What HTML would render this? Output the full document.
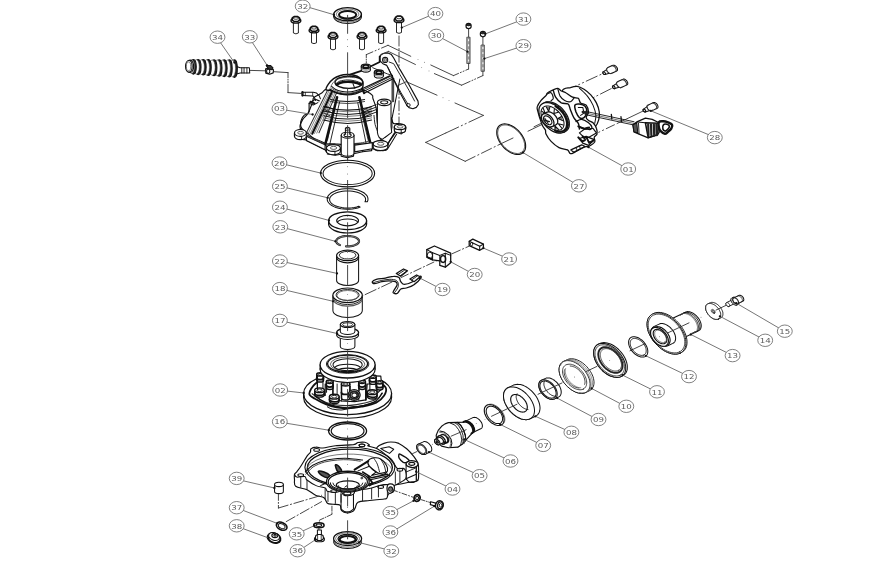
<!DOCTYPE html>
<html><head><meta charset="utf-8"><title>Exploded view</title>
<style>
html,body{margin:0;padding:0;background:#fff;}
body{width:885px;height:573px;overflow:hidden;}
svg{display:block;}
svg{filter:grayscale(1);}
.t{font-family:"DejaVu Sans","Liberation Sans",sans-serif;font-size:7.4px;fill:#5a5a5a;}
</style></head><body>
<svg width="885" height="573" viewBox="0 0 885 573" stroke-linecap="round" stroke-linejoin="round">
<rect x="0" y="0" width="885" height="573" fill="#fff"/>
<ellipse cx="347.6" cy="16.8" rx="13.8" ry="6.6" fill="none" stroke="#111" stroke-width="1.02" stroke-linecap="butt" />
<ellipse cx="347.6" cy="15.5" rx="13.8" ry="6.6" fill="none" stroke="#555" stroke-width="0.77" stroke-linecap="butt" />
<ellipse cx="347.6" cy="14.2" rx="13.8" ry="6.6" fill="#fff" stroke="#111" stroke-width="1.41" stroke-linecap="butt" />
<ellipse cx="347.6" cy="14.2" rx="11.3" ry="5.2" fill="none" stroke="#555" stroke-width="0.77" stroke-linecap="butt" />
<ellipse cx="347.6" cy="14.799999999999999" rx="8.6" ry="3.8" fill="none" stroke="#111" stroke-width="2.05" stroke-linecap="butt" />
<path d="M333.8 14.2 v2.6 M361.40000000000003 14.2 v2.6" fill="none" stroke="#111" stroke-width="1.02" />
<path d="M293.4 22.0 V33.0 Q295.9 34.7 298.4 33.0 V22.0" fill="#fff" stroke="#111" stroke-width="0.90" />
<ellipse cx="295.9" cy="20.7" rx="4.9" ry="2.4" fill="#fff" stroke="#111" stroke-width="1.41" stroke-linecap="butt" />
<path d="M292.29999999999995 17.9 L294.09999999999997 16.5 H297.7 L299.5 17.9 V20.1 L297.7 21.5 H294.09999999999997 L292.29999999999995 20.1 Z" fill="#fff" stroke="#111" stroke-width="1.54" />
<ellipse cx="295.9" cy="18.1" rx="2.6" ry="1.2" fill="none" stroke="#111" stroke-width="0.77" stroke-linecap="butt" />
<path d="M311.5 31.8 V42.8 Q314 44.5 316.5 42.8 V31.8" fill="#fff" stroke="#111" stroke-width="0.90" />
<ellipse cx="314" cy="30.5" rx="4.9" ry="2.4" fill="#fff" stroke="#111" stroke-width="1.41" stroke-linecap="butt" />
<path d="M310.4 27.7 L312.2 26.3 H315.8 L317.6 27.7 V29.900000000000002 L315.8 31.3 H312.2 L310.4 29.900000000000002 Z" fill="#fff" stroke="#111" stroke-width="1.54" />
<ellipse cx="314" cy="27.900000000000002" rx="2.6" ry="1.2" fill="none" stroke="#111" stroke-width="0.77" stroke-linecap="butt" />
<path d="M330.5 38.0 V49.0 Q333 50.7 335.5 49.0 V38.0" fill="#fff" stroke="#111" stroke-width="0.90" />
<ellipse cx="333" cy="36.7" rx="4.9" ry="2.4" fill="#fff" stroke="#111" stroke-width="1.41" stroke-linecap="butt" />
<path d="M329.4 33.9 L331.2 32.5 H334.8 L336.6 33.9 V36.1 L334.8 37.5 H331.2 L329.4 36.1 Z" fill="#fff" stroke="#111" stroke-width="1.54" />
<ellipse cx="333" cy="34.1" rx="2.6" ry="1.2" fill="none" stroke="#111" stroke-width="0.77" stroke-linecap="butt" />
<path d="M359.5 38.0 V49.0 Q362 50.7 364.5 49.0 V38.0" fill="#fff" stroke="#111" stroke-width="0.90" />
<ellipse cx="362" cy="36.7" rx="4.9" ry="2.4" fill="#fff" stroke="#111" stroke-width="1.41" stroke-linecap="butt" />
<path d="M358.4 33.9 L360.2 32.5 H363.8 L365.6 33.9 V36.1 L363.8 37.5 H360.2 L358.4 36.1 Z" fill="#fff" stroke="#111" stroke-width="1.54" />
<ellipse cx="362" cy="34.1" rx="2.6" ry="1.2" fill="none" stroke="#111" stroke-width="0.77" stroke-linecap="butt" />
<path d="M378.6 31.8 V42.8 Q381.1 44.5 383.6 42.8 V31.8" fill="#fff" stroke="#111" stroke-width="0.90" />
<ellipse cx="381.1" cy="30.5" rx="4.9" ry="2.4" fill="#fff" stroke="#111" stroke-width="1.41" stroke-linecap="butt" />
<path d="M377.5 27.7 L379.3 26.3 H382.90000000000003 L384.70000000000005 27.7 V29.900000000000002 L382.90000000000003 31.3 H379.3 L377.5 29.900000000000002 Z" fill="#fff" stroke="#111" stroke-width="1.54" />
<ellipse cx="381.1" cy="27.900000000000002" rx="2.6" ry="1.2" fill="none" stroke="#111" stroke-width="0.77" stroke-linecap="butt" />
<path d="M396.5 21.5 V32.5 Q399 34.2 401.5 32.5 V21.5" fill="#fff" stroke="#111" stroke-width="0.90" />
<ellipse cx="399" cy="20.2" rx="4.9" ry="2.4" fill="#fff" stroke="#111" stroke-width="1.41" stroke-linecap="butt" />
<path d="M395.4 17.4 L397.2 16 H400.8 L402.6 17.4 V19.6 L400.8 21 H397.2 L395.4 19.6 Z" fill="#fff" stroke="#111" stroke-width="1.54" />
<ellipse cx="399" cy="17.6" rx="2.6" ry="1.2" fill="none" stroke="#111" stroke-width="0.77" stroke-linecap="butt" />
<path d="M399 36 L399 125" fill="none" stroke="#333" stroke-width="0.90" stroke-dasharray="10 2.5 1.2 2.5"/>
<ellipse cx="347.6" cy="173.5" rx="27" ry="13.3" fill="none" stroke="#111" stroke-width="1.15" stroke-linecap="butt" />
<ellipse cx="347.6" cy="173.6" rx="24.6" ry="11.0" fill="none" stroke="#111" stroke-width="1.02" stroke-linecap="butt" />
<path d="M360.2 207.1 L357.8 207.9 L355.2 208.6 L352.5 209.0 L349.6 209.2 L346.8 209.3 L343.9 209.1 L341.1 208.8 L338.5 208.2 L336.0 207.5 L333.8 206.6 L331.8 205.5 L330.1 204.3 L328.8 203.0 L327.9 201.7 L327.3 200.2 L327.2 198.8 L327.5 197.3 L328.1 195.9 L329.2 194.6 L330.6 193.3 L332.3 192.2 L334.4 191.2 L336.7 190.3 L339.2 189.6 L341.9 189.1 L344.7 188.8 L347.6 188.7 L350.5 188.8 L353.3 189.1 L356.0 189.6 L358.5 190.3 L360.8 191.2 L362.9 192.2 L364.6 193.3 L366.0 194.6 L367.1 195.9 L367.7 197.3 L368.0 198.8 L367.9 200.2 L367.3 201.7 L365.0 201.7 L365.5 200.5 L365.6 199.3 L365.4 198.1 L364.8 197.0 L363.9 195.9 L362.6 194.8 L361.1 193.9 L359.3 193.0 L357.2 192.3 L355.0 191.8 L352.6 191.3 L350.1 191.1 L347.6 191.0 L345.1 191.1 L342.6 191.3 L340.2 191.7 L338.0 192.3 L335.9 193.0 L334.1 193.9 L332.6 194.8 L331.3 195.9 L330.4 197.0 L329.8 198.1 L329.6 199.3 L329.7 200.5 L330.2 201.7 L331.0 202.8 L332.2 203.9 L333.6 204.9 L335.4 205.7 L337.4 206.5 L339.5 207.1 L341.9 207.6 L344.3 207.9 L346.9 208.0 L349.4 208.0 L351.9 207.8 L354.3 207.4 L356.6 206.9 L358.7 206.2 Z" fill="#fff" stroke="#111" stroke-width="1.02" />
<ellipse cx="347.6" cy="224.1" rx="19" ry="8.9" fill="#fff" stroke="#111" stroke-width="1.15" stroke-linecap="butt" />
<ellipse cx="347.6" cy="220.7" rx="19" ry="8.9" fill="#fff" stroke="#111" stroke-width="1.28" stroke-linecap="butt" />
<path d="M328.6 220.7 v3.4 M366.6 220.7 v3.4" fill="none" stroke="#111" stroke-width="1.15" />
<ellipse cx="347.6" cy="220.6" rx="10.9" ry="5.2" fill="none" stroke="#111" stroke-width="1.15" stroke-linecap="butt" />
<path d="M337.3 222.3 A10.6 4.4 0 0 1 357.90000000000003 222.3" fill="none" stroke="#111" stroke-width="1.02" />
<path d="M340.0 245.1 L338.8 244.5 L337.9 243.9 L337.1 243.3 L336.6 242.6 L336.3 241.9 L336.2 241.1 L336.3 240.4 L336.7 239.7 L337.3 239.0 L338.1 238.3 L339.1 237.7 L340.2 237.2 L341.6 236.8 L343.0 236.4 L344.5 236.2 L346.1 236.0 L347.7 236.0 L349.3 236.1 L350.9 236.2 L352.4 236.5 L353.8 236.8 L355.1 237.3 L356.3 237.8 L357.2 238.4 L358.0 239.1 L358.6 239.8 L358.9 240.5 L359.0 241.2 L358.9 242.0 L358.5 242.7 L358.0 243.4 L357.2 244.0 L356.2 244.6 L355.1 245.1 L353.8 245.6 L352.3 245.9 L350.8 246.2 L349.2 246.3 L347.6 246.4 L346.0 246.3" fill="none" stroke="#222" stroke-width="2.18" />
<path d="M340.0 245.1 L338.8 244.5 L337.9 243.9 L337.1 243.3 L336.6 242.6 L336.3 241.9 L336.2 241.1 L336.3 240.4 L336.7 239.7 L337.3 239.0 L338.1 238.3 L339.1 237.7 L340.2 237.2 L341.6 236.8 L343.0 236.4 L344.5 236.2 L346.1 236.0 L347.7 236.0 L349.3 236.1 L350.9 236.2 L352.4 236.5 L353.8 236.8 L355.1 237.3 L356.3 237.8 L357.2 238.4 L358.0 239.1 L358.6 239.8 L358.9 240.5 L359.0 241.2 L358.9 242.0 L358.5 242.7 L358.0 243.4 L357.2 244.0 L356.2 244.6 L355.1 245.1 L353.8 245.6 L352.3 245.9 L350.8 246.2 L349.2 246.3 L347.6 246.4 L346.0 246.3" fill="none" stroke="#ccc" stroke-width="0.51" />
<path d="M336.6 255.4 V280.5 A11 5 0 0 0 358.6 280.5 V255.4" fill="#fff" stroke="#111" stroke-width="1.02" />
<ellipse cx="347.6" cy="255.4" rx="11" ry="5.3" fill="#fff" stroke="#111" stroke-width="1.15" stroke-linecap="butt" />
<ellipse cx="347.6" cy="255.2" rx="8.3" ry="3.8" fill="none" stroke="#111" stroke-width="0.90" stroke-linecap="butt" />
<path d="M336.6 257.6 A11 5.3 0 0 0 358.6 257.6" fill="none" stroke="#111" stroke-width="1.15" />
<path d="M332.90000000000003 295.3 V310.5 A14.7 7 0 0 0 362.3 310.5 V295.3" fill="#fff" stroke="#111" stroke-width="1.02" />
<path d="M332.90000000000003 297.3 A14.7 7.3 0 0 0 362.3 297.3" fill="none" stroke="#111" stroke-width="0.90" />
<path d="M332.90000000000003 298.8 A14.7 7.3 0 0 0 362.3 298.8" fill="none" stroke="#555" stroke-width="1.15" />
<ellipse cx="347.6" cy="295.3" rx="14.7" ry="7.3" fill="#fff" stroke="#111" stroke-width="1.15" stroke-linecap="butt" />
<ellipse cx="347.6" cy="295.0" rx="11.6" ry="5.5" fill="none" stroke="#111" stroke-width="0.90" stroke-linecap="butt" />
<ellipse cx="347.6" cy="295.4" rx="10.6" ry="4.9" fill="none" stroke="#555" stroke-width="0.77" stroke-linecap="butt" />
<path d="M340.3 337 V346.5 A7.3 3 0 0 0 354.90000000000003 346.5 V337" fill="#fff" stroke="#111" stroke-width="1.02" />
<ellipse cx="347.6" cy="334.9" rx="11" ry="4.6" fill="#fff" stroke="#111" stroke-width="1.02" stroke-linecap="butt" />
<ellipse cx="347.6" cy="332.6" rx="11" ry="4.6" fill="#fff" stroke="#111" stroke-width="1.28" stroke-linecap="butt" />
<path d="M340.3 324.5 V331.5 A7.3 3 0 0 0 354.90000000000003 331.5 V324.5" fill="#fff" stroke="#111" stroke-width="1.02" />
<ellipse cx="347.6" cy="324.5" rx="7.3" ry="3" fill="#fff" stroke="#111" stroke-width="1.15" stroke-linecap="butt" />
<ellipse cx="347.6" cy="324.6" rx="5" ry="1.9" fill="none" stroke="#111" stroke-width="0.90" stroke-linecap="butt" />
<path d="M379.7 57.5 L381.2 54.6 L384.0 53.2 L388.0 52.9 L391.4 54.6 L393.7 58.0 L399.9 69.4 L409.0 84.7 L418.0 101.1 L418.4 104.5 L416.3 107.4 L412.9 108.7 L409.0 107.6 L406.7 105.1 L399.9 92.6 L393.7 80.1 L388.5 68.8 L386.8 65.4 L382.9 63.7 L380.0 60.9 Z" fill="#fff" stroke="#111" stroke-width="1.15" />
<path d="M389.1 62.0 L393.7 63.7 L399.9 74.5 L409.0 90.4 L414.6 101.1" fill="none" stroke="#111" stroke-width="0.90" />
<path d="M388.0 67.7 L394.2 80.1 L401.0 92.6 L407.8 104.0" fill="none" stroke="#111" stroke-width="0.90" />
<ellipse cx="385.14739229024946" cy="59.965986394557824" rx="2.6" ry="2.6" fill="none" stroke="#111" stroke-width="1.02" stroke-linecap="butt" />
<ellipse cx="385.14739229024946" cy="59.965986394557824" rx="1.3" ry="1.3" fill="none" stroke="#111" stroke-width="0.77" stroke-linecap="butt" />
<ellipse cx="408.390022675737" cy="105.09070294784581" rx="1.8" ry="1.6" fill="none" stroke="#111" stroke-width="0.90" stroke-linecap="butt" />
<path d="M391.6 117.7 C391.9 116.7 392.1 122.4 393.3 123.3 C394.5 124.3 397.0 123.2 399.0 123.6 C400.9 123.9 403.7 124.5 404.9 125.4 C406.0 126.3 406.3 127.8 405.8 129.0 C405.2 130.2 403.4 132.1 401.8 132.6 C400.2 133.2 397.5 131.9 396.1 132.4 C394.7 132.9 394.5 134.1 393.3 135.8 C392.1 137.5 389.8 140.5 388.8 142.6 C387.7 144.7 388.0 147.0 387.1 148.3 C386.1 149.6 385.3 150.6 383.1 150.6 C380.9 150.6 375.9 149.4 374.0 148.3 C372.1 147.2 371.2 145.5 371.7 143.8 C372.3 142.1 375.1 139.2 377.4 138.1 C379.7 137.0 383.0 138.5 385.4 137.0 C387.7 135.4 390.5 132.2 391.6 129.0 C392.6 125.8 391.3 118.6 391.6 117.7 Z" fill="#fff" stroke="#111" stroke-width="1.15" />
<ellipse cx="399.5238095238095" cy="126.29251700680271" rx="3.2" ry="1.6" fill="none" stroke="#111" stroke-width="0.90" stroke-linecap="butt" />
<path d="M394.4 127.3 L395.0 131.3 L401.2 134.1 L405.5 130.7" fill="none" stroke="#111" stroke-width="0.90" />
<path d="M294.5 132.9 L294.5 136.3 L296.8 138.2 L300.2 139.2 L306.4 139.9 L306.4 140.4 L325.1 149.8 L326.4 152.0 L328.8 154.0 L327.4 154.0 L335.4 155.3 L341.0 154.2 L341.2 156.2 L347.3 157.6 L353.5 156.2 L353.7 153.7 L362.6 151.7 L371.6 150.6 L371.7 148.3 L377.4 150.8 L386.5 150.0 L387.4 144.9 L383.1 140.4 L374.0 139.8 L362.7 129.0 L351.3 117.7 L335.4 117.7 L318.3 123.3 L307.0 127.9 L300.2 129.0 Z" fill="#fff" stroke="#111" stroke-width="1.15" />
<path d="M353.7 150.3 C355.2 150.0 359.6 148.8 362.6 148.3 C365.5 147.8 370.0 147.7 371.6 147.2 C373.3 146.6 371.3 144.8 372.3 144.9 C373.4 144.9 375.7 147.1 378.0 147.4 C380.2 147.7 384.3 147.0 385.9 146.6 C387.5 146.2 387.1 145.2 387.4 144.9" fill="none" stroke="#111" stroke-width="1.02" />
<line x1="362.562358276644" y1="148.28798185941042" x2="362.562358276644" y2="151.68934240362813" stroke="#111" stroke-width="0.90" />
<line x1="371.63265306122446" y1="147.15419501133786" x2="371.63265306122446" y2="150.55555555555554" stroke="#111" stroke-width="0.90" />
<line x1="372.312925170068" y1="144.88662131519274" x2="372.312925170068" y2="148.28798185941042" stroke="#111" stroke-width="0.90" />
<line x1="385.9183673469388" y1="146.5873015873016" x2="385.9183673469388" y2="149.98866213151928" stroke="#111" stroke-width="0.90" />
<ellipse cx="380.81632653061223" cy="143.52607709750566" rx="3.2" ry="1.6" fill="none" stroke="#111" stroke-width="1.02" stroke-linecap="butt" />
<path d="M326.8 89.1 C331.1 88.0 341.4 86.3 347.3 86.4 C353.1 86.5 358.9 89.0 362.2 89.8 C365.5 90.7 365.3 90.6 367.0 91.5 C368.7 92.4 371.4 94.1 372.4 95.3 C373.4 96.4 372.2 96.2 372.9 98.4 C373.5 100.6 375.5 104.4 376.3 108.6 C377.0 112.8 376.5 118.4 377.4 123.3 C378.4 128.3 382.7 134.9 382.0 138.1 C381.2 141.3 374.8 141.5 372.9 142.6 C371.0 143.8 373.0 144.7 370.5 144.9 C368.0 145.1 361.9 143.8 358.0 143.8 C354.2 143.8 351.0 144.9 347.3 144.9 C343.5 144.9 339.0 143.9 335.4 143.8 C331.7 143.6 328.4 144.3 325.1 143.8 C321.9 143.2 318.8 142.0 316.1 140.4 C313.3 138.7 311.4 136.2 308.7 134.1 C306.1 132.0 301.2 130.2 300.2 127.9 C299.2 125.5 301.1 122.4 302.5 119.9 C303.8 117.5 306.4 116.2 308.1 113.1 C309.8 110.1 311.7 104.4 312.7 101.8 C313.6 99.2 312.3 99.1 313.8 97.6 C315.3 96.2 319.6 94.5 321.7 93.1 C323.9 91.7 322.6 90.2 326.8 89.1 Z" fill="#fff" stroke="#111" stroke-width="1.15" />
<path d="M302.5 92.2 L313.2 92.2 L316.6 93.1 L319.3 95.9 L320.4 98.8" fill="none" stroke="#111" stroke-width="1.02" />
<path d="M302.5 95.6 L312.7 95.9 L314.4 97.6 L315.5 100.5" fill="none" stroke="#111" stroke-width="1.02" />
<line x1="302.4716553287982" y1="92.17687074829931" x2="302.4716553287982" y2="95.578231292517" stroke="#111" stroke-width="2.30" />
<line x1="305.3061224489796" y1="92.40362811791383" x2="305.3061224489796" y2="95.69160997732426" stroke="#111" stroke-width="0.77" />
<line x1="312.67573696145126" y1="92.40362811791383" x2="312.67573696145126" y2="95.80498866213152" stroke="#111" stroke-width="0.77" />
<path d="M308.4 113.2 C307.7 113.5 305.5 114.1 304.3 115.2 C303.1 116.3 301.9 118.4 301.3 120.0 C300.6 121.6 300.5 123.4 300.6 124.7 C300.6 126.1 300.9 127.0 301.6 128.1 C302.3 129.3 304.4 131.0 305.0 131.5" fill="none" stroke="#111" stroke-width="1.15" />
<path d="M309.1 111.8 L309.1 103.3 L315.2 99.2 L319.3 100.9" fill="none" stroke="#111" stroke-width="1.15" />
<path d="M309.1 103.3 L313.2 105.0 L317.9 102.6" fill="none" stroke="#111" stroke-width="1.02" />
<path d="M310.4 101.6 L314.5 103.3" fill="none" stroke="#111" stroke-width="1.79" />
<line x1="328.3" y1="88.8" x2="305.5" y2="134.8" stroke="#333" stroke-width="1.02" />
<line x1="329.6666666666667" y1="89.5" x2="307.75" y2="134.46666666666667" stroke="#333" stroke-width="0.58" />
<line x1="331.03333333333336" y1="90.2" x2="310.0" y2="134.13333333333335" stroke="#333" stroke-width="0.58" />
<line x1="332.40000000000003" y1="90.89999999999999" x2="312.25" y2="133.8" stroke="#111" stroke-width="2.05" />
<line x1="333.76666666666665" y1="91.6" x2="314.5" y2="133.46666666666667" stroke="#333" stroke-width="0.58" />
<line x1="335.1333333333333" y1="92.3" x2="316.75" y2="133.13333333333335" stroke="#333" stroke-width="0.58" />
<line x1="336.5" y1="93.0" x2="319.0" y2="132.8" stroke="#333" stroke-width="1.02" />
<line x1="326.0952380952381" y1="106.36734693877551" x2="332.8979591836735" y2="109.08843537414967" stroke="#111" stroke-width="1.02" />
<line x1="325.0748299319728" y1="109.7687074829932" x2="331.5374149659864" y2="112.48979591836735" stroke="#111" stroke-width="0.90" />
<line x1="324.05442176870747" y1="113.17006802721089" x2="330.17687074829934" y2="115.89115646258503" stroke="#111" stroke-width="0.90" />
<path d="M323.6 106.7 Q347.6 113.4 371.6 106.7" fill="none" stroke="#111" stroke-width="1.15" />
<path d="M323.6 108.5 Q347.6 115.2 371.6 108.5" fill="none" stroke="#555" stroke-width="0.77" />
<path d="M323.6 111.1 Q347.6 117.8 371.6 111.1" fill="none" stroke="#111" stroke-width="1.02" />
<path d="M323.6 113.1 Q347.6 119.8 371.6 113.1" fill="none" stroke="#555" stroke-width="0.77" />
<path d="M323.6 115.7 Q347.6 122.4 371.6 115.7" fill="none" stroke="#111" stroke-width="1.02" />
<path d="M323.6 117.9 Q347.6 124.60000000000001 371.6 117.9" fill="none" stroke="#555" stroke-width="0.77" />
<path d="M323.6 120.1 Q347.6 126.8 371.6 120.1" fill="none" stroke="#111" stroke-width="1.02" />
<path d="M330.6 99.5 Q347.6 103.6 364.6 99.5" fill="none" stroke="#111" stroke-width="1.02" />
<path d="M330.6 101.5 Q347.6 105.6 364.6 101.5" fill="none" stroke="#111" stroke-width="0.77" />
<line x1="364.3764172335601" y1="109.17233560090703" x2="376.05442176870747" y2="104.63718820861678" stroke="#111" stroke-width="1.02" />
<line x1="364.3764172335601" y1="111.66666666666667" x2="376.05442176870747" y2="107.13151927437642" stroke="#111" stroke-width="1.02" />
<line x1="364.3764172335601" y1="114.1609977324263" x2="376.05442176870747" y2="109.62585034013605" stroke="#111" stroke-width="1.02" />
<line x1="364.3764172335601" y1="116.65532879818593" x2="376.05442176870747" y2="112.12018140589569" stroke="#111" stroke-width="1.02" />
<path d="M374.0 115.4 C374.2 116.9 374.4 121.5 375.1 124.5 C375.9 127.5 377.4 131.2 378.5 133.5 C379.7 135.9 381.4 137.8 382.0 138.7" fill="none" stroke="#111" stroke-width="0.90" />
<line x1="337.0521541950113" y1="97.26757369614512" x2="325.374149659864" y2="143.9795918367347" stroke="#111" stroke-width="2.56" />
<line x1="339.65986394557825" y1="101.80272108843538" x2="329.9092970521542" y2="143.75283446712018" stroke="#111" stroke-width="0.90" />
<line x1="334.7845804988662" y1="108.60544217687075" x2="327.4149659863946" y2="140.3514739229025" stroke="#111" stroke-width="0.77" />
<line x1="359.38775510204084" y1="97.26757369614512" x2="370.72562358276645" y2="144.88662131519274" stroke="#111" stroke-width="2.56" />
<line x1="357.8004535147392" y1="102.93650793650794" x2="366.1904761904762" y2="143.75283446712018" stroke="#111" stroke-width="0.90" />
<line x1="361.42857142857144" y1="112.00680272108843" x2="368.2312925170068" y2="140.3514739229025" stroke="#111" stroke-width="0.77" />
<path d="M327.4 144.0 C328.7 144.1 333.1 144.7 335.4 144.9 C337.6 145.1 340.1 145.1 341.0 145.1" fill="none" stroke="#111" stroke-width="0.77" />
<path d="M354.6 143.5 C355.9 143.4 360.1 143.1 362.6 142.6 C365.0 142.2 368.2 141.2 369.4 140.9" fill="none" stroke="#111" stroke-width="0.77" />
<path d="M306.4 136.3 L325.1 144.8 L325.1 149.8 L306.4 140.4 Z" fill="#fff" stroke="#111" stroke-width="1.15" />
<path d="M307.7 135.5 L316.6 139.4 L324.7 143.0" fill="none" stroke="#111" stroke-width="1.02" />
<path d="M308.4 137.0 L324.1 143.8" fill="none" stroke="#444" stroke-width="0.77" />
<path d="M294.5 132.9 v3.4 a5.9 3.4 0 0 0 11.8 0 v-3.4" fill="#fff" stroke="#111" stroke-width="1.15" />
<ellipse cx="300.4" cy="132.9" rx="5.9" ry="3.4" fill="#fff" stroke="#111" stroke-width="1.15" stroke-linecap="butt" />
<ellipse cx="300.6" cy="132.8" rx="2.9" ry="1.4" fill="none" stroke="#333" stroke-width="0.77" stroke-linecap="butt" />
<line x1="301.6054421768707" y1="136.3265306122449" x2="301.6054421768707" y2="139.3877551020408" stroke="#111" stroke-width="0.90" />
<path d="M326.4 148.0 v3.4 a7.0 3.4 0 0 0 14.0 0 v-3.4" fill="#fff" stroke="#111" stroke-width="1.15" />
<ellipse cx="333.4" cy="148.0" rx="7.0" ry="3.4" fill="#fff" stroke="#111" stroke-width="1.15" stroke-linecap="butt" />
<ellipse cx="333.6" cy="147.9" rx="3.2" ry="1.5" fill="none" stroke="#333" stroke-width="0.77" stroke-linecap="butt" />
<line x1="334.9387755102041" y1="151.42857142857144" x2="334.9387755102041" y2="154.82993197278913" stroke="#111" stroke-width="0.90" />
<path d="M327.1 146.5 L325.1 144.8" fill="none" stroke="#111" stroke-width="1.02" />
<path d="M354.7 145.1 L372.3 142.6 L372.3 148.7 L354.7 151.9 Z" fill="#fff" stroke="#111" stroke-width="1.15" />
<path d="M387.1 144.9 L393.3 134.7 L395.6 131.8" fill="none" stroke="#111" stroke-width="1.15" />
<path d="M387.4 149.2 L391.6 142.6 L396.7 134.1" fill="none" stroke="#111" stroke-width="1.02" />
<path d="M373.2 143.9 v3.4 a7.3 3.3 0 0 0 14.6 0 v-3.4" fill="#fff" stroke="#111" stroke-width="1.15" />
<ellipse cx="380.5" cy="143.9" rx="7.3" ry="3.3" fill="#fff" stroke="#111" stroke-width="1.15" stroke-linecap="butt" />
<ellipse cx="380.7" cy="143.8" rx="3.2" ry="1.5" fill="none" stroke="#333" stroke-width="0.77" stroke-linecap="butt" />
<path d="M394.3 126.9 v3.4 a5.6 2.7 0 0 0 11.2 0 v-3.4" fill="#fff" stroke="#111" stroke-width="1.15" />
<ellipse cx="399.9" cy="126.9" rx="5.6" ry="2.7" fill="#fff" stroke="#111" stroke-width="1.15" stroke-linecap="butt" />
<ellipse cx="400.1" cy="126.8" rx="2.9" ry="1.3" fill="none" stroke="#333" stroke-width="0.77" stroke-linecap="butt" />
<line x1="401.2244897959184" y1="130.14739229024943" x2="401.2244897959184" y2="133.5487528344671" stroke="#111" stroke-width="0.90" />
<path d="M326.2 89.8 C325.6 88.8 327.0 86.2 328.2 84.4 C329.5 82.5 331.6 80.1 333.6 78.6 C335.7 77.1 338.2 76.2 340.4 75.5 C342.7 74.8 345.0 74.6 347.3 74.5 C349.5 74.4 352.0 74.7 354.1 75.2 C356.1 75.7 358.1 76.5 359.5 77.6 C360.9 78.6 362.0 79.8 362.6 81.3 C363.1 82.8 363.1 85.0 362.9 86.4 C362.7 87.8 362.7 88.4 361.5 89.5 C360.4 90.5 358.5 91.7 356.1 92.5 C353.7 93.3 350.2 94.1 347.3 94.2 C344.3 94.3 341.0 93.8 338.4 93.2 C335.8 92.6 333.6 91.1 331.6 90.5 C329.6 89.9 326.7 90.8 326.2 89.8 Z" fill="#fff" stroke="#111" stroke-width="1.41" />
<path d="M331.6 86.4 C332.3 86.9 334.1 88.7 335.7 89.5 C337.3 90.3 339.2 90.9 341.1 91.3 C343.1 91.7 345.0 92.0 347.3 92.0 C349.5 91.9 352.4 91.6 354.7 91.0 C357.1 90.5 360.4 89.2 361.5 88.8" fill="none" stroke="#111" stroke-width="1.15" />
<path d="M330.9 87.8 C331.7 88.3 334.0 90.0 335.7 90.8 C337.4 91.6 339.2 92.2 341.1 92.7 C343.1 93.1 345.0 93.4 347.3 93.3 C349.5 93.3 352.3 93.0 354.7 92.4 C357.2 91.8 360.7 90.2 361.9 89.8" fill="none" stroke="#444" stroke-width="0.90" />
<path d="M329.9 89.1 C330.8 89.7 333.1 91.6 335.0 92.4 C336.9 93.2 339.1 93.8 341.1 94.2 C343.2 94.6 344.9 94.9 347.3 94.8 C349.6 94.8 352.9 94.4 355.4 93.8 C357.9 93.1 361.1 91.5 362.2 91.0" fill="none" stroke="#111" stroke-width="1.28" />
<ellipse cx="348.9" cy="82.3" rx="13.9" ry="6.1" fill="#fff" stroke="#111" stroke-width="1.41" stroke-linecap="butt" />
<path d="M335.8 83.8 C336.5 83.4 337.9 81.7 339.8 81.1 C341.7 80.5 344.8 80.0 347.3 79.9 C349.7 79.9 352.3 80.3 354.7 80.8 C357.2 81.4 360.7 82.9 361.9 83.3" fill="none" stroke="#111" stroke-width="0.90" />
<path d="M336.7 84.7 C337.3 84.4 338.7 83.2 340.4 82.7 C342.2 82.2 344.9 81.8 347.3 81.8 C349.6 81.7 352.5 82.0 354.7 82.5 C357.0 82.9 359.8 84.0 360.9 84.4" fill="none" stroke="#111" stroke-width="2.56" />
<path d="M330.9 86.4 C331.3 85.7 332.1 83.6 333.3 82.3 C334.6 81.1 336.1 79.8 338.4 78.9 C340.7 78.1 344.5 77.4 347.3 77.2 C350.0 77.0 353.5 77.6 354.7 77.7" fill="none" stroke="#444" stroke-width="0.77" />
<line x1="353.03401360544217" y1="83.82312925170068" x2="354.734693877551" y2="88.10884353741497" stroke="#111" stroke-width="1.02" />
<path d="M362.6 88.5 L389.8 75.9" fill="none" stroke="#111" stroke-width="1.28" />
<path d="M362.7 90.1 L392.2 75.4" fill="none" stroke="#111" stroke-width="0.90" />
<path d="M363.4 91.5 L392.9 77.0" fill="none" stroke="#111" stroke-width="0.90" />
<path d="M364.2 93.2 L393.7 78.4" fill="none" stroke="#111" stroke-width="1.15" />
<line x1="361.9047619047619" y1="88.65079365079364" x2="364.17233560090705" y2="93.1859410430839" stroke="#111" stroke-width="2.05" />
<path d="M350.0 74.7 L361.3 70.9" fill="none" stroke="#111" stroke-width="1.79" />
<path d="M371.0 66.3 L379.7 62.0 L379.7 56.3" fill="none" stroke="#111" stroke-width="1.79" />
<path d="M372.7 67.7 L387.4 73.9 L392.2 75.4" fill="none" stroke="#111" stroke-width="0.90" />
<path d="M361.2730158730158 66.31519274376417 v3.5 a4.6 2.3 0 0 0 9.2 0 v-3.5" fill="#fff" stroke="#111" stroke-width="1.02" />
<ellipse cx="365.87301587301585" cy="67.81519274376417" rx="4.6" ry="2.3" fill="none" stroke="#555" stroke-width="0.77" stroke-linecap="butt" />
<ellipse cx="365.87301587301585" cy="66.31519274376417" rx="4.6" ry="2.3" fill="#fff" stroke="#111" stroke-width="1.15" stroke-linecap="butt" />
<ellipse cx="365.87301587301585" cy="66.31519274376417" rx="2.852" ry="1.426" fill="none" stroke="#111" stroke-width="1.79" stroke-linecap="butt" />
<path d="M374.31156462585034 72.21088435374149 v3.5 a4.6 2.3 0 0 0 9.2 0 v-3.5" fill="#fff" stroke="#111" stroke-width="1.02" />
<ellipse cx="378.91156462585036" cy="73.71088435374149" rx="4.6" ry="2.3" fill="none" stroke="#555" stroke-width="0.77" stroke-linecap="butt" />
<ellipse cx="378.91156462585036" cy="72.21088435374149" rx="4.6" ry="2.3" fill="#fff" stroke="#111" stroke-width="1.15" stroke-linecap="butt" />
<ellipse cx="378.91156462585036" cy="72.21088435374149" rx="2.852" ry="1.426" fill="none" stroke="#111" stroke-width="1.79" stroke-linecap="butt" />
<line x1="392.17687074829934" y1="75.38548752834467" x2="392.17687074829934" y2="101.68934240362812" stroke="#111" stroke-width="1.15" />
<line x1="393.6507936507937" y1="78.44671201814059" x2="393.6507936507937" y2="101.68934240362812" stroke="#111" stroke-width="0.90" />
<line x1="399.88662131519277" y1="79.01360544217687" x2="392.1541950113379" y2="117.67573696145125" stroke="#111" stroke-width="1.02" />
<path d="M377.4176870748299 102.36961451247166 V132.36961451247166 Q378.21768707482994 138.36961451247166 382.21768707482994 139.36961451247166 L391.71768707482994 132.36961451247166 L391.01768707482995 126.36961451247166 V102.36961451247166" fill="#fff" stroke="#111" stroke-width="1.02" />
<ellipse cx="384.21768707482994" cy="102.36961451247166" rx="6.8" ry="3.3" fill="#fff" stroke="#111" stroke-width="1.15" stroke-linecap="butt" />
<ellipse cx="384.21768707482994" cy="102.36961451247166" rx="3.6" ry="1.6" fill="none" stroke="#111" stroke-width="1.02" stroke-linecap="butt" />
<path d="M341.20000000000005 135.2 V153.2 A6.4 3 0 0 0 354.0 153.2 V135.2" fill="#fff" stroke="#111" stroke-width="1.15" />
<ellipse cx="347.6" cy="135.2" rx="6.4" ry="3" fill="#fff" stroke="#111" stroke-width="1.15" stroke-linecap="butt" />
<ellipse cx="347.6" cy="135.2" rx="3.6" ry="1.6" fill="none" stroke="#111" stroke-width="1.02" stroke-linecap="butt" />
<path d="M345.40000000000003 134.2 V128.2 Q347.6 126.19999999999999 349.8 128.2 V134.2" fill="#fff" stroke="#111" stroke-width="1.02" />
<line x1="345.40000000000003" y1="128.7" x2="349.8" y2="129.2" stroke="#111" stroke-width="0.77" />
<line x1="345.40000000000003" y1="130.5" x2="349.8" y2="131.0" stroke="#111" stroke-width="0.77" />
<line x1="345.40000000000003" y1="132.29999999999998" x2="349.8" y2="132.79999999999998" stroke="#111" stroke-width="0.77" />
<ellipse cx="347.6" cy="397.2" rx="44" ry="21" fill="#fff" stroke="#111" stroke-width="1.15" stroke-linecap="butt" />
<ellipse cx="347.6" cy="393.6" rx="44" ry="21" fill="#fff" stroke="#111" stroke-width="1.28" stroke-linecap="butt" />
<path d="M303.6 393.6 v3.6 M391.6 393.6 v3.6" fill="none" stroke="#111" stroke-width="1.02" />
<path d="M309.3 393.7 C309.3 396.1 312.2 397.0 315.0 398.8 C317.8 400.5 322.8 403.0 326.3 404.4 C329.9 405.8 333.0 406.6 336.5 407.3 C340.1 407.9 343.7 408.5 347.9 408.4 C352.0 408.3 356.8 407.6 361.5 406.7 C366.2 405.7 372.5 404.6 376.2 402.7 C380.0 400.8 382.6 397.8 384.2 395.4 C385.8 392.9 386.6 390.1 385.9 388.0 C385.1 385.9 382.2 384.2 379.6 382.9 C377.1 381.6 375.9 380.8 370.6 380.0 C365.3 379.3 355.4 378.3 347.9 378.3 C340.3 378.3 330.7 379.1 325.2 380.0 C319.7 381.0 317.7 381.7 315.0 384.0 C312.4 386.3 309.3 391.2 309.3 393.7 Z" fill="#fff" stroke="#111" stroke-width="1.79" />
<path d="M312.2 393.7 C313.6 394.7 317.4 398.1 320.7 399.9 C324.0 401.6 327.5 403.3 332.0 404.2 C336.5 405.1 342.2 405.8 347.9 405.6 C353.6 405.3 361.1 404.0 366.0 402.8 C370.9 401.7 374.6 400.4 377.4 398.8 C380.1 397.1 381.6 394.0 382.5 393.1" fill="none" stroke="#333" stroke-width="1.15" />
<path d="M327.5 406.7 C328.2 407.1 329.7 408.4 332.0 409.0 C334.3 409.5 338.6 410.1 341.1 410.1 C343.5 410.1 345.8 409.1 346.8 409.0" fill="none" stroke="#111" stroke-width="1.02" />
<path d="M349.0 405.6 C350.3 405.7 353.7 406.9 357.0 406.7 C360.2 406.5 364.9 405.6 368.3 404.4 C371.7 403.3 375.1 401.8 377.4 399.9 C379.6 398.0 381.1 394.2 381.9 393.1" fill="none" stroke="#111" stroke-width="1.15" />
<path d="M317.3 373.8 L317.3 392.0 L325.2 395.4 L325.2 384.0 L333.1 384.0 L333.1 397.6 L341.1 401.0 L354.7 401.6 L366.0 399.9 L367.2 384.0 L376.2 384.0 L377.4 393.1 L381.9 388.5 L380.8 376.1 Z" fill="#fff" stroke="#111" stroke-width="1.15" />
<path d="M316.70884353741496 374.3764172335601 v6 a3.4 1.7 0 0 0 6.8 0 v-6" fill="#fff" stroke="#111" stroke-width="1.41" />
<ellipse cx="320.10884353741494" cy="374.3764172335601" rx="3.4" ry="1.7" fill="#fff" stroke="#111" stroke-width="1.41" stroke-linecap="butt" />
<ellipse cx="320.10884353741494" cy="374.3764172335601" rx="1.87" ry="0.935" fill="none" stroke="#111" stroke-width="0.90" stroke-linecap="butt" />
<path d="M316.70884353741496 377.97641723356014 a3.4 1.7 0 0 0 6.8 0" fill="none" stroke="#111" stroke-width="1.79" />
<path d="M369.4299319727891 376.64399092970524 v6 a3.4 1.7 0 0 0 6.8 0 v-6" fill="#fff" stroke="#111" stroke-width="1.41" />
<ellipse cx="372.8299319727891" cy="376.64399092970524" rx="3.4" ry="1.7" fill="#fff" stroke="#111" stroke-width="1.41" stroke-linecap="butt" />
<ellipse cx="372.8299319727891" cy="376.64399092970524" rx="1.87" ry="0.935" fill="none" stroke="#111" stroke-width="0.90" stroke-linecap="butt" />
<path d="M369.4299319727891 380.24399092970526 a3.4 1.7 0 0 0 6.8 0" fill="none" stroke="#111" stroke-width="1.79" />
<path d="M326.34603174603177 381.74603174603175 v6 a3.4 1.7 0 0 0 6.8 0 v-6" fill="#fff" stroke="#111" stroke-width="1.41" />
<ellipse cx="329.74603174603175" cy="381.74603174603175" rx="3.4" ry="1.7" fill="#fff" stroke="#111" stroke-width="1.41" stroke-linecap="butt" />
<ellipse cx="329.74603174603175" cy="381.74603174603175" rx="1.87" ry="0.935" fill="none" stroke="#111" stroke-width="0.90" stroke-linecap="butt" />
<path d="M326.34603174603177 385.34603174603177 a3.4 1.7 0 0 0 6.8 0" fill="none" stroke="#111" stroke-width="1.79" />
<path d="M358.6589569160998 381.74603174603175 v6 a3.4 1.7 0 0 0 6.8 0 v-6" fill="#fff" stroke="#111" stroke-width="1.41" />
<ellipse cx="362.05895691609976" cy="381.74603174603175" rx="3.4" ry="1.7" fill="#fff" stroke="#111" stroke-width="1.41" stroke-linecap="butt" />
<ellipse cx="362.05895691609976" cy="381.74603174603175" rx="1.87" ry="0.935" fill="none" stroke="#111" stroke-width="0.90" stroke-linecap="butt" />
<path d="M358.6589569160998 385.34603174603177 a3.4 1.7 0 0 0 6.8 0" fill="none" stroke="#111" stroke-width="1.79" />
<path d="M376.2326530612245 382.312925170068 v6 a3.4 1.7 0 0 0 6.8 0 v-6" fill="#fff" stroke="#111" stroke-width="1.41" />
<ellipse cx="379.63265306122446" cy="382.312925170068" rx="3.4" ry="1.7" fill="#fff" stroke="#111" stroke-width="1.41" stroke-linecap="butt" />
<ellipse cx="379.63265306122446" cy="382.312925170068" rx="1.87" ry="0.935" fill="none" stroke="#111" stroke-width="0.90" stroke-linecap="butt" />
<path d="M376.2326530612245 385.91292517006804 a3.4 1.7 0 0 0 6.8 0" fill="none" stroke="#111" stroke-width="1.79" />
<path d="M341.4190476190476 384.01360544217687 v14 a4.2 2 0 0 0 8.4 0 v-14" fill="#fff" stroke="#111" stroke-width="1.41" />
<ellipse cx="345.6190476190476" cy="384.01360544217687" rx="4.2" ry="2" fill="#fff" stroke="#111" stroke-width="1.41" stroke-linecap="butt" />
<ellipse cx="345.6190476190476" cy="384.01360544217687" rx="2.3100000000000005" ry="1.1" fill="none" stroke="#111" stroke-width="0.90" stroke-linecap="butt" />
<path d="M341.4190476190476 392.41360544217684 a4.2 2 0 0 0 8.4 0" fill="none" stroke="#111" stroke-width="1.79" />
<line x1="341.6507936507937" y1="386.281179138322" x2="341.6507936507937" y2="401.0204081632653" stroke="#111" stroke-width="1.02" />
<line x1="350.1541950113379" y1="386.281179138322" x2="350.1541950113379" y2="395.35147392290247" stroke="#111" stroke-width="1.02" />
<line x1="337.1156462585034" y1="384.01360544217687" x2="337.1156462585034" y2="397.6190476190476" stroke="#111" stroke-width="0.90" />
<line x1="359.2244897959184" y1="384.01360544217687" x2="359.2244897959184" y2="390.81632653061223" stroke="#111" stroke-width="0.90" />
<line x1="366.02721088435374" y1="384.01360544217687" x2="366.02721088435374" y2="399.88662131519277" stroke="#111" stroke-width="1.02" />
<path d="M314.74195011337866 390.24943310657596 v4.5 a4.8 2.4 0 0 0 9.6 0 v-4.5" fill="#fff" stroke="#111" stroke-width="1.41" />
<ellipse cx="319.5419501133787" cy="390.24943310657596" rx="4.8" ry="2.4" fill="#fff" stroke="#111" stroke-width="1.41" stroke-linecap="butt" />
<ellipse cx="319.5419501133787" cy="390.24943310657596" rx="2.64" ry="1.32" fill="none" stroke="#111" stroke-width="0.90" stroke-linecap="butt" />
<path d="M314.74195011337866 392.94943310657595 a4.8 2.4 0 0 0 9.6 0" fill="none" stroke="#111" stroke-width="1.79" />
<path d="M329.481179138322 396.7120181405896 v4.5 a4.8 2.4 0 0 0 9.6 0 v-4.5" fill="#fff" stroke="#111" stroke-width="1.41" />
<ellipse cx="334.281179138322" cy="396.7120181405896" rx="4.8" ry="2.4" fill="#fff" stroke="#111" stroke-width="1.41" stroke-linecap="butt" />
<ellipse cx="334.281179138322" cy="396.7120181405896" rx="2.64" ry="1.32" fill="none" stroke="#111" stroke-width="0.90" stroke-linecap="butt" />
<path d="M329.481179138322 399.41201814058957 a4.8 2.4 0 0 0 9.6 0" fill="none" stroke="#111" stroke-width="1.79" />
<path d="M367.4630385487528 392.17687074829934 v4.5 a4.8 2.4 0 0 0 9.6 0 v-4.5" fill="#fff" stroke="#111" stroke-width="1.41" />
<ellipse cx="372.26303854875283" cy="392.17687074829934" rx="4.8" ry="2.4" fill="#fff" stroke="#111" stroke-width="1.41" stroke-linecap="butt" />
<ellipse cx="372.26303854875283" cy="392.17687074829934" rx="2.64" ry="1.32" fill="none" stroke="#111" stroke-width="0.90" stroke-linecap="butt" />
<path d="M367.4630385487528 394.8768707482993 a4.8 2.4 0 0 0 9.6 0" fill="none" stroke="#111" stroke-width="1.79" />
<line x1="317.5011337868481" y1="375.51020408163265" x2="317.5011337868481" y2="389.6825396825397" stroke="#111" stroke-width="1.02" />
<line x1="322.9433106575964" y1="375.51020408163265" x2="322.9433106575964" y2="387.98185941043084" stroke="#111" stroke-width="1.02" />
<line x1="326.57142857142856" y1="383.1065759637188" x2="326.57142857142856" y2="392.17687074829934" stroke="#111" stroke-width="1.02" />
<line x1="332.6938775510204" y1="383.1065759637188" x2="332.6938775510204" y2="393.6507936507937" stroke="#111" stroke-width="1.02" />
<line x1="358.77097505668934" y1="383.1065759637188" x2="358.77097505668934" y2="399.88662131519277" stroke="#111" stroke-width="1.02" />
<line x1="365.5736961451247" y1="383.1065759637188" x2="365.5736961451247" y2="399.88662131519277" stroke="#111" stroke-width="1.02" />
<line x1="369.8820861678005" y1="377.77777777777777" x2="369.8820861678005" y2="389.6825396825397" stroke="#111" stroke-width="1.02" />
<line x1="376.0045351473923" y1="377.77777777777777" x2="376.0045351473923" y2="384.58049886621313" stroke="#111" stroke-width="1.02" />
<line x1="376.91156462585036" y1="383.4467120181406" x2="376.91156462585036" y2="389.1156462585034" stroke="#111" stroke-width="1.02" />
<line x1="382.4671201814059" y1="383.4467120181406" x2="382.4671201814059" y2="387.98185941043084" stroke="#111" stroke-width="1.02" />
<path d="M315.0 395.9 C316.9 397.1 322.8 401.5 326.3 403.3 C329.9 405.0 333.0 405.7 336.5 406.5 C340.1 407.2 343.7 407.9 347.9 407.8 C352.0 407.7 356.8 407.0 361.5 406.0 C366.2 405.0 373.8 402.3 376.2 401.6" fill="none" stroke="#111" stroke-width="1.28" />
<ellipse cx="354.1224489795918" cy="395.0113378684807" rx="6.0" ry="5.4" fill="#fff" stroke="#111" stroke-width="1.28" stroke-linecap="butt" />
<ellipse cx="354.1224489795918" cy="395.0113378684807" rx="4.2" ry="3.6" fill="none" stroke="#222" stroke-width="2.05" stroke-linecap="butt" />
<ellipse cx="354.4224489795918" cy="395.31133786848073" rx="2.6" ry="2.2" fill="none" stroke="#111" stroke-width="1.02" stroke-linecap="butt" />
<ellipse cx="347.6" cy="369.2" rx="27.5" ry="13.3" fill="#fff" stroke="#111" stroke-width="1.15" stroke-linecap="butt" />
<path d="M320.1 364.7 v4.5 M375.1 364.7 v4.5" fill="none" stroke="#111" stroke-width="1.02" />
<ellipse cx="347.6" cy="364.7" rx="27.5" ry="13.3" fill="#fff" stroke="#111" stroke-width="1.28" stroke-linecap="butt" />
<ellipse cx="347.6" cy="364.0" rx="21.2" ry="9.4" fill="none" stroke="#111" stroke-width="0.90" stroke-linecap="butt" />
<ellipse cx="347.6" cy="363.8" rx="20.0" ry="8.6" fill="none" stroke="#111" stroke-width="1.28" stroke-linecap="butt" />
<ellipse cx="347.6" cy="364.2" rx="17.2" ry="7.2" fill="none" stroke="#555" stroke-width="0.90" stroke-linecap="butt" />
<ellipse cx="347.6" cy="364.8" rx="14.6" ry="6.0" fill="none" stroke="#111" stroke-width="1.02" stroke-linecap="butt" />
<path d="M334.6 367.5 A14 5 0 0 1 360.6 367.5" fill="none" stroke="#111" stroke-width="1.02" />
<path d="M337.6 370.2 A11 3.4 0 0 1 357.6 370.2" fill="none" stroke="#111" stroke-width="1.28" />
<path d="M341.6 371.6 h12" fill="none" stroke="#111" stroke-width="1.54" />
<ellipse cx="347.6" cy="431.0" rx="19" ry="9.0" fill="none" stroke="#111" stroke-width="1.28" stroke-linecap="butt" />
<ellipse cx="347.6" cy="431.0" rx="16.4" ry="7.4" fill="none" stroke="#111" stroke-width="1.15" stroke-linecap="butt" />
<path d="M377.2 447.1 C378.7 445.1 381.7 444.3 384.0 443.4 C386.3 442.6 388.4 442.0 390.8 442.0 C393.3 442.0 396.1 442.3 398.8 443.4 C401.4 444.6 404.2 446.7 406.7 448.8 C409.1 450.9 411.6 453.7 413.5 456.1 C415.4 458.6 417.2 460.9 418.0 463.5 C418.9 466.2 418.6 469.3 418.6 472.0 C418.6 474.8 418.9 478.3 418.0 480.0 C417.2 481.6 415.0 481.3 413.5 481.7 C412.0 482.0 411.6 481.7 409.0 482.2 C406.3 482.7 401.2 484.1 397.6 484.5 C394.0 484.9 390.6 486.6 387.4 484.5 C384.2 482.4 380.4 476.9 378.3 472.0 C376.3 467.1 375.1 459.2 374.9 455.0 C374.8 450.8 375.7 449.0 377.2 447.1 Z" fill="#fff" stroke="#111" stroke-width="1.15" />
<path d="M380.6 448.4 L389.1 446.8 L393.7 449.3 L389.5 453.4 L384.0 450.5 Z" fill="none" stroke="#111" stroke-width="1.02" />
<path d="M398.8 455.0 C398.9 454.3 398.8 453.6 400.5 454.4 C402.2 455.3 407.9 458.8 409.0 460.1 C410.0 461.4 407.6 462.0 406.7 462.4 C405.7 462.8 404.5 463.0 403.3 462.4 C402.1 461.7 400.1 459.6 399.3 458.4 C398.6 457.2 398.6 455.7 398.8 455.0 Z" fill="none" stroke="#111" stroke-width="1.41" />
<path d="M406.1 463.5 C406.2 462.8 406.9 462.1 407.8 461.6 C408.8 461.1 410.3 460.6 411.8 460.7 C413.3 460.8 415.9 461.4 416.9 462.0 C417.9 462.6 418.1 463.5 418.0 464.3 C417.9 465.1 417.4 466.0 416.3 466.6 C415.3 467.1 413.3 467.6 411.8 467.5 C410.3 467.4 408.2 466.8 407.3 466.1 C406.3 465.5 406.0 464.3 406.1 463.5 Z" fill="#fff" stroke="#111" stroke-width="1.28" />
<ellipse cx="411.79138321995464" cy="463.8503401360544" rx="3.0" ry="1.5" fill="none" stroke="#111" stroke-width="1.15" stroke-linecap="butt" />
<path d="M406.1 463.9 L406.1 478.8 L409.0 482.2" fill="none" stroke="#111" stroke-width="1.02" />
<line x1="416.3265306122449" y1="466.57142857142856" x2="416.3265306122449" y2="479.9501133786848" stroke="#111" stroke-width="1.28" />
<path d="M406.1 472.0 L416.3 467.7" fill="none" stroke="#111" stroke-width="0.90" />
<path d="M406.1 478.8 L416.3 474.3" fill="none" stroke="#111" stroke-width="1.02" />
<path d="M409.0 482.2 C409.7 482.3 412.0 482.8 413.5 482.4 C415.0 482.1 417.3 480.4 418.0 480.0" fill="none" stroke="#111" stroke-width="1.02" />
<path d="M294.5 474.3 C294.9 473.0 295.8 473.1 296.8 471.8 C297.8 470.5 299.1 469.0 300.8 466.3 C302.5 463.7 305.4 458.5 307.0 456.1 C308.6 453.8 309.7 453.4 310.4 452.2 C311.1 450.9 310.0 449.6 311.0 448.8 C311.9 447.9 314.1 447.2 316.1 447.1 C318.1 446.9 319.7 448.2 322.9 448.0 C326.1 447.8 330.2 446.3 335.4 445.7 C340.5 445.1 349.7 445.1 353.5 444.6 C357.3 444.0 356.1 442.9 358.0 442.5 C359.9 442.2 362.9 441.9 364.8 442.3 C366.7 442.7 368.8 444.4 369.4 445.0 C369.9 445.6 366.8 445.3 368.1 445.9 C369.4 446.6 374.0 447.1 377.2 448.8 C380.4 450.5 384.6 453.6 387.4 456.1 C390.2 458.7 392.5 462.0 394.2 464.1 C395.9 466.2 396.1 467.9 397.6 468.6 C399.1 469.3 402.0 468.0 403.3 468.4 C404.6 468.8 405.2 469.1 405.6 470.9 C405.9 472.6 406.9 476.6 405.6 478.8 C404.2 481.0 399.5 482.8 397.6 483.9 C395.7 485.1 394.9 484.4 394.2 485.6 C393.6 486.8 394.6 489.9 393.7 491.3 C392.7 492.7 389.7 493.0 388.5 494.1 C387.4 495.3 387.6 497.3 386.8 498.1 C386.1 498.9 387.0 498.6 384.1 499.0 C381.2 499.4 373.7 500.0 369.4 500.5 C365.0 501.0 360.4 501.0 358.0 502.2 C355.7 503.4 356.0 506.4 355.2 507.9 C354.3 509.4 354.2 510.4 352.9 511.3 C351.6 512.1 349.1 513.1 347.3 513.0 C345.4 512.9 342.8 512.0 341.6 510.7 C340.4 509.4 341.3 506.1 339.9 505.0 C338.5 504.0 335.2 504.5 333.1 504.3 C331.0 504.0 328.9 504.4 327.4 503.3 C325.9 502.2 325.9 499.0 324.0 497.7 C322.1 496.4 318.9 496.7 316.1 495.4 C313.2 494.1 310.4 491.3 307.0 489.7 C303.6 488.2 297.7 488.0 295.7 486.3 C293.6 484.6 294.7 481.5 294.5 479.5 C294.3 477.5 294.2 475.6 294.5 474.3 Z" fill="#fff" stroke="#111" stroke-width="1.15" />
<path d="M294.5 474.3 C294.9 474.8 295.1 476.7 296.8 477.1 C298.5 477.5 303.0 476.1 304.7 476.5 C306.4 477.0 305.1 478.4 307.0 480.0 C308.9 481.5 313.1 484.3 316.1 485.6 C319.1 486.9 323.3 486.9 325.1 487.9 C327.0 488.8 325.7 490.5 327.4 491.3 C329.1 492.0 333.1 492.4 335.4 492.4 C337.6 492.4 339.7 490.9 341.0 491.3 C342.3 491.7 342.2 493.9 343.3 494.7 C344.4 495.4 346.1 495.9 347.8 495.8 C349.5 495.7 352.2 495.1 353.5 494.1 C354.8 493.2 354.2 490.9 355.8 490.2 C357.3 489.4 359.9 490.0 362.6 489.6 C365.2 489.2 368.8 488.5 371.6 487.9 C374.5 487.2 376.9 486.2 379.6 485.6 C382.2 485.1 386.2 484.7 387.5 484.5" fill="none" stroke="#111" stroke-width="1.02" />
<path d="M379.5 485.6 C380.2 485.4 382.7 484.7 384.0 484.5 C385.3 484.3 386.8 484.5 387.4 484.5" fill="none" stroke="#111" stroke-width="1.02" />
<line x1="300.77097505668934" y1="477.1156462585034" x2="300.77097505668934" y2="487.31972789115645" stroke="#111" stroke-width="0.90" />
<line x1="307.00680272108843" y1="480.17687074829934" x2="307.00680272108843" y2="489.2471655328798" stroke="#111" stroke-width="0.90" />
<line x1="325.14739229024946" y1="488.11337868480723" x2="325.14739229024946" y2="498.8843537414966" stroke="#111" stroke-width="0.90" />
<line x1="335.35147392290247" y1="492.64852607709753" x2="335.35147392290247" y2="503.41950113378687" stroke="#111" stroke-width="0.90" />
<line x1="341.0204081632653" y1="491.51473922902494" x2="341.0204081632653" y2="502.2857142857143" stroke="#111" stroke-width="0.90" />
<line x1="353.4920634920635" y1="494.3492063492063" x2="353.4920634920635" y2="505.687074829932" stroke="#111" stroke-width="0.90" />
<line x1="362.562358276644" y1="489.8140589569161" x2="362.562358276644" y2="500.5850340136054" stroke="#111" stroke-width="0.90" />
<line x1="371.63265306122446" y1="488.11337868480723" x2="371.63265306122446" y2="498.8843537414966" stroke="#111" stroke-width="0.90" />
<line x1="378.4353741496599" y1="486.1859410430839" x2="378.4353741496599" y2="496.95691609977325" stroke="#111" stroke-width="0.90" />
<line x1="387.4149659863946" y1="484.7120181405896" x2="387.4149659863946" y2="495.4829931972789" stroke="#111" stroke-width="0.90" />
<line x1="395.35147392290247" y1="472.01360544217687" x2="395.35147392290247" y2="483.35147392290247" stroke="#111" stroke-width="0.90" />
<line x1="399.88662131519277" y1="470.87981859410434" x2="399.88662131519277" y2="481.6507936507937" stroke="#111" stroke-width="0.90" />
<line x1="327.98185941043084" y1="491.2879818594104" x2="327.98185941043084" y2="501.4920634920635" stroke="#111" stroke-width="0.90" />
<ellipse cx="316.64399092970524" cy="449.9047619047619" rx="2.9" ry="1.4" fill="none" stroke="#111" stroke-width="1.02" stroke-linecap="butt" />
<ellipse cx="361.9954648526077" cy="445.3696145124716" rx="2.9" ry="1.4" fill="none" stroke="#111" stroke-width="1.02" stroke-linecap="butt" />
<ellipse cx="300.77097505668934" cy="475.0748299319728" rx="2.9" ry="1.4" fill="none" stroke="#111" stroke-width="1.02" stroke-linecap="butt" />
<ellipse cx="333.6507936507937" cy="491.0612244897959" rx="2.9" ry="1.4" fill="none" stroke="#111" stroke-width="1.02" stroke-linecap="butt" />
<ellipse cx="380.702947845805" cy="486.9795918367347" rx="2.9" ry="1.4" fill="none" stroke="#111" stroke-width="1.02" stroke-linecap="butt" />
<ellipse cx="399.88662131519277" cy="469.74603174603175" rx="2.9" ry="1.4" fill="none" stroke="#111" stroke-width="1.02" stroke-linecap="butt" />
<ellipse cx="361.9047619047619" cy="445.3696145124716" rx="2.9" ry="1.4" fill="none" stroke="#111" stroke-width="1.02" stroke-linecap="butt" />
<ellipse cx="349.9" cy="467.2" rx="45" ry="20" fill="none" stroke="#111" stroke-width="1.15" stroke-linecap="butt" />
<ellipse cx="349.9" cy="467.6" rx="42.5" ry="18.4" fill="none" stroke="#111" stroke-width="1.28" stroke-linecap="butt" />
<path d="M306 473 A42 17 0 0 1 392 470" fill="none" stroke="#555" stroke-width="0.77" />
<path d="M305.3 472.0 C306.5 470.9 309.6 467.1 312.7 465.2 C315.8 463.3 319.9 461.8 324.0 460.7 C328.2 459.6 333.5 459.0 337.6 458.6 C341.8 458.3 344.8 458.2 349.0 458.4 C353.1 458.7 360.3 459.8 362.6 460.1" fill="none" stroke="#111" stroke-width="1.02" />
<path d="M305.9 474.3 C307.1 473.1 310.1 469.0 313.2 466.9 C316.4 464.9 320.5 463.2 324.6 462.0 C328.6 460.9 333.6 460.4 337.6 460.0 C341.7 459.6 345.2 459.6 349.0 459.8 C352.7 460.0 358.4 461.0 360.3 461.2" fill="none" stroke="#111" stroke-width="0.77" />
<path d="M368.2 460.7 C369.0 459.3 371.8 458.1 373.9 457.8 C376.0 457.6 378.6 457.7 380.7 459.0 C382.8 460.2 385.2 463.2 386.4 465.2 C387.5 467.2 388.1 469.4 387.5 470.9 C386.9 472.4 384.9 474.1 383.0 474.3 C381.1 474.5 378.4 473.3 376.2 472.0 C373.9 470.7 370.7 468.2 369.4 466.3 C368.0 464.5 367.5 462.1 368.2 460.7 Z" fill="#fff" stroke="#111" stroke-width="1.15" />
<path d="M373.9 458.4 C374.5 459.4 376.4 461.8 377.3 464.1 C378.2 466.3 379.2 470.7 379.6 472.0" fill="none" stroke="#111" stroke-width="0.90" />
<path d="M380.7 459.3 C381.3 460.3 383.3 463.1 384.1 465.2 C385.0 467.3 385.5 470.9 385.8 472.0" fill="none" stroke="#111" stroke-width="0.90" />
<path d="M354.6 469.7 L368.2 461.2" fill="none" stroke="#111" stroke-width="2.05" />
<path d="M358.0 470.9 L369.4 466.3 L376.2 472.0 L371.6 475.4 L386.4 472.0" fill="none" stroke="#111" stroke-width="1.02" />
<path d="M362.6 472.0 L371.6 477.7 L387.5 474.3" fill="none" stroke="#111" stroke-width="1.54" />
<path d="M369.4 480.0 L389.8 475.4" fill="none" stroke="#111" stroke-width="1.02" />
<path d="M368.2 476.5 L372.8 483.4 L369.4 485.6" fill="none" stroke="#111" stroke-width="1.79" />
<path d="M318.3 471.4 C318.7 470.9 322.1 471.4 324.0 472.0 C325.9 472.7 329.1 474.5 329.7 475.4 C330.2 476.4 328.7 477.7 327.4 477.7 C326.1 477.7 323.3 476.5 321.7 475.4 C320.2 474.4 318.0 472.0 318.3 471.4 Z" fill="#555" stroke="#111" stroke-width="1.54" />
<path d="M335.4 465.2 C335.4 464.3 337.1 464.8 338.2 465.8 C339.2 466.7 341.7 469.9 341.6 470.9 C341.5 471.8 338.7 472.4 337.6 471.4 C336.6 470.5 335.3 466.2 335.4 465.2 Z" fill="#555" stroke="#111" stroke-width="1.54" />
<path d="M327.4 482.2 L322.9 484.5 L320.6 485.6" fill="none" stroke="#111" stroke-width="1.02" />
<ellipse cx="347.82312925170066" cy="481.6507936507937" rx="21.4" ry="10.4" fill="#fff" stroke="#111" stroke-width="1.28" stroke-linecap="butt" />
<ellipse cx="347.82312925170066" cy="481.9507936507937" rx="19.6" ry="9.3" fill="none" stroke="#111" stroke-width="1.15" stroke-linecap="butt" />
<path d="M330.32312925170066 482.6507936507937 A17.5 7.6 0 0 0 365.32312925170066 482.6507936507937" fill="none" stroke="#111" stroke-width="1.02" />
<path d="M332.82312925170066 483.05079365079365 A15 6 0 0 0 362.82312925170066 483.05079365079365" fill="none" stroke="#111" stroke-width="0.90" />
<ellipse cx="347.82312925170066" cy="485.05079365079365" rx="11.5" ry="4.2" fill="none" stroke="#111" stroke-width="1.15" stroke-linecap="butt" />
<path d="M338.32312925170066 485.85079365079366 A9.5 3.2 0 0 0 357.32312925170066 485.85079365079366" fill="none" stroke="#111" stroke-width="1.02" />
<path d="M344.82312925170066 487.1507936507937 l2 -1.5 l1 3" fill="none" stroke="#111" stroke-width="0.90" />
<ellipse cx="361.82312925170066" cy="478.05079365079365" rx="1" ry="0.8" fill="none" stroke="#111" stroke-width="0.90" stroke-linecap="butt" />
<ellipse cx="347.2562358276644" cy="493.140589569161" rx="3.6" ry="1.8" fill="none" stroke="#111" stroke-width="1.15" stroke-linecap="butt" />
<path d="M341.0562358276644 494.140589569161 V509.140589569161 Q347.2562358276644 515.140589569161 353.4562358276644 509.140589569161 V494.140589569161" fill="none" stroke="#111" stroke-width="1.02" />
<path d="M387.4 485.6 C387.8 484.6 388.6 484.0 389.7 483.9 C390.7 483.8 392.9 484.2 393.7 485.1 C394.4 485.9 394.5 487.8 394.2 489.0 C393.9 490.2 392.9 491.8 392.0 492.4 C391.0 493.1 389.3 493.4 388.5 493.0 C387.8 492.6 387.4 491.4 387.2 490.2 C387.0 488.9 387.0 486.7 387.4 485.6 Z" fill="#fff" stroke="#111" stroke-width="1.15" />
<ellipse cx="390.5895691609977" cy="489.0204081632653" rx="1.9" ry="2.2" fill="none" stroke="#111" stroke-width="1.15" stroke-linecap="butt" />
<ellipse cx="390.5895691609977" cy="489.0204081632653" rx="0.8" ry="1.0" fill="none" stroke="#111" stroke-width="0.77" stroke-linecap="butt" />
<path d="M425.2 454.3 L424.9 454.5 L424.4 454.6 L424.0 454.6 L423.5 454.6 L423.0 454.5 L422.5 454.4 L422.0 454.2 L421.4 453.9 L420.9 453.6 L420.4 453.3 L419.9 452.9 L419.4 452.4 L419.0 452.0 L418.6 451.5 L418.2 451.0 L417.8 450.4 L417.5 449.9 L417.2 449.3 L417.0 448.8 L416.9 448.2 L416.8 447.7 L416.7 447.2 L416.7 446.7 L416.8 446.2 L416.9 445.8 L417.0 445.4 L417.2 445.0 L417.5 444.7 L417.8 444.5 L418.2 444.3 L423.3 441.9 L423.6 441.7 L424.1 441.6 L424.5 441.6 L425.0 441.6 L425.5 441.7 L426.0 441.8 L426.5 442.0 L427.1 442.3 L427.6 442.6 L428.1 442.9 L428.6 443.3 L429.1 443.7 L429.5 444.2 L429.9 444.7 L430.3 445.2 L430.7 445.7 L431.0 446.3 L431.3 446.8 L431.5 447.4 L431.6 448.0 L431.7 448.5 L431.8 449.0 L431.8 449.5 L431.7 450.0 L431.6 450.4 L431.5 450.8 L431.3 451.2 L431.0 451.5 L430.7 451.7 L430.3 451.9 Z" fill="#fff" stroke="#111" stroke-width="1.02" />
<path d="M425.2 454.3 L424.9 454.5 L424.4 454.6 L424.0 454.6 L423.5 454.6 L423.0 454.5 L422.5 454.4 L422.0 454.2 L421.4 453.9 L420.9 453.6 L420.4 453.3 L419.9 452.9 L419.4 452.4 L419.0 452.0 L418.6 451.5 L418.2 451.0 L417.8 450.4 L417.5 449.9 L417.2 449.3 L417.0 448.8 L416.9 448.2 L416.8 447.7 L416.7 447.2 L416.7 446.7 L416.8 446.2 L416.9 445.8 L417.0 445.4 L417.2 445.0 L417.5 444.7 L417.8 444.5 L418.2 444.3 L418.5 444.1 L419.0 444.0 L419.4 444.0 L419.9 444.0 L420.4 444.1 L420.9 444.2 L421.4 444.4 L422.0 444.7 L422.5 445.0 L423.0 445.3 L423.5 445.7 L424.0 446.2 L424.4 446.6 L424.8 447.1 L425.2 447.6 L425.6 448.2 L425.9 448.7 L426.2 449.3 L426.4 449.8 L426.5 450.4 L426.6 450.9 L426.7 451.4 L426.7 451.9 L426.6 452.4 L426.5 452.8 L426.4 453.2 L426.2 453.6 L425.9 453.9 L425.6 454.1 L425.2 454.3 Z" fill="#fff" stroke="#111" stroke-width="1.02" />
<path d="M424.5 453.3 L424.2 453.4 L423.9 453.5 L423.5 453.5 L423.1 453.5 L422.7 453.4 L422.3 453.3 L421.9 453.1 L421.5 453.0 L421.1 452.7 L420.7 452.4 L420.3 452.1 L419.9 451.8 L419.5 451.4 L419.2 451.0 L418.9 450.6 L418.6 450.2 L418.4 449.8 L418.2 449.3 L418.0 448.9 L417.9 448.5 L417.8 448.0 L417.7 447.6 L417.7 447.2 L417.8 446.9 L417.9 446.5 L418.0 446.2 L418.2 445.9 L418.4 445.7 L418.6 445.5 L418.9 445.3 L419.2 445.2 L419.5 445.1 L419.9 445.1 L420.3 445.1 L420.7 445.2 L421.1 445.3 L421.5 445.5 L421.9 445.6 L422.3 445.9 L422.7 446.2 L423.1 446.5 L423.5 446.8 L423.9 447.2 L424.2 447.6 L424.5 448.0 L424.8 448.4 L425.0 448.8 L425.2 449.3 L425.4 449.7 L425.5 450.1 L425.6 450.6 L425.7 451.0 L425.7 451.4 L425.6 451.7 L425.5 452.1 L425.4 452.4 L425.2 452.7 L425.0 452.9 L424.8 453.1 L424.5 453.3 Z" fill="none" stroke="#111" stroke-width="0.90" />
<path d="M419.8 444.9 L420.1 444.8 L420.4 444.7 L420.8 444.7 L421.2 444.7 L421.6 444.8 L422.0 444.9 L422.4 445.0 L422.8 445.2 L423.2 445.5 L423.6 445.7 L424.0 446.0 L424.4 446.4 L424.8 446.7 L425.1 447.1 L425.4 447.5 L425.7 448.0 L425.9 448.4 L426.1 448.8 L426.3 449.3 L426.4 449.7 L426.5 450.1 L426.6 450.6 L426.6 450.9 L426.5 451.3 L426.4 451.7 L426.3 452.0 L426.1 452.3 L425.9 452.5 L425.7 452.7 L425.4 452.9" fill="none" stroke="#555" stroke-width="0.77" />
<line x1="412.5" y1="453.65160000000003" x2="417" y2="451.5231" stroke="#333" stroke-width="0.90" />
<circle cx="432.5" cy="444.1916" r="0.45" fill="#333"/>
<path d="M472.4 432.8 L472.0 432.9 L471.5 433.0 L471.0 433.1 L470.5 433.0 L469.9 432.9 L469.4 432.8 L468.8 432.6 L468.2 432.3 L467.6 432.0 L467.1 431.6 L466.5 431.1 L466.0 430.7 L465.5 430.2 L465.0 429.6 L464.6 429.0 L464.2 428.4 L463.8 427.8 L463.5 427.2 L463.3 426.6 L463.1 426.0 L463.0 425.4 L462.9 424.8 L462.9 424.3 L463.0 423.7 L463.1 423.2 L463.3 422.8 L463.5 422.4 L463.8 422.1 L464.2 421.8 L464.6 421.6 L472.9 417.6 L473.3 417.5 L473.8 417.4 L474.3 417.3 L474.8 417.4 L475.4 417.5 L475.9 417.6 L476.5 417.8 L477.1 418.1 L477.7 418.4 L478.2 418.8 L478.8 419.3 L479.3 419.7 L479.8 420.3 L480.3 420.8 L480.7 421.4 L481.1 422.0 L481.5 422.6 L481.8 423.2 L482.0 423.8 L482.2 424.4 L482.3 425.0 L482.4 425.6 L482.4 426.1 L482.3 426.7 L482.2 427.2 L482.0 427.6 L481.8 428.0 L481.5 428.3 L481.1 428.6 L480.7 428.8 Z" fill="#fff" stroke="#111" stroke-width="1.02" />
<path d="M472.4 432.8 L472.0 432.9 L471.5 433.0 L471.0 433.1 L470.5 433.0 L469.9 432.9 L469.4 432.8 L468.8 432.6 L468.2 432.3 L467.6 432.0 L467.1 431.6 L466.5 431.1 L466.0 430.7 L465.5 430.2 L465.0 429.6 L464.6 429.0 L464.2 428.4 L463.8 427.8 L463.5 427.2 L463.3 426.6 L463.1 426.0 L463.0 425.4 L462.9 424.8 L462.9 424.3 L463.0 423.7 L463.1 423.2 L463.3 422.8 L463.5 422.4 L463.8 422.1 L464.2 421.8 L464.6 421.6 L465.0 421.4 L465.5 421.3 L466.0 421.3 L466.5 421.3 L467.1 421.4 L467.6 421.5 L468.2 421.8 L468.8 422.0 L469.4 422.4 L469.9 422.8 L470.5 423.2 L471.0 423.7 L471.5 424.2 L472.0 424.7 L472.4 425.3 L472.8 425.9 L473.2 426.5 L473.5 427.1 L473.7 427.7 L473.9 428.3 L474.0 428.9 L474.1 429.5 L474.1 430.1 L474.0 430.6 L473.9 431.1 L473.7 431.5 L473.5 431.9 L473.2 432.3 L472.8 432.5 L472.4 432.8 Z" fill="#fff" stroke="#111" stroke-width="1.02" />
<circle cx="476.2" cy="423.5215" r="0.45" fill="#333"/>
<path d="M457.3 422.4 L463.7 422.2 L464.1 421.7 L464.5 421.5 L465.0 421.4 L465.5 421.4 L466.1 421.4 L466.6 421.5 L467.2 421.6 L467.8 421.9 L468.4 422.1 L469.0 422.5 L469.6 422.9 L470.1 423.3 L470.7 423.8 L471.2 424.3 L471.7 424.9 L472.1 425.5 L472.5 426.1 L472.9 426.7 L473.1 427.3 L473.4 427.9 L473.6 428.6 L473.7 429.2 L473.8 429.8 L473.8 430.3 L473.7 430.8 L473.6 431.3 L473.4 431.8 L473.2 432.2 L472.9 432.5 L472.5 432.8 L472.1 433.0 L471.5 433.8 L466.1 439.9 L463.4 443.3 L457.9 447.1 Z" fill="#fff" stroke="#111" stroke-width="1.15" />
<path d="M463.4 422.0 L463.8 421.8 L464.3 421.7 L464.8 421.7 L465.4 421.7 L465.9 421.8 L466.5 422.0 L467.1 422.2 L467.7 422.5 L468.3 422.8 L468.9 423.2 L469.4 423.6 L470.0 424.1 L470.5 424.6 L471.0 425.2 L471.4 425.8 L471.8 426.4 L472.2 427.0 L472.4 427.6 L472.7 428.3 L472.9 428.9 L473.0 429.5 L473.1 430.1 L473.1 430.6 L473.0 431.2 L472.9 431.7 L472.7 432.1 L472.5 432.5 L472.2 432.9 L471.8 433.1 L471.4 433.4" fill="none" stroke="#111" stroke-width="1.92" />
<path d="M464.7 421.4 L465.1 421.2 L465.6 421.1 L466.1 421.1 L466.7 421.1 L467.2 421.2 L467.8 421.3 L468.4 421.6 L469.0 421.9 L469.6 422.2 L470.2 422.6 L470.7 423.0 L471.3 423.5 L471.8 424.0 L472.3 424.6 L472.7 425.2 L473.1 425.8 L473.5 426.4 L473.7 427.0 L474.0 427.7 L474.2 428.3 L474.3 428.9 L474.4 429.5 L474.4 430.0 L474.3 430.6 L474.2 431.1 L474.0 431.5 L473.8 431.9 L473.5 432.2 L473.1 432.5 L472.7 432.8" fill="none" stroke="#111" stroke-width="1.54" />
<path d="M436.2 435.2 L438.2 430.4 L441.6 426.3 L445.0 423.9 L448.4 422.6 L457.3 422.4 L460.7 425.3 L463.4 429.7 L465.3 435.2 L465.8 439.9 L463.4 443.3 L457.9 447.1 L448.4 447.8 L441.6 446.1 L436.8 442.0 Z" fill="#fff" stroke="#111" stroke-width="1.15" />
<path d="M457.3 422.6 L460.7 425.3 L463.4 429.7 L465.3 435.2 L465.8 439.9" fill="none" stroke="#111" stroke-width="1.02" />
<path d="M455.2 422.9 L458.6 425.6 L461.3 430.1 L463.0 435.2 L463.4 442.7" fill="none" stroke="#111" stroke-width="0.90" />
<path d="M450.4 423.1 L455.2 425.3 L458.6 429.7 L461.0 435.2 L461.7 439.9 L460.7 444.7" fill="none" stroke="#111" stroke-width="0.90" />
<path d="M462.4 439.3 L463.7 439.9 L464.7 442.0 L464.1 443.7 L462.7 443.0 L462.0 441.3 L462.4 439.3" fill="none" stroke="#555" stroke-width="0.77" />
<path d="M439.9 431.1 L444.3 432.1 L448.4 435.2 L451.1 439.3 L451.9 443.3 L450.8 447.1" fill="none" stroke="#111" stroke-width="1.02" />
<path d="M439.2 432.1 L443.6 433.1 L447.4 435.9 L449.9 439.6 L450.8 443.3 L449.8 447.1" fill="none" stroke="#555" stroke-width="0.77" />
<path d="M444.2 443.8 L443.9 443.9 L443.6 444.0 L443.3 444.0 L442.9 444.0 L442.5 444.0 L442.1 443.8 L441.7 443.7 L441.3 443.5 L440.9 443.3 L440.5 443.0 L440.1 442.7 L439.7 442.4 L439.4 442.0 L439.1 441.6 L438.8 441.2 L438.5 440.8 L438.3 440.4 L438.0 440.0 L437.9 439.5 L437.8 439.1 L437.7 438.7 L437.6 438.3 L437.6 437.9 L437.7 437.5 L437.8 437.2 L437.9 436.9 L438.0 436.6 L438.3 436.4 L438.5 436.2 L438.8 436.0 L441.5 434.8 L441.8 434.7 L442.1 434.6 L442.4 434.6 L442.8 434.6 L443.2 434.6 L443.6 434.7 L444.0 434.9 L444.4 435.1 L444.8 435.3 L445.2 435.6 L445.6 435.9 L446.0 436.2 L446.3 436.6 L446.6 437.0 L446.9 437.4 L447.2 437.8 L447.4 438.2 L447.7 438.6 L447.8 439.1 L447.9 439.5 L448.0 439.9 L448.1 440.3 L448.1 440.7 L448.0 441.0 L447.9 441.4 L447.8 441.7 L447.7 442.0 L447.4 442.2 L447.2 442.4 L446.9 442.5 Z" fill="#fff" stroke="#111" stroke-width="1.28" />
<path d="M444.2 443.8 L443.9 443.9 L443.6 444.0 L443.3 444.0 L442.9 444.0 L442.5 444.0 L442.1 443.8 L441.7 443.7 L441.3 443.5 L440.9 443.3 L440.5 443.0 L440.1 442.7 L439.7 442.4 L439.4 442.0 L439.1 441.6 L438.8 441.2 L438.5 440.8 L438.3 440.4 L438.0 440.0 L437.9 439.5 L437.8 439.1 L437.7 438.7 L437.6 438.3 L437.6 437.9 L437.7 437.5 L437.8 437.2 L437.9 436.9 L438.0 436.6 L438.3 436.4 L438.5 436.2 L438.8 436.0 L439.1 435.9 L439.4 435.9 L439.7 435.8 L440.1 435.9 L440.5 435.9 L440.9 436.0 L441.3 436.2 L441.7 436.4 L442.1 436.6 L442.5 436.9 L442.9 437.2 L443.3 437.5 L443.6 437.9 L443.9 438.2 L444.2 438.6 L444.5 439.1 L444.7 439.5 L445.0 439.9 L445.1 440.3 L445.2 440.8 L445.3 441.2 L445.4 441.6 L445.4 442.0 L445.3 442.3 L445.2 442.7 L445.1 443.0 L445.0 443.2 L444.7 443.5 L444.5 443.7 L444.2 443.8 Z" fill="#fff" stroke="#111" stroke-width="1.28" />
<path d="M447.6 438.0 L447.8 438.4 L448.0 438.8 L448.1 439.3 L448.2 439.7 L448.3 440.1 L448.3 440.5 L448.2 440.9 L448.2 441.2 L448.0 441.5 L447.9 441.8 L447.7 442.1 L447.5 442.3 L447.2 442.4 L446.9 442.6 L446.5 442.6 L446.2 442.7 L445.8 442.6 L445.4 442.6 L445.0 442.5 L444.6 442.3 L444.2 442.1 L443.8 441.9 L443.4 441.6" fill="none" stroke="#111" stroke-width="1.79" />
<path d="M439.1 444.6 L438.9 444.7 L438.6 444.8 L438.4 444.8 L438.1 444.8 L437.9 444.7 L437.6 444.6 L437.3 444.5 L437.1 444.4 L436.8 444.2 L436.5 444.1 L436.3 443.9 L436.0 443.6 L435.8 443.4 L435.5 443.1 L435.3 442.9 L435.1 442.6 L435.0 442.3 L434.8 442.0 L434.7 441.7 L434.6 441.4 L434.6 441.1 L434.6 440.8 L434.6 440.6 L434.6 440.3 L434.6 440.1 L434.7 439.9 L434.8 439.7 L435.0 439.6 L435.1 439.4 L435.3 439.3 L438.9 437.6 L439.1 437.5 L439.4 437.5 L439.6 437.5 L439.9 437.5 L440.1 437.5 L440.4 437.6 L440.7 437.7 L440.9 437.8 L441.2 438.0 L441.5 438.2 L441.7 438.4 L442.0 438.6 L442.2 438.8 L442.5 439.1 L442.7 439.4 L442.9 439.7 L443.0 440.0 L443.2 440.2 L443.3 440.5 L443.4 440.8 L443.4 441.1 L443.4 441.4 L443.4 441.6 L443.4 441.9 L443.4 442.1 L443.3 442.3 L443.2 442.5 L443.0 442.7 L442.9 442.8 L442.7 442.9 Z" fill="#fff" stroke="#111" stroke-width="1.15" />
<path d="M439.1 444.6 L438.9 444.7 L438.6 444.8 L438.4 444.8 L438.1 444.8 L437.9 444.7 L437.6 444.6 L437.3 444.5 L437.1 444.4 L436.8 444.2 L436.5 444.1 L436.3 443.9 L436.0 443.6 L435.8 443.4 L435.5 443.1 L435.3 442.9 L435.1 442.6 L435.0 442.3 L434.8 442.0 L434.7 441.7 L434.6 441.4 L434.6 441.1 L434.6 440.8 L434.6 440.6 L434.6 440.3 L434.6 440.1 L434.7 439.9 L434.8 439.7 L435.0 439.6 L435.1 439.4 L435.3 439.3 L435.5 439.2 L435.8 439.2 L436.0 439.2 L436.3 439.2 L436.5 439.2 L436.8 439.3 L437.1 439.4 L437.3 439.5 L437.6 439.7 L437.9 439.9 L438.1 440.1 L438.4 440.3 L438.6 440.6 L438.9 440.8 L439.1 441.1 L439.3 441.4 L439.4 441.7 L439.6 441.9 L439.7 442.2 L439.8 442.5 L439.8 442.8 L439.8 443.1 L439.8 443.4 L439.8 443.6 L439.8 443.8 L439.7 444.0 L439.6 444.2 L439.4 444.4 L439.3 444.5 L439.1 444.6 Z" fill="#fff" stroke="#111" stroke-width="1.15" />
<path d="M438.0 443.1 L437.9 443.1 L437.8 443.2 L437.7 443.2 L437.6 443.2 L437.5 443.1 L437.4 443.1 L437.3 443.1 L437.1 443.0 L437.0 442.9 L436.9 442.9 L436.8 442.8 L436.7 442.7 L436.6 442.6 L436.5 442.5 L436.4 442.3 L436.3 442.2 L436.2 442.1 L436.2 442.0 L436.1 441.9 L436.1 441.7 L436.1 441.6 L436.1 441.5 L436.1 441.4 L436.1 441.3 L436.1 441.2 L436.1 441.1 L436.2 441.0 L436.2 440.9 L436.3 440.9 L436.4 440.8 L436.5 440.8 L436.6 440.8 L436.7 440.8 L436.8 440.8 L436.9 440.8 L437.0 440.8 L437.1 440.9 L437.3 440.9 L437.4 441.0 L437.5 441.1 L437.6 441.2 L437.7 441.3 L437.8 441.4 L437.9 441.5 L438.0 441.6 L438.1 441.7 L438.2 441.8 L438.2 442.0 L438.3 442.1 L438.3 442.2 L438.3 442.3 L438.3 442.4 L438.3 442.6 L438.3 442.7 L438.3 442.8 L438.3 442.9 L438.2 442.9 L438.2 443.0 L438.1 443.1 L438.0 443.1 Z" fill="#555" stroke="#111" stroke-width="1.15" />
<line x1="451.1292517006803" y1="436.1904761904762" x2="466.0952380952381" y2="429.7278911564626" stroke="#333" stroke-width="0.90" />
<circle cx="485" cy="419.3591" r="0.45" fill="#333"/>
<path d="M501.2 425.0 L500.4 425.3 L499.6 425.4 L498.7 425.5 L497.8 425.5 L496.8 425.3 L495.8 425.0 L494.7 424.6 L493.7 424.1 L492.7 423.5 L491.6 422.9 L490.6 422.1 L489.7 421.2 L488.8 420.3 L488.0 419.3 L487.2 418.3 L486.5 417.3 L485.9 416.2 L485.4 415.1 L484.9 414.0 L484.6 412.9 L484.4 411.8 L484.3 410.8 L484.3 409.8 L484.4 408.9 L484.6 408.0 L484.9 407.3 L485.4 406.6 L485.9 406.0 L486.5 405.4 L487.2 405.0 L488.0 404.8 L488.8 404.6 L489.7 404.5 L490.6 404.6 L491.6 404.7 L492.6 405.0 L493.7 405.4 L494.7 405.9 L495.7 406.5 L496.8 407.2 L497.8 407.9 L498.7 408.8 L499.6 409.7 L500.4 410.7 L501.2 411.7 L501.9 412.7 L502.5 413.8 L503.0 414.9 L503.5 416.0 L503.8 417.1 L504.0 418.2 L504.1 419.2 L504.1 420.2 L504.0 421.1 L503.8 422.0 L503.5 422.8 L503.0 423.5 L502.5 424.1 L501.9 424.6 L501.2 425.0 Z" fill="none" stroke="#111" stroke-width="1.15" />
<path d="M500.2 423.2 L499.6 423.4 L498.9 423.6 L498.1 423.6 L497.3 423.6 L496.5 423.4 L495.7 423.2 L494.8 422.9 L494.0 422.5 L493.1 422.0 L492.3 421.4 L491.5 420.8 L490.7 420.1 L489.9 419.3 L489.2 418.5 L488.6 417.7 L488.0 416.8 L487.5 415.9 L487.1 415.0 L486.7 414.1 L486.5 413.2 L486.3 412.3 L486.2 411.4 L486.2 410.6 L486.3 409.9 L486.5 409.1 L486.7 408.5 L487.1 407.9 L487.5 407.4 L488.0 407.0 L488.6 406.7 L489.2 406.4 L489.9 406.3 L490.7 406.2 L491.5 406.3 L492.3 406.4 L493.1 406.6 L494.0 406.9 L494.8 407.3 L495.7 407.8 L496.5 408.4 L497.3 409.0 L498.1 409.7 L498.9 410.5 L499.6 411.3 L500.2 412.2 L500.8 413.0 L501.3 413.9 L501.7 414.8 L502.1 415.8 L502.3 416.7 L502.5 417.5 L502.6 418.4 L502.6 419.2 L502.5 420.0 L502.3 420.7 L502.1 421.3 L501.7 421.9 L501.3 422.4 L500.8 422.8 L500.2 423.2 Z" fill="none" stroke="#111" stroke-width="1.02" />
<path d="M486.9 405.4 L487.5 404.9 L488.2 404.6 L489.0 404.3 L489.9 404.2 L490.8 404.1 L491.8 404.2 L492.8 404.4 L493.8 404.7 L494.8 405.2 L495.9 405.7 L496.9 406.3 L497.9 407.0 L498.9 407.8 L499.8 408.7 L500.7 409.6 L501.5 410.6 L502.3 411.7 L502.9 412.7 L503.5 413.8 L504.0 414.9 L504.4 416.0 L504.7 417.1 L504.8 418.1 L504.9 419.2 L504.9 420.1 L504.7 421.0 L504.5 421.9 L504.1 422.6 L503.7 423.3 L503.1 423.9 L502.5 424.3 L501.8 424.7 L501.0 425.0 L500.1 425.1 L499.2 425.1" fill="none" stroke="#444" stroke-width="0.64" />
<path d="M530.0 418.8 L528.8 419.3 L527.4 419.6 L526.0 419.7 L524.6 419.6 L523.0 419.3 L521.4 418.9 L519.8 418.3 L518.2 417.5 L516.6 416.6 L515.0 415.5 L513.5 414.3 L512.0 413.0 L510.6 411.6 L509.3 410.1 L508.0 408.5 L507.0 406.8 L506.0 405.1 L505.2 403.4 L504.5 401.7 L504.0 400.0 L503.7 398.3 L503.5 396.7 L503.5 395.2 L503.7 393.7 L504.0 392.4 L504.5 391.2 L505.2 390.1 L506.0 389.1 L507.0 388.3 L508.0 387.7 L513.5 385.1 L514.7 384.7 L516.1 384.4 L517.5 384.3 L518.9 384.4 L520.5 384.6 L522.1 385.0 L523.7 385.6 L525.3 386.4 L526.9 387.3 L528.5 388.4 L530.0 389.6 L531.5 390.9 L532.9 392.4 L534.2 393.9 L535.5 395.5 L536.5 397.1 L537.5 398.8 L538.3 400.6 L539.0 402.3 L539.5 404.0 L539.8 405.6 L540.0 407.2 L540.0 408.8 L539.8 410.2 L539.5 411.6 L539.0 412.8 L538.3 413.9 L537.5 414.8 L536.5 415.6 L535.5 416.2 Z" fill="#fff" stroke="#111" stroke-width="1.02" />
<path d="M530.0 418.8 L528.8 419.3 L527.4 419.6 L526.0 419.7 L524.6 419.6 L523.0 419.3 L521.4 418.9 L519.8 418.3 L518.2 417.5 L516.6 416.6 L515.0 415.5 L513.5 414.3 L512.0 413.0 L510.6 411.6 L509.3 410.1 L508.0 408.5 L507.0 406.8 L506.0 405.1 L505.2 403.4 L504.5 401.7 L504.0 400.0 L503.7 398.3 L503.5 396.7 L503.5 395.2 L503.7 393.7 L504.0 392.4 L504.5 391.2 L505.2 390.1 L506.0 389.1 L507.0 388.3 L508.0 387.7 L509.2 387.3 L510.6 387.0 L512.0 386.9 L513.4 387.0 L515.0 387.2 L516.6 387.6 L518.2 388.2 L519.8 389.0 L521.4 389.9 L523.0 391.0 L524.5 392.2 L526.0 393.5 L527.4 395.0 L528.7 396.5 L530.0 398.1 L531.0 399.7 L532.0 401.4 L532.8 403.2 L533.5 404.9 L534.0 406.6 L534.3 408.2 L534.5 409.8 L534.5 411.4 L534.3 412.8 L534.0 414.2 L533.5 415.4 L532.8 416.5 L532.0 417.4 L531.0 418.2 L530.0 418.8 Z" fill="#fff" stroke="#111" stroke-width="1.02" />
<path d="M524.9 411.6 L524.2 411.9 L523.5 412.0 L522.8 412.1 L522.0 412.0 L521.2 411.9 L520.3 411.7 L519.4 411.3 L518.6 410.9 L517.7 410.4 L516.9 409.9 L516.0 409.2 L515.2 408.5 L514.5 407.7 L513.8 406.9 L513.1 406.1 L512.5 405.2 L512.0 404.3 L511.6 403.3 L511.2 402.4 L511.0 401.5 L510.8 400.6 L510.7 399.8 L510.7 398.9 L510.8 398.2 L511.0 397.4 L511.2 396.8 L511.6 396.2 L512.0 395.7 L512.5 395.3 L513.1 394.9 L513.8 394.7 L514.5 394.5 L515.2 394.5 L516.0 394.5 L516.8 394.7 L517.7 394.9 L518.6 395.2 L519.4 395.6 L520.3 396.1 L521.1 396.7 L522.0 397.3 L522.8 398.1 L523.5 398.8 L524.2 399.6 L524.9 400.5 L525.5 401.4 L526.0 402.3 L526.4 403.2 L526.8 404.1 L527.0 405.0 L527.2 405.9 L527.3 406.8 L527.3 407.6 L527.2 408.4 L527.0 409.1 L526.8 409.8 L526.4 410.4 L526.0 410.9 L525.5 411.3 L524.9 411.6 Z" fill="none" stroke="#111" stroke-width="1.15" />
<path d="M528.0 409.5 L527.2 409.4 L526.3 409.2 L525.5 409.0 L524.6 408.6 L523.7 408.1 L522.8 407.6 L522.0 407.0 L521.2 406.3 L520.4 405.6 L519.6 404.7 L518.9 403.9 L518.3 403.0 L517.8 402.1 L517.3 401.2 L516.9 400.2 L516.6 399.3 L516.4 398.4 L516.2 397.5 L516.2 396.6 L516.2 395.8 L516.4 395.1 L516.6 394.4 L517.0 393.8" fill="none" stroke="#111" stroke-width="0.90" />
<line x1="491.5" y1="416.2846" x2="517" y2="404.2231" stroke="#333" stroke-width="0.90" />
<path d="M554.5 398.9 L553.8 399.1 L553.0 399.3 L552.2 399.4 L551.3 399.3 L550.4 399.2 L549.5 398.9 L548.5 398.5 L547.5 398.1 L546.6 397.5 L545.6 396.9 L544.7 396.2 L543.8 395.4 L543.0 394.5 L542.2 393.6 L541.5 392.7 L540.8 391.7 L540.2 390.7 L539.8 389.6 L539.4 388.6 L539.1 387.6 L538.9 386.6 L538.8 385.6 L538.8 384.7 L538.9 383.9 L539.1 383.1 L539.4 382.3 L539.7 381.7 L540.2 381.1 L540.8 380.6 L541.5 380.3 L545.5 378.4 L546.2 378.1 L547.0 377.9 L547.8 377.9 L548.7 377.9 L549.6 378.1 L550.5 378.3 L551.5 378.7 L552.5 379.1 L553.4 379.7 L554.4 380.3 L555.3 381.1 L556.2 381.8 L557.0 382.7 L557.8 383.6 L558.5 384.6 L559.2 385.6 L559.8 386.6 L560.2 387.6 L560.6 388.6 L560.9 389.6 L561.1 390.6 L561.2 391.6 L561.2 392.5 L561.1 393.4 L560.9 394.2 L560.6 394.9 L560.3 395.6 L559.8 396.1 L559.2 396.6 L558.5 397.0 Z" fill="#fff" stroke="#111" stroke-width="1.02" />
<path d="M554.5 398.9 L553.8 399.1 L553.0 399.3 L552.2 399.4 L551.3 399.3 L550.4 399.2 L549.5 398.9 L548.5 398.5 L547.5 398.1 L546.6 397.5 L545.6 396.9 L544.7 396.2 L543.8 395.4 L543.0 394.5 L542.2 393.6 L541.5 392.7 L540.8 391.7 L540.2 390.7 L539.8 389.6 L539.4 388.6 L539.1 387.6 L538.9 386.6 L538.8 385.6 L538.8 384.7 L538.9 383.9 L539.1 383.1 L539.4 382.3 L539.7 381.7 L540.2 381.1 L540.8 380.6 L541.5 380.3 L542.2 380.0 L543.0 379.8 L543.8 379.8 L544.7 379.8 L545.6 380.0 L546.5 380.2 L547.5 380.6 L548.5 381.0 L549.4 381.6 L550.4 382.2 L551.3 382.9 L552.2 383.7 L553.0 384.6 L553.8 385.5 L554.5 386.5 L555.2 387.5 L555.8 388.5 L556.2 389.5 L556.6 390.5 L556.9 391.5 L557.1 392.5 L557.2 393.5 L557.2 394.4 L557.1 395.3 L556.9 396.1 L556.6 396.8 L556.3 397.4 L555.8 398.0 L555.2 398.5 L554.5 398.9 Z" fill="#fff" stroke="#111" stroke-width="1.02" />
<path d="M553.7 397.7 L553.1 398.0 L552.4 398.1 L551.7 398.2 L550.9 398.1 L550.1 398.0 L549.3 397.8 L548.4 397.4 L547.6 397.0 L546.7 396.6 L545.9 396.0 L545.1 395.4 L544.3 394.7 L543.6 393.9 L542.9 393.1 L542.3 392.3 L541.7 391.4 L541.2 390.5 L540.8 389.6 L540.4 388.7 L540.2 387.8 L540.0 387.0 L539.9 386.1 L539.9 385.3 L540.0 384.6 L540.2 383.9 L540.4 383.2 L540.8 382.6 L541.2 382.1 L541.7 381.7 L542.3 381.4 L542.9 381.2 L543.6 381.0 L544.3 381.0 L545.1 381.0 L545.9 381.1 L546.7 381.4 L547.6 381.7 L548.4 382.1 L549.3 382.6 L550.1 383.1 L550.9 383.8 L551.7 384.5 L552.4 385.2 L553.1 386.0 L553.7 386.8 L554.3 387.7 L554.8 388.6 L555.2 389.5 L555.6 390.4 L555.8 391.3 L556.0 392.2 L556.1 393.0 L556.1 393.8 L556.0 394.6 L555.8 395.3 L555.6 395.9 L555.2 396.5 L554.8 397.0 L554.3 397.4 L553.7 397.7 Z" fill="none" stroke="#111" stroke-width="1.02" />
<path d="M555.4 396.3 L554.6 396.2 L553.8 396.0 L553.0 395.8 L552.1 395.4 L551.2 395.0 L550.4 394.4 L549.5 393.8 L548.7 393.2 L548.0 392.4 L547.2 391.6 L546.6 390.8 L546.0 389.9 L545.4 389.1 L544.9 388.1 L544.6 387.2 L544.3 386.3 L544.0 385.4 L543.9 384.6 L543.9 383.7 L543.9 382.9 L544.1 382.2 L544.3 381.5 L544.6 380.9" fill="none" stroke="#111" stroke-width="0.90" />
<line x1="538" y1="394.2901" x2="562" y2="382.9381" stroke="#333" stroke-width="0.90" />
<path d="M585.6 392.5 L584.4 393.0 L583.0 393.3 L581.6 393.4 L580.2 393.3 L578.6 393.0 L577.0 392.6 L575.4 392.0 L573.8 391.2 L572.2 390.3 L570.6 389.2 L569.1 388.0 L567.6 386.7 L566.2 385.3 L564.9 383.8 L563.6 382.2 L562.6 380.5 L561.6 378.8 L560.8 377.1 L560.1 375.4 L559.6 373.7 L559.3 372.0 L559.1 370.4 L559.1 368.9 L559.3 367.4 L559.6 366.1 L560.1 364.9 L560.8 363.8 L561.6 362.8 L562.6 362.0 L563.6 361.4 L567.5 359.6 L568.7 359.1 L570.1 358.8 L571.5 358.7 L572.9 358.8 L574.5 359.1 L576.1 359.5 L577.7 360.1 L579.3 360.9 L580.9 361.8 L582.5 362.9 L584.0 364.1 L585.5 365.4 L586.9 366.8 L588.2 368.4 L589.5 370.0 L590.5 371.6 L591.5 373.3 L592.3 375.0 L593.0 376.7 L593.5 378.4 L593.8 380.1 L594.0 381.7 L594.0 383.2 L593.8 384.7 L593.5 386.0 L593.0 387.2 L592.3 388.3 L591.5 389.3 L590.5 390.1 L589.5 390.7 Z" fill="#fff" stroke="#111" stroke-width="0.90" />
<path d="M585.6 392.5 L584.4 393.0 L583.0 393.3 L581.6 393.4 L580.2 393.3 L578.6 393.0 L577.0 392.6 L575.4 392.0 L573.8 391.2 L572.2 390.3 L570.6 389.2 L569.1 388.0 L567.6 386.7 L566.2 385.3 L564.9 383.8 L563.6 382.2 L562.6 380.5 L561.6 378.8 L560.8 377.1 L560.1 375.4 L559.6 373.7 L559.3 372.0 L559.1 370.4 L559.1 368.9 L559.3 367.4 L559.6 366.1 L560.1 364.9 L560.8 363.8 L561.6 362.8 L562.6 362.0 L563.6 361.4 L564.8 361.0 L566.2 360.7 L567.6 360.6 L569.0 360.7 L570.6 360.9 L572.2 361.3 L573.8 361.9 L575.4 362.7 L577.0 363.6 L578.6 364.7 L580.1 365.9 L581.6 367.2 L583.0 368.7 L584.3 370.2 L585.6 371.8 L586.6 373.5 L587.6 375.1 L588.4 376.9 L589.1 378.6 L589.6 380.3 L589.9 381.9 L590.1 383.5 L590.1 385.1 L589.9 386.5 L589.6 387.9 L589.1 389.1 L588.4 390.2 L587.6 391.1 L586.6 391.9 L585.6 392.5 Z" fill="#fff" stroke="#111" stroke-width="0.90" />
<path d="M560.6 365.6 L561.1 364.4 L561.8 363.3 L562.6 362.4 L563.6 361.6 L564.6 360.9 L565.8 360.5 L567.2 360.2 L568.6 360.1 L570.0 360.2 L571.6 360.4 L573.2 360.9 L574.8 361.5 L576.4 362.2 L578.0 363.2 L579.6 364.2 L581.1 365.4 L582.6 366.8 L584.0 368.2 L585.3 369.7 L586.6 371.3 L587.6 373.0 L588.6 374.7 L589.4 376.4 L590.1 378.1 L590.6 379.8 L590.9 381.5 L591.1 383.1 L591.1 384.6 L590.9 386.0 L590.6 387.4 L590.1 388.6 L589.4 389.7 L588.6 390.6 L587.6 391.4 L586.6 392.1 L585.4 392.5 L584.0 392.8 L582.6 392.9 L581.2 392.8 L579.6 392.6" fill="none" stroke="#555" stroke-width="0.64" />
<path d="M566.0 360.3 L567.2 359.8 L568.6 359.5 L570.0 359.4 L571.4 359.5 L573.0 359.8 L574.6 360.2 L576.2 360.8 L577.8 361.6 L579.4 362.5 L581.0 363.6 L582.5 364.8 L584.0 366.1 L585.4 367.5 L586.7 369.1 L588.0 370.7 L589.0 372.3 L590.0 374.0 L590.8 375.7 L591.5 377.4 L592.0 379.1 L592.3 380.8 L592.5 382.4 L592.5 383.9 L592.3 385.4 L592.0 386.7 L591.5 387.9 L590.8 389.0 L590.0 390.0 L589.0 390.8 L588.0 391.4" fill="none" stroke="#555" stroke-width="0.64" />
<path d="M583.2 389.1 L582.2 389.5 L581.2 389.7 L580.1 389.8 L578.9 389.7 L577.7 389.5 L576.5 389.2 L575.2 388.7 L574.0 388.1 L572.7 387.4 L571.5 386.6 L570.3 385.6 L569.1 384.6 L568.0 383.5 L567.0 382.3 L566.1 381.0 L565.2 379.7 L564.5 378.4 L563.8 377.1 L563.3 375.7 L562.9 374.4 L562.7 373.1 L562.5 371.9 L562.5 370.7 L562.7 369.5 L562.9 368.5 L563.3 367.5 L563.8 366.7 L564.5 365.9 L565.2 365.3 L566.0 364.8 L567.0 364.5 L568.0 364.3 L569.1 364.2 L570.3 364.2 L571.5 364.4 L572.7 364.8 L574.0 365.2 L575.2 365.8 L576.5 366.6 L577.7 367.4 L578.9 368.3 L580.1 369.4 L581.2 370.5 L582.2 371.7 L583.1 372.9 L584.0 374.2 L584.7 375.5 L585.4 376.9 L585.9 378.2 L586.3 379.5 L586.5 380.8 L586.7 382.1 L586.7 383.3 L586.5 384.4 L586.3 385.5 L585.9 386.4 L585.4 387.3 L584.7 388.0 L584.0 388.6 L583.2 389.1 Z" fill="none" stroke="#111" stroke-width="0.77" />
<path d="M570.2 366.0 L571.2 366.1 L572.3 366.3 L573.4 366.7 L574.6 367.1 L575.7 367.7 L576.8 368.4 L577.9 369.2 L578.9 370.1 L579.9 371.0 L580.8 372.1 L581.7 373.2 L582.5 374.3 L583.2 375.5 L583.7 376.6 L584.2 377.8 L584.6 379.0 L584.8 380.2 L585.0 381.3 L585.0 382.3 L584.9 383.3 L584.6 384.3" fill="none" stroke="#111" stroke-width="0.77" />
<path d="M579.0 388.0 L578.0 387.9 L576.9 387.7 L575.8 387.3 L574.6 386.8 L573.5 386.3 L572.4 385.6 L571.3 384.8 L570.3 383.9 L569.3 382.9 L568.4 381.9 L567.5 380.8 L566.7 379.7 L566.0 378.5 L565.5 377.3 L565.0 376.1 L564.6 375.0 L564.4 373.8 L564.2 372.7 L564.2 371.6 L564.3 370.6 L564.6 369.7" fill="none" stroke="#111" stroke-width="0.77" />
<path d="M580.8 387.8 L579.7 387.7 L578.6 387.5 L577.4 387.1 L576.2 386.6 L575.1 386.0 L573.9 385.3 L572.8 384.4 L571.7 383.5 L570.6 382.5 L569.6 381.4 L568.7 380.3 L567.9 379.1 L567.2 377.8 L566.6 376.6 L566.1 375.3 L565.7 374.1 L565.4 372.9 L565.3 371.7 L565.3 370.6 L565.4 369.5 L565.6 368.5" fill="none" stroke="#555" stroke-width="0.64" />
<circle cx="574.6" cy="376.9783" r="0.45" fill="#333"/>
<line x1="586" y1="371.5861" x2="597" y2="366.3831" stroke="#333" stroke-width="0.90" />
<path d="M621.1 376.5 L619.8 377.0 L618.5 377.3 L617.0 377.4 L615.5 377.3 L613.9 377.0 L612.2 376.6 L610.5 376.0 L608.9 375.2 L607.2 374.2 L605.5 373.1 L603.9 371.8 L602.4 370.5 L601.0 369.0 L599.6 367.4 L598.3 365.7 L597.2 364.0 L596.2 362.3 L595.4 360.5 L594.7 358.7 L594.2 357.0 L593.8 355.2 L593.7 353.6 L593.7 352.0 L593.8 350.5 L594.2 349.1 L594.7 347.8 L595.4 346.7 L596.2 345.7 L597.2 344.9 L598.3 344.2 L599.9 343.5 L601.2 343.0 L602.5 342.7 L604.0 342.6 L605.5 342.7 L607.1 343.0 L608.8 343.4 L610.5 344.0 L612.1 344.8 L613.8 345.8 L615.5 346.9 L617.1 348.2 L618.6 349.5 L620.0 351.0 L621.4 352.6 L622.7 354.2 L623.8 356.0 L624.8 357.7 L625.6 359.5 L626.3 361.3 L626.8 363.0 L627.2 364.8 L627.3 366.4 L627.3 368.0 L627.2 369.5 L626.8 370.9 L626.3 372.2 L625.6 373.3 L624.8 374.3 L623.8 375.1 L622.7 375.7 Z" fill="#fff" stroke="#111" stroke-width="1.02" />
<path d="M621.1 376.5 L619.8 377.0 L618.5 377.3 L617.0 377.4 L615.5 377.3 L613.9 377.0 L612.2 376.6 L610.5 376.0 L608.9 375.2 L607.2 374.2 L605.5 373.1 L603.9 371.8 L602.4 370.5 L601.0 369.0 L599.6 367.4 L598.3 365.7 L597.2 364.0 L596.2 362.3 L595.4 360.5 L594.7 358.7 L594.2 357.0 L593.8 355.2 L593.7 353.6 L593.7 352.0 L593.8 350.5 L594.2 349.1 L594.7 347.8 L595.4 346.7 L596.2 345.7 L597.2 344.9 L598.3 344.2 L599.6 343.8 L600.9 343.5 L602.4 343.4 L603.9 343.5 L605.5 343.7 L607.2 344.2 L608.9 344.8 L610.5 345.6 L612.2 346.6 L613.9 347.7 L615.5 348.9 L617.0 350.3 L618.4 351.8 L619.8 353.3 L621.1 355.0 L622.2 356.7 L623.2 358.5 L624.0 360.3 L624.7 362.0 L625.2 363.8 L625.6 365.5 L625.7 367.2 L625.7 368.8 L625.6 370.3 L625.2 371.7 L624.7 372.9 L624.0 374.1 L623.2 375.0 L622.2 375.9 L621.1 376.5 Z" fill="#fff" stroke="#111" stroke-width="1.02" />
<path d="M620.1 375.2 L619.0 375.6 L617.7 375.9 L616.4 376.0 L615.0 375.9 L613.5 375.7 L612.0 375.2 L610.5 374.7 L608.9 373.9 L607.4 373.1 L605.9 372.0 L604.4 370.9 L603.0 369.6 L601.7 368.3 L600.4 366.8 L599.3 365.3 L598.2 363.7 L597.3 362.1 L596.6 360.5 L595.9 358.9 L595.5 357.2 L595.1 355.7 L595.0 354.1 L595.0 352.7 L595.1 351.3 L595.5 350.0 L595.9 348.9 L596.6 347.8 L597.3 346.9 L598.2 346.2 L599.3 345.6 L600.4 345.1 L601.7 344.9 L603.0 344.8 L604.4 344.9 L605.9 345.1 L607.4 345.5 L608.9 346.1 L610.5 346.8 L612.0 347.7 L613.5 348.7 L615.0 349.9 L616.4 351.1 L617.7 352.5 L619.0 353.9 L620.1 355.4 L621.2 357.0 L622.1 358.6 L622.8 360.3 L623.5 361.9 L623.9 363.5 L624.3 365.1 L624.4 366.6 L624.4 368.1 L624.3 369.5 L623.9 370.7 L623.5 371.9 L622.8 372.9 L622.1 373.8 L621.2 374.6 L620.1 375.2 Z" fill="none" stroke="#111" stroke-width="0.77" />
<path d="M619.0 372.2 L618.0 372.5 L617.0 372.8 L615.9 372.8 L614.7 372.8 L613.5 372.6 L612.3 372.2 L611.0 371.8 L609.8 371.2 L608.5 370.5 L607.3 369.6 L606.1 368.7 L604.9 367.6 L603.8 366.5 L602.8 365.3 L601.9 364.1 L601.0 362.8 L600.3 361.5 L599.6 360.1 L599.1 358.8 L598.7 357.5 L598.5 356.2 L598.3 354.9 L598.3 353.7 L598.5 352.6 L598.7 351.6 L599.1 350.6 L599.6 349.7 L600.3 349.0 L601.0 348.4 L601.8 347.9 L602.8 347.5 L603.8 347.3 L604.9 347.2 L606.1 347.3 L607.3 347.5 L608.5 347.8 L609.8 348.3 L611.0 348.9 L612.3 349.6 L613.5 350.5 L614.7 351.4 L615.9 352.4 L617.0 353.6 L618.0 354.8 L618.9 356.0 L619.8 357.3 L620.5 358.6 L621.2 360.0 L621.7 361.3 L622.1 362.6 L622.3 363.9 L622.5 365.2 L622.5 366.4 L622.3 367.5 L622.1 368.5 L621.7 369.5 L621.2 370.3 L620.5 371.1 L619.8 371.7 L619.0 372.2 Z" fill="none" stroke="#222" stroke-width="1.92" />
<path d="M618.4 370.4 L617.6 370.7 L616.7 370.9 L615.7 371.0 L614.7 371.0 L613.6 370.8 L612.6 370.5 L611.5 370.1 L610.3 369.5 L609.2 368.9 L608.2 368.2 L607.1 367.4 L606.1 366.5 L605.1 365.5 L604.2 364.4 L603.4 363.3 L602.7 362.2 L602.0 361.1 L601.5 359.9 L601.0 358.7 L600.7 357.6 L600.5 356.4 L600.3 355.3 L600.3 354.3 L600.4 353.3 L600.7 352.4 L601.0 351.5 L601.5 350.8 L602.0 350.2 L602.7 349.6 L603.4 349.2 L604.2 348.9 L605.1 348.7 L606.1 348.6 L607.1 348.7 L608.2 348.8 L609.2 349.1 L610.3 349.5 L611.5 350.1 L612.6 350.7 L613.6 351.4 L614.7 352.3 L615.7 353.2 L616.7 354.1 L617.6 355.2 L618.4 356.3 L619.1 357.4 L619.8 358.6 L620.3 359.7 L620.8 360.9 L621.1 362.1 L621.3 363.2 L621.5 364.3 L621.5 365.3 L621.4 366.3 L621.1 367.2 L620.8 368.1 L620.3 368.8 L619.8 369.5 L619.1 370.0 L618.4 370.4 Z" fill="none" stroke="#444" stroke-width="0.90" />
<circle cx="609.7" cy="360.376" r="0.45" fill="#333"/>
<line x1="630" y1="350.7741" x2="645" y2="343.6791" stroke="#333" stroke-width="0.90" />
<path d="M645.0 356.6 L644.3 356.9 L643.5 357.0 L642.6 357.1 L641.7 357.0 L640.7 356.9 L639.7 356.6 L638.7 356.2 L637.7 355.8 L636.7 355.2 L635.7 354.5 L634.7 353.8 L633.8 353.0 L633.0 352.1 L632.1 351.1 L631.4 350.1 L630.7 349.1 L630.1 348.0 L629.6 347.0 L629.2 345.9 L628.9 344.8 L628.7 343.8 L628.6 342.8 L628.6 341.9 L628.7 341.0 L628.9 340.1 L629.2 339.4 L629.6 338.7 L630.1 338.1 L630.7 337.6 L631.4 337.2 L632.1 336.9 L632.9 336.8 L633.8 336.7 L634.7 336.7 L635.7 336.9 L636.7 337.2 L637.7 337.5 L638.7 338.0 L639.7 338.6 L640.7 339.3 L641.7 340.0 L642.6 340.8 L643.4 341.7 L644.3 342.7 L645.0 343.7 L645.7 344.7 L646.3 345.8 L646.8 346.8 L647.2 347.9 L647.5 348.9 L647.7 350.0 L647.8 351.0 L647.8 351.9 L647.7 352.8 L647.5 353.7 L647.2 354.4 L646.8 355.1 L646.3 355.7 L645.7 356.2 L645.0 356.6 Z" fill="none" stroke="#111" stroke-width="1.02" />
<path d="M643.9 355.0 L643.3 355.2 L642.6 355.3 L641.8 355.4 L641.1 355.4 L640.3 355.2 L639.5 355.0 L638.6 354.7 L637.8 354.3 L636.9 353.8 L636.1 353.3 L635.3 352.6 L634.6 351.9 L633.8 351.2 L633.1 350.4 L632.5 349.6 L632.0 348.7 L631.5 347.8 L631.0 347.0 L630.7 346.1 L630.4 345.2 L630.3 344.3 L630.2 343.5 L630.2 342.7 L630.3 342.0 L630.4 341.3 L630.7 340.6 L631.0 340.1 L631.5 339.6 L632.0 339.2 L632.5 338.8 L633.1 338.6 L633.8 338.4 L634.6 338.4 L635.3 338.4 L636.1 338.6 L636.9 338.8 L637.8 339.1 L638.6 339.5 L639.5 340.0 L640.3 340.5 L641.1 341.2 L641.8 341.8 L642.6 342.6 L643.3 343.4 L643.9 344.2 L644.4 345.1 L644.9 345.9 L645.4 346.8 L645.7 347.7 L646.0 348.6 L646.1 349.5 L646.2 350.3 L646.2 351.1 L646.1 351.8 L646.0 352.5 L645.7 353.2 L645.4 353.7 L644.9 354.2 L644.4 354.6 L643.9 355.0 Z" fill="none" stroke="#111" stroke-width="0.90" />
<path d="M674.5 342.1 L673.8 342.4 L673.0 342.5 L672.2 342.6 L671.3 342.6 L670.4 342.4 L669.5 342.1 L668.5 341.8 L667.5 341.3 L666.6 340.8 L665.6 340.1 L664.7 339.4 L663.8 338.6 L663.0 337.8 L662.2 336.9 L661.5 335.9 L660.8 334.9 L660.2 333.9 L659.8 332.9 L659.4 331.8 L659.1 330.8 L658.9 329.8 L658.8 328.9 L658.8 328.0 L658.9 327.1 L659.1 326.3 L659.4 325.6 L659.7 324.9 L660.2 324.4 L660.8 323.9 L661.5 323.5 L685.5 312.2 L686.2 311.9 L687.0 311.7 L687.8 311.6 L688.7 311.7 L689.6 311.8 L690.5 312.1 L691.5 312.5 L692.5 312.9 L693.4 313.5 L694.4 314.1 L695.3 314.8 L696.2 315.6 L697.0 316.5 L697.8 317.4 L698.5 318.4 L699.2 319.3 L699.8 320.4 L700.2 321.4 L700.6 322.4 L700.9 323.4 L701.1 324.4 L701.2 325.4 L701.2 326.3 L701.1 327.1 L700.9 328.0 L700.6 328.7 L700.3 329.3 L699.8 329.9 L699.2 330.4 L698.5 330.7 Z" fill="#fff" stroke="#111" stroke-width="1.02" />
<path d="M682.2 314.4 L682.7 313.8 L683.2 313.3 L683.9 312.9 L684.6 312.6 L685.4 312.4 L686.2 312.3 L687.1 312.3 L688.0 312.5 L689.0 312.7 L690.0 313.1 L691.0 313.5 L691.9 314.1 L692.9 314.7 L693.8 315.4 L694.8 316.2 L695.6 317.1 L696.4 318.0 L697.1 319.0 L697.8 320.0 L698.4 321.1 L698.9 322.1 L699.3 323.1 L699.6 324.2 L699.8 325.2 L699.9 326.2 L699.8 327.1 L699.7 327.9 L699.5 328.8 L699.2 329.5 L698.8 330.1 L698.2 330.7 L697.6 331.1 L697.0 331.5 L696.2 331.7 L695.4 331.9 L694.5 331.9" fill="none" stroke="#111" stroke-width="0.90" />
<path d="M680.8 315.1 L681.3 314.5 L681.8 314.0 L682.5 313.6 L683.2 313.3 L684.0 313.1 L684.8 313.0 L685.7 313.0 L686.6 313.1 L687.6 313.4 L688.6 313.7 L689.6 314.2 L690.5 314.7 L691.5 315.4 L692.4 316.1 L693.4 316.9 L694.2 317.8 L695.0 318.7 L695.7 319.7 L696.4 320.7 L697.0 321.7 L697.5 322.8 L697.9 323.8 L698.2 324.8 L698.4 325.8 L698.5 326.8 L698.4 327.7 L698.3 328.6 L698.1 329.4 L697.8 330.1 L697.4 330.8 L696.8 331.3 L696.2 331.8 L695.6 332.2 L694.8 332.4 L694.0 332.5 L693.1 332.6" fill="none" stroke="#111" stroke-width="0.90" />
<path d="M679.8 315.6 L680.3 315.0 L680.8 314.5 L681.5 314.0 L682.2 313.7 L683.0 313.5 L683.8 313.5 L684.7 313.5 L685.6 313.6 L686.6 313.9 L687.6 314.2 L688.6 314.7 L689.5 315.2 L690.5 315.9 L691.4 316.6 L692.4 317.4 L693.2 318.3 L694.0 319.2 L694.7 320.1 L695.4 321.2 L696.0 322.2 L696.5 323.2 L696.9 324.3 L697.2 325.3 L697.4 326.3 L697.5 327.3 L697.4 328.2 L697.3 329.1 L697.1 329.9 L696.8 330.6 L696.4 331.3 L695.8 331.8 L695.2 332.3 L694.6 332.6 L693.8 332.9 L693.0 333.0 L692.1 333.0" fill="none" stroke="#555" stroke-width="0.77" />
<path d="M680.3 353.1 L678.8 353.6 L677.1 354.0 L675.3 354.1 L673.5 354.0 L671.5 353.7 L669.6 353.1 L667.5 352.4 L665.5 351.4 L663.5 350.3 L661.5 348.9 L659.5 347.4 L657.7 345.7 L655.9 343.9 L654.3 342.0 L652.7 340.0 L651.4 337.9 L650.2 335.8 L649.2 333.7 L648.3 331.5 L647.7 329.4 L647.3 327.3 L647.1 325.3 L647.1 323.3 L647.3 321.5 L647.7 319.8 L648.3 318.3 L649.2 316.9 L650.2 315.7 L651.4 314.8 L652.7 314.0 L653.8 313.4 L655.3 312.9 L657.0 312.5 L658.8 312.4 L660.6 312.5 L662.6 312.8 L664.5 313.4 L666.6 314.1 L668.6 315.1 L670.6 316.2 L672.6 317.6 L674.6 319.1 L676.4 320.8 L678.2 322.6 L679.8 324.5 L681.4 326.5 L682.7 328.6 L683.9 330.7 L684.9 332.8 L685.8 335.0 L686.4 337.1 L686.8 339.2 L687.0 341.2 L687.0 343.2 L686.8 345.0 L686.4 346.7 L685.8 348.2 L684.9 349.6 L683.9 350.8 L682.7 351.7 L681.4 352.5 Z" fill="#fff" stroke="#111" stroke-width="0.96" />
<path d="M680.3 353.1 L678.8 353.6 L677.1 354.0 L675.3 354.1 L673.5 354.0 L671.5 353.7 L669.6 353.1 L667.5 352.4 L665.5 351.4 L663.5 350.3 L661.5 348.9 L659.5 347.4 L657.7 345.7 L655.9 343.9 L654.3 342.0 L652.7 340.0 L651.4 337.9 L650.2 335.8 L649.2 333.7 L648.3 331.5 L647.7 329.4 L647.3 327.3 L647.1 325.3 L647.1 323.3 L647.3 321.5 L647.7 319.8 L648.3 318.3 L649.2 316.9 L650.2 315.7 L651.4 314.8 L652.7 314.0 L654.2 313.4 L655.9 313.0 L657.7 312.9 L659.5 313.0 L661.5 313.3 L663.4 313.9 L665.5 314.6 L667.5 315.6 L669.5 316.8 L671.5 318.1 L673.5 319.6 L675.3 321.3 L677.1 323.1 L678.7 325.0 L680.3 327.0 L681.6 329.1 L682.8 331.2 L683.8 333.4 L684.7 335.5 L685.3 337.6 L685.7 339.7 L685.9 341.7 L685.9 343.7 L685.7 345.5 L685.3 347.2 L684.7 348.7 L683.8 350.1 L682.8 351.3 L681.6 352.3 L680.3 353.1 Z" fill="#fff" stroke="#111" stroke-width="0.96" />
<path d="M679.5 351.9 L678.0 352.5 L676.5 352.8 L674.8 352.9 L673.1 352.8 L671.2 352.5 L669.4 352.0 L667.5 351.3 L665.5 350.4 L663.6 349.3 L661.8 348.0 L659.9 346.6 L658.2 345.0 L656.5 343.3 L655.0 341.5 L653.5 339.6 L652.3 337.7 L651.1 335.7 L650.2 333.7 L649.4 331.6 L648.8 329.6 L648.4 327.7 L648.2 325.8 L648.2 323.9 L648.4 322.2 L648.8 320.6 L649.4 319.2 L650.2 317.9 L651.1 316.8 L652.3 315.8 L653.5 315.1 L655.0 314.6 L656.5 314.2 L658.2 314.1 L659.9 314.2 L661.8 314.5 L663.6 315.0 L665.5 315.7 L667.5 316.6 L669.4 317.7 L671.2 319.0 L673.1 320.4 L674.8 322.0 L676.5 323.7 L678.0 325.5 L679.5 327.4 L680.7 329.3 L681.9 331.3 L682.8 333.4 L683.6 335.4 L684.2 337.4 L684.6 339.4 L684.8 341.3 L684.8 343.1 L684.6 344.8 L684.2 346.4 L683.6 347.8 L682.8 349.1 L681.9 350.2 L680.7 351.2 L679.5 351.9 Z" fill="none" stroke="#111" stroke-width="0.77" />
<path d="M667.8 345.8 L667.1 346.1 L666.3 346.2 L665.4 346.3 L664.5 346.3 L663.5 346.1 L662.5 345.8 L661.5 345.5 L660.5 345.0 L659.5 344.4 L658.5 343.7 L657.5 343.0 L656.6 342.2 L655.8 341.3 L654.9 340.3 L654.2 339.3 L653.5 338.3 L652.9 337.3 L652.4 336.2 L652.0 335.1 L651.7 334.1 L651.5 333.0 L651.4 332.0 L651.4 331.1 L651.5 330.2 L651.7 329.3 L652.0 328.6 L652.4 327.9 L652.9 327.3 L653.5 326.8 L654.2 326.4 L659.2 324.1 L659.9 323.8 L660.7 323.6 L661.6 323.5 L662.5 323.6 L663.5 323.8 L664.5 324.0 L665.5 324.4 L666.5 324.9 L667.5 325.5 L668.5 326.1 L669.5 326.9 L670.4 327.7 L671.2 328.6 L672.1 329.5 L672.8 330.5 L673.5 331.6 L674.1 332.6 L674.6 333.7 L675.0 334.7 L675.3 335.8 L675.5 336.8 L675.6 337.8 L675.6 338.8 L675.5 339.7 L675.3 340.5 L675.0 341.3 L674.6 342.0 L674.1 342.5 L673.5 343.0 L672.8 343.4 Z" fill="#fff" stroke="#111" stroke-width="1.02" />
<path d="M665.8 345.7 L665.1 346.0 L664.3 346.2 L663.5 346.2 L662.7 346.2 L661.8 346.0 L660.9 345.8 L660.0 345.4 L659.0 345.0 L658.1 344.5 L657.2 343.9 L656.3 343.2 L655.5 342.4 L654.7 341.6 L653.9 340.7 L653.2 339.8 L652.6 338.8 L652.1 337.9 L651.6 336.9 L651.2 335.9 L650.9 334.9 L650.7 334.0 L650.6 333.1 L650.6 332.2 L650.7 331.4 L650.9 330.6 L651.2 329.9 L651.6 329.3 L652.1 328.7 L652.6 328.3 L653.2 327.9 L654.9 327.1 L655.6 326.8 L656.4 326.7 L657.2 326.6 L658.0 326.7 L658.9 326.8 L659.8 327.1 L660.7 327.4 L661.7 327.8 L662.6 328.4 L663.5 329.0 L664.4 329.7 L665.2 330.4 L666.0 331.3 L666.8 332.1 L667.5 333.0 L668.1 334.0 L668.6 335.0 L669.1 335.9 L669.5 336.9 L669.8 337.9 L670.0 338.9 L670.1 339.8 L670.1 340.7 L670.0 341.5 L669.8 342.3 L669.5 343.0 L669.1 343.6 L668.6 344.1 L668.1 344.6 L667.5 344.9 Z" fill="#fff" stroke="#111" stroke-width="1.15" />
<path d="M665.8 345.7 L665.1 346.0 L664.3 346.2 L663.5 346.2 L662.7 346.2 L661.8 346.0 L660.9 345.8 L660.0 345.4 L659.0 345.0 L658.1 344.5 L657.2 343.9 L656.3 343.2 L655.5 342.4 L654.7 341.6 L653.9 340.7 L653.2 339.8 L652.6 338.8 L652.1 337.9 L651.6 336.9 L651.2 335.9 L650.9 334.9 L650.7 334.0 L650.6 333.1 L650.6 332.2 L650.7 331.4 L650.9 330.6 L651.2 329.9 L651.6 329.3 L652.1 328.7 L652.6 328.3 L653.2 327.9 L653.9 327.6 L654.7 327.5 L655.5 327.4 L656.3 327.5 L657.2 327.6 L658.1 327.9 L659.0 328.2 L660.0 328.6 L660.9 329.2 L661.8 329.8 L662.7 330.5 L663.5 331.2 L664.3 332.1 L665.1 332.9 L665.8 333.8 L666.4 334.8 L666.9 335.8 L667.4 336.8 L667.8 337.7 L668.1 338.7 L668.3 339.7 L668.4 340.6 L668.4 341.5 L668.3 342.3 L668.1 343.1 L667.8 343.8 L667.4 344.4 L666.9 344.9 L666.4 345.4 L665.8 345.7 Z" fill="#fff" stroke="#111" stroke-width="1.15" />
<path d="M664.8 343.4 L664.3 343.6 L663.7 343.7 L663.1 343.8 L662.4 343.7 L661.8 343.6 L661.1 343.4 L660.4 343.2 L659.6 342.8 L658.9 342.4 L658.2 342.0 L657.6 341.4 L656.9 340.9 L656.3 340.2 L655.7 339.6 L655.2 338.9 L654.7 338.1 L654.3 337.4 L653.9 336.6 L653.7 335.9 L653.4 335.1 L653.3 334.4 L653.2 333.7 L653.2 333.0 L653.3 332.4 L653.4 331.8 L653.6 331.3 L653.9 330.8 L654.3 330.4 L654.7 330.0 L655.2 329.8 L655.7 329.6 L656.3 329.4 L656.9 329.4 L657.6 329.4 L658.2 329.5 L658.9 329.7 L659.6 330.0 L660.4 330.3 L661.1 330.7 L661.8 331.2 L662.4 331.7 L663.1 332.3 L663.7 332.9 L664.3 333.6 L664.8 334.3 L665.3 335.0 L665.7 335.8 L666.1 336.5 L666.3 337.3 L666.6 338.0 L666.7 338.8 L666.8 339.5 L666.8 340.1 L666.7 340.8 L666.6 341.4 L666.4 341.9 L666.1 342.4 L665.7 342.8 L665.3 343.1 L664.8 343.4 Z" fill="none" stroke="#111" stroke-width="1.15" />
<path d="M664.6 342.2 L664.2 342.4 L663.7 342.5 L663.2 342.5 L662.6 342.5 L662.0 342.4 L661.4 342.3 L660.8 342.0 L660.2 341.7 L659.6 341.4 L659.0 341.0 L658.4 340.5 L657.8 340.0 L657.3 339.5 L656.8 338.9 L656.4 338.3 L655.9 337.7 L655.6 337.0 L655.3 336.4 L655.0 335.7 L654.8 335.1 L654.7 334.5 L654.7 333.9 L654.7 333.3 L654.7 332.7 L654.8 332.2 L655.0 331.8 L655.3 331.4 L655.6 331.0 L655.9 330.7 L656.4 330.5 L656.8 330.3 L657.3 330.2 L657.8 330.1 L658.4 330.2 L659.0 330.3 L659.6 330.4 L660.2 330.7 L660.8 331.0 L661.4 331.3 L662.0 331.7 L662.6 332.2 L663.2 332.7 L663.7 333.2 L664.2 333.8 L664.6 334.4 L665.1 335.0 L665.4 335.7 L665.7 336.3 L666.0 336.9 L666.2 337.6 L666.3 338.2 L666.3 338.8 L666.3 339.4 L666.3 340.0 L666.2 340.5 L666.0 340.9 L665.7 341.3 L665.4 341.7 L665.1 342.0 L664.6 342.2 Z" fill="none" stroke="#555" stroke-width="0.77" />
<circle cx="659.5" cy="336.8206" r="0.45" fill="#333"/>
<line x1="668" y1="332.80010000000004" x2="689" y2="322.8671" stroke="#333" stroke-width="0.90" />
<circle cx="701" cy="317.1911" r="0.45" fill="#333"/>
<path d="M718.5 319.0 L718.0 319.2 L717.3 319.4 L716.6 319.4 L715.9 319.4 L715.2 319.3 L714.4 319.0 L713.6 318.8 L712.8 318.4 L712.0 317.9 L711.2 317.4 L710.5 316.8 L709.8 316.2 L709.1 315.5 L708.4 314.7 L707.9 313.9 L707.3 313.1 L706.9 312.3 L706.5 311.5 L706.1 310.6 L705.9 309.8 L705.7 309.0 L705.7 308.2 L705.7 307.5 L705.7 306.8 L705.9 306.1 L706.1 305.5 L706.5 305.0 L706.9 304.5 L707.3 304.1 L707.9 303.8 L710.1 302.8 L710.6 302.6 L711.3 302.4 L712.0 302.4 L712.7 302.4 L713.4 302.5 L714.2 302.8 L715.0 303.0 L715.8 303.4 L716.6 303.9 L717.4 304.4 L718.1 305.0 L718.8 305.6 L719.5 306.3 L720.2 307.1 L720.7 307.9 L721.3 308.7 L721.7 309.5 L722.1 310.3 L722.5 311.2 L722.7 312.0 L722.9 312.8 L722.9 313.6 L722.9 314.3 L722.9 315.0 L722.7 315.7 L722.5 316.3 L722.1 316.8 L721.7 317.3 L721.3 317.7 L720.7 318.0 Z" fill="#fff" stroke="#111" stroke-width="0.90" />
<path d="M718.5 319.0 L718.0 319.2 L717.3 319.4 L716.6 319.4 L715.9 319.4 L715.2 319.3 L714.4 319.0 L713.6 318.8 L712.8 318.4 L712.0 317.9 L711.2 317.4 L710.5 316.8 L709.8 316.2 L709.1 315.5 L708.4 314.7 L707.9 313.9 L707.3 313.1 L706.9 312.3 L706.5 311.5 L706.1 310.6 L705.9 309.8 L705.7 309.0 L705.7 308.2 L705.7 307.5 L705.7 306.8 L705.9 306.1 L706.1 305.5 L706.5 305.0 L706.9 304.5 L707.3 304.1 L707.9 303.8 L708.4 303.6 L709.1 303.5 L709.8 303.4 L710.5 303.5 L711.2 303.6 L712.0 303.8 L712.8 304.1 L713.6 304.5 L714.4 304.9 L715.2 305.4 L715.9 306.0 L716.6 306.7 L717.3 307.4 L718.0 308.1 L718.5 308.9 L719.1 309.7 L719.5 310.5 L719.9 311.4 L720.3 312.2 L720.5 313.0 L720.7 313.8 L720.7 314.6 L720.7 315.4 L720.7 316.1 L720.5 316.7 L720.3 317.3 L719.9 317.9 L719.5 318.3 L719.1 318.7 L718.5 319.0 Z" fill="#fff" stroke="#111" stroke-width="0.90" />
<path d="M714.5 313.3 L714.4 313.4 L714.2 313.4 L714.1 313.4 L713.9 313.4 L713.7 313.4 L713.5 313.3 L713.3 313.3 L713.1 313.2 L712.9 313.0 L712.7 312.9 L712.5 312.8 L712.3 312.6 L712.2 312.4 L712.0 312.2 L711.9 312.1 L711.7 311.9 L711.6 311.6 L711.5 311.4 L711.4 311.2 L711.4 311.0 L711.3 310.8 L711.3 310.6 L711.3 310.4 L711.3 310.3 L711.4 310.1 L711.4 309.9 L711.5 309.8 L711.6 309.7 L711.7 309.6 L711.9 309.5 L712.0 309.5 L712.2 309.4 L712.3 309.4 L712.5 309.4 L712.7 309.5 L712.9 309.5 L713.1 309.6 L713.3 309.7 L713.5 309.8 L713.7 309.9 L713.9 310.1 L714.1 310.2 L714.2 310.4 L714.4 310.6 L714.5 310.8 L714.7 311.0 L714.8 311.2 L714.9 311.4 L715.0 311.6 L715.0 311.8 L715.1 312.0 L715.1 312.2 L715.1 312.4 L715.1 312.6 L715.0 312.7 L715.0 312.9 L714.9 313.0 L714.8 313.1 L714.7 313.2 L714.5 313.3 Z" fill="none" stroke="#111" stroke-width="0.77" />
<path d="M713.9 312.4 L713.8 312.4 L713.7 312.4 L713.6 312.4 L713.5 312.4 L713.4 312.4 L713.3 312.4 L713.2 312.3 L713.2 312.3 L713.1 312.2 L713.0 312.2 L712.9 312.1 L712.8 312.0 L712.7 311.9 L712.6 311.8 L712.5 311.7 L712.5 311.6 L712.4 311.5 L712.4 311.4 L712.3 311.3 L712.3 311.2 L712.3 311.1 L712.3 311.0 L712.3 310.9 L712.3 310.8 L712.3 310.8 L712.3 310.7 L712.4 310.6 L712.4 310.6 L712.5 310.5 L712.5 310.5 L712.6 310.4 L712.7 310.4 L712.8 310.4 L712.9 310.4 L713.0 310.4 L713.1 310.5 L713.2 310.5 L713.2 310.6 L713.3 310.6 L713.4 310.7 L713.5 310.7 L713.6 310.8 L713.7 310.9 L713.8 311.0 L713.9 311.1 L713.9 311.2 L714.0 311.3 L714.0 311.4 L714.1 311.5 L714.1 311.6 L714.1 311.7 L714.1 311.8 L714.1 311.9 L714.1 312.0 L714.1 312.1 L714.1 312.2 L714.0 312.2 L714.0 312.3 L713.9 312.3 L713.9 312.4 Z" fill="none" stroke="#111" stroke-width="0.77" />
<line x1="716" y1="310.0961" x2="727" y2="304.8931" stroke="#333" stroke-width="0.90" />
<path d="M729.1 306.4 L729.0 306.5 L728.8 306.5 L728.7 306.5 L728.5 306.5 L728.3 306.5 L728.1 306.4 L727.9 306.3 L727.7 306.3 L727.5 306.1 L727.3 306.0 L727.1 305.9 L726.9 305.7 L726.8 305.5 L726.6 305.3 L726.5 305.1 L726.3 304.9 L726.2 304.7 L726.1 304.5 L726.0 304.3 L726.0 304.1 L725.9 303.9 L725.9 303.7 L725.9 303.5 L725.9 303.4 L726.0 303.2 L726.0 303.0 L726.1 302.9 L726.2 302.8 L726.3 302.7 L726.5 302.6 L733.2 299.4 L733.3 299.4 L733.5 299.4 L733.6 299.3 L733.8 299.4 L734.0 299.4 L734.2 299.4 L734.4 299.5 L734.6 299.6 L734.8 299.7 L735.0 299.8 L735.2 300.0 L735.4 300.2 L735.5 300.3 L735.7 300.5 L735.8 300.7 L736.0 300.9 L736.1 301.1 L736.2 301.3 L736.3 301.5 L736.3 301.7 L736.4 301.9 L736.4 302.1 L736.4 302.3 L736.4 302.5 L736.3 302.7 L736.3 302.8 L736.2 303.0 L736.1 303.1 L736.0 303.2 L735.8 303.2 Z" fill="#fff" stroke="#111" stroke-width="0.90" />
<path d="M729.1 306.4 L729.0 306.5 L728.8 306.5 L728.7 306.5 L728.5 306.5 L728.3 306.5 L728.1 306.4 L727.9 306.3 L727.7 306.3 L727.5 306.1 L727.3 306.0 L727.1 305.9 L726.9 305.7 L726.8 305.5 L726.6 305.3 L726.5 305.1 L726.3 304.9 L726.2 304.7 L726.1 304.5 L726.0 304.3 L726.0 304.1 L725.9 303.9 L725.9 303.7 L725.9 303.5 L725.9 303.4 L726.0 303.2 L726.0 303.0 L726.1 302.9 L726.2 302.8 L726.3 302.7 L726.5 302.6 L726.6 302.6 L726.8 302.5 L726.9 302.5 L727.1 302.5 L727.3 302.6 L727.5 302.6 L727.7 302.7 L727.9 302.8 L728.1 302.9 L728.3 303.0 L728.5 303.2 L728.7 303.3 L728.8 303.5 L729.0 303.7 L729.1 303.9 L729.3 304.1 L729.4 304.3 L729.5 304.5 L729.6 304.7 L729.6 304.9 L729.7 305.1 L729.7 305.3 L729.7 305.5 L729.7 305.7 L729.6 305.8 L729.6 306.0 L729.5 306.1 L729.4 306.2 L729.3 306.3 L729.1 306.4 Z" fill="#fff" stroke="#111" stroke-width="0.90" />
<path d="M737.0 304.9 L736.7 305.0 L736.4 305.0 L736.1 305.0 L735.8 305.0 L735.4 305.0 L735.0 304.9 L734.7 304.7 L734.3 304.6 L734.0 304.4 L733.6 304.1 L733.2 303.8 L732.9 303.5 L732.6 303.2 L732.3 302.9 L732.0 302.5 L731.8 302.1 L731.6 301.8 L731.4 301.4 L731.2 301.0 L731.1 300.6 L731.0 300.2 L731.0 299.9 L731.0 299.5 L731.0 299.2 L731.1 298.9 L731.2 298.6 L731.4 298.4 L731.6 298.2 L731.8 298.0 L732.0 297.8 L733.1 297.3 L733.4 297.2 L733.7 297.1 L734.0 297.1 L734.3 297.1 L734.7 297.2 L735.1 297.3 L735.4 297.4 L735.8 297.6 L736.1 297.8 L736.5 298.1 L736.9 298.3 L737.2 298.6 L737.5 299.0 L737.8 299.3 L738.1 299.7 L738.3 300.0 L738.5 300.4 L738.7 300.8 L738.9 301.2 L739.0 301.6 L739.1 301.9 L739.1 302.3 L739.1 302.7 L739.1 303.0 L739.0 303.3 L738.9 303.6 L738.7 303.8 L738.5 304.0 L738.3 304.2 L738.1 304.3 Z" fill="#fff" stroke="#111" stroke-width="0.90" />
<path d="M737.0 304.9 L736.7 305.0 L736.4 305.0 L736.1 305.0 L735.8 305.0 L735.4 305.0 L735.0 304.9 L734.7 304.7 L734.3 304.6 L734.0 304.4 L733.6 304.1 L733.2 303.8 L732.9 303.5 L732.6 303.2 L732.3 302.9 L732.0 302.5 L731.8 302.1 L731.6 301.8 L731.4 301.4 L731.2 301.0 L731.1 300.6 L731.0 300.2 L731.0 299.9 L731.0 299.5 L731.0 299.2 L731.1 298.9 L731.2 298.6 L731.4 298.4 L731.6 298.2 L731.8 298.0 L732.0 297.8 L732.3 297.7 L732.6 297.7 L732.9 297.6 L733.2 297.7 L733.6 297.7 L734.0 297.8 L734.3 298.0 L734.7 298.1 L735.0 298.3 L735.4 298.6 L735.8 298.8 L736.1 299.1 L736.4 299.5 L736.7 299.8 L737.0 300.2 L737.2 300.5 L737.4 300.9 L737.6 301.3 L737.8 301.7 L737.9 302.1 L738.0 302.5 L738.0 302.8 L738.0 303.2 L738.0 303.5 L737.9 303.8 L737.8 304.1 L737.6 304.3 L737.4 304.5 L737.2 304.7 L737.0 304.9 Z" fill="#fff" stroke="#111" stroke-width="0.90" />
<path d="M737.6 303.7 L737.4 303.8 L737.1 303.8 L736.9 303.8 L736.6 303.8 L736.3 303.8 L736.0 303.7 L735.7 303.6 L735.5 303.4 L735.2 303.3 L734.9 303.1 L734.6 302.8 L734.3 302.6 L734.1 302.3 L733.8 302.1 L733.6 301.8 L733.4 301.5 L733.2 301.2 L733.1 300.8 L733.0 300.5 L732.9 300.2 L732.8 299.9 L732.8 299.6 L732.8 299.3 L732.8 299.1 L732.9 298.8 L733.0 298.6 L733.1 298.4 L733.2 298.2 L733.4 298.1 L733.6 298.0 L739.0 295.4 L739.2 295.3 L739.5 295.3 L739.7 295.3 L740.0 295.3 L740.3 295.3 L740.6 295.4 L740.9 295.5 L741.1 295.7 L741.4 295.8 L741.7 296.0 L742.0 296.2 L742.3 296.5 L742.5 296.8 L742.8 297.0 L743.0 297.3 L743.2 297.6 L743.4 297.9 L743.5 298.2 L743.6 298.6 L743.7 298.9 L743.8 299.2 L743.8 299.5 L743.8 299.8 L743.8 300.0 L743.7 300.3 L743.6 300.5 L743.5 300.7 L743.4 300.9 L743.2 301.0 L743.0 301.1 Z" fill="#fff" stroke="#111" stroke-width="1.02" />
<path d="M737.6 303.7 L737.4 303.8 L737.1 303.8 L736.9 303.8 L736.6 303.8 L736.3 303.8 L736.0 303.7 L735.7 303.6 L735.5 303.4 L735.2 303.3 L734.9 303.1 L734.6 302.8 L734.3 302.6 L734.1 302.3 L733.8 302.1 L733.6 301.8 L733.4 301.5 L733.2 301.2 L733.1 300.8 L733.0 300.5 L732.9 300.2 L732.8 299.9 L732.8 299.6 L732.8 299.3 L732.8 299.1 L732.9 298.8 L733.0 298.6 L733.1 298.4 L733.2 298.2 L733.4 298.1 L733.6 298.0 L733.8 297.9 L734.1 297.8 L734.3 297.8 L734.6 297.8 L734.9 297.9 L735.2 298.0 L735.5 298.1 L735.7 298.2 L736.0 298.4 L736.3 298.6 L736.6 298.8 L736.9 299.0 L737.1 299.3 L737.4 299.6 L737.6 299.9 L737.8 300.2 L738.0 300.5 L738.1 300.8 L738.2 301.1 L738.3 301.4 L738.4 301.7 L738.4 302.0 L738.4 302.3 L738.4 302.6 L738.3 302.8 L738.2 303.0 L738.1 303.2 L738.0 303.4 L737.8 303.6 L737.6 303.7 Z" fill="#fff" stroke="#111" stroke-width="1.02" />
<path d="M737.6 296.1 L737.8 296.0 L738.1 296.0 L738.3 295.9 L738.6 295.9 L738.9 296.0 L739.2 296.1 L739.5 296.2 L739.7 296.3 L740.0 296.5 L740.3 296.7 L740.6 296.9 L740.9 297.2 L741.1 297.4 L741.4 297.7 L741.6 298.0 L741.8 298.3 L742.0 298.6 L742.1 298.9 L742.2 299.2 L742.3 299.5 L742.4 299.8 L742.4 300.1 L742.4 300.4 L742.4 300.7 L742.3 300.9 L742.2 301.1 L742.1 301.3 L742.0 301.5 L741.8 301.7 L741.6 301.8" fill="none" stroke="#111" stroke-width="0.77" />
<path d="M521.4 153.7 L520.3 154.1 L519.1 154.4 L517.8 154.5 L516.4 154.4 L514.9 154.2 L513.5 153.8 L512.0 153.2 L510.4 152.5 L508.9 151.6 L507.5 150.6 L506.0 149.5 L504.6 148.3 L503.3 146.9 L502.1 145.5 L501.0 144.0 L500.0 142.5 L499.1 140.9 L498.3 139.3 L497.7 137.7 L497.2 136.1 L496.9 134.6 L496.8 133.1 L496.8 131.6 L496.9 130.3 L497.2 129.0 L497.7 127.9 L498.3 126.9 L499.1 126.0 L500.0 125.3 L501.0 124.7 L502.1 124.3 L503.3 124.0 L504.6 123.9 L506.0 124.0 L507.5 124.2 L508.9 124.6 L510.4 125.2 L512.0 125.9 L513.5 126.8 L514.9 127.8 L516.4 128.9 L517.8 130.1 L519.1 131.5 L520.3 132.9 L521.4 134.4 L522.4 135.9 L523.3 137.5 L524.1 139.1 L524.7 140.7 L525.2 142.3 L525.5 143.8 L525.6 145.3 L525.6 146.8 L525.5 148.1 L525.2 149.4 L524.7 150.5 L524.1 151.5 L523.3 152.4 L522.4 153.1 L521.4 153.7 Z" fill="none" stroke="#111" stroke-width="1.15" />
<path d="M520.8 152.8 L519.7 153.2 L518.6 153.4 L517.3 153.5 L516.0 153.4 L514.7 153.2 L513.3 152.8 L511.9 152.3 L510.5 151.6 L509.1 150.8 L507.7 149.9 L506.4 148.8 L505.1 147.7 L503.8 146.4 L502.7 145.1 L501.7 143.7 L500.7 142.3 L499.9 140.8 L499.2 139.3 L498.6 137.8 L498.2 136.3 L497.9 134.9 L497.7 133.5 L497.7 132.1 L497.9 130.9 L498.2 129.7 L498.6 128.6 L499.2 127.7 L499.9 126.9 L500.7 126.2 L501.6 125.6 L502.7 125.2 L503.8 125.0 L505.1 124.9 L506.4 125.0 L507.7 125.2 L509.1 125.6 L510.5 126.1 L511.9 126.8 L513.3 127.6 L514.7 128.5 L516.0 129.6 L517.3 130.7 L518.6 132.0 L519.7 133.3 L520.7 134.7 L521.7 136.1 L522.5 137.6 L523.2 139.1 L523.8 140.6 L524.2 142.1 L524.5 143.5 L524.7 144.9 L524.7 146.3 L524.5 147.5 L524.2 148.7 L523.8 149.8 L523.2 150.7 L522.5 151.5 L521.7 152.2 L520.8 152.8 Z" fill="none" stroke="#444" stroke-width="0.90" />
<path d="M465.2 161.3 L500 144.2" fill="none" stroke="#333" stroke-width="0.90" stroke-dasharray="11 3 1.2 3"/>
<line x1="500" y1="144.2" x2="513" y2="138" stroke="#333" stroke-width="0.90" />
<line x1="528" y1="131.2" x2="543" y2="124" stroke="#333" stroke-width="0.90" />
<path d="M565 91 L604 73" fill="none" stroke="#333" stroke-width="0.90" stroke-dasharray="12 3 1.2 3 1.2 3"/>
<path d="M593 97.8 L613.8 87.3" fill="none" stroke="#333" stroke-width="0.90" stroke-dasharray="1.2 3 1.2 3 12 3"/>
<path d="M598.7 132.3 L644 110.6" fill="none" stroke="#333" stroke-width="0.90" stroke-dasharray="1.2 3 1.2 3 9 3 30 0"/>
<path d="M562.4 91.0 C562.8 87.7 567.9 88.3 570.4 87.6 C572.8 86.8 574.9 86.2 577.2 86.4 C579.4 86.7 581.7 87.9 584.0 89.3 C586.2 90.7 588.7 92.7 590.8 94.9 C592.8 97.2 595.0 100.0 596.4 102.9 C597.8 105.7 598.9 109.1 599.3 112.0 C599.6 114.8 599.4 117.4 598.7 119.9 C598.0 122.3 597.0 125.2 595.3 126.7 C593.6 128.2 591.7 129.3 588.5 129.0 C585.3 128.6 579.4 128.0 576.0 124.4 C572.6 120.8 570.4 113.0 568.1 107.4 C565.8 101.8 562.0 94.3 562.4 91.0 Z" fill="#fff" stroke="#111" stroke-width="1.28" />
<path d="M579.4 88.1 C580.7 89.5 585.1 93.2 587.4 96.1 C589.6 98.9 591.6 101.9 593.0 105.1 C594.4 108.4 595.6 112.3 595.9 115.4 C596.1 118.4 594.9 122.0 594.7 123.3" fill="none" stroke="#111" stroke-width="1.02" />
<path d="M537.5 106.3 C538.0 104.7 539.5 102.4 540.9 100.6 C542.3 98.8 544.8 96.8 546.0 95.5 C547.1 94.2 546.4 93.6 547.7 92.7 C548.9 91.7 551.6 90.6 553.3 89.8 C555.0 89.1 556.6 88.2 557.9 88.4 C559.2 88.6 560.0 90.3 561.3 91.0 C562.6 91.7 563.9 91.6 565.8 92.7 C567.7 93.7 570.5 96.3 572.6 97.2 C574.7 98.2 577.0 97.4 578.3 98.3 C579.6 99.3 579.2 101.7 580.6 102.9 C581.9 104.0 584.9 103.6 586.2 105.1 C587.5 106.7 588.5 109.9 588.5 112.0 C588.5 114.0 586.2 116.2 586.2 117.6 C586.2 119.0 587.4 119.6 588.5 120.4 C589.6 121.3 591.7 121.4 593.0 122.7 C594.3 124.0 595.8 126.5 596.4 128.3 C597.1 130.2 597.4 132.5 597.0 134.0 C596.6 135.5 594.5 136.1 594.2 137.4 C593.8 138.7 595.7 140.4 594.7 142.0 C593.8 143.5 590.3 145.6 588.5 146.5 C586.7 147.3 586.6 145.9 584.0 147.1 C581.3 148.2 575.0 152.3 572.6 153.3 C570.3 154.3 570.6 153.6 569.8 153.1 C568.9 152.5 569.3 150.8 567.5 149.9 C565.7 149.0 561.8 149.0 559.0 147.6 C556.3 146.2 553.3 143.7 551.1 141.4 C548.9 139.1 546.9 135.9 546.0 134.0 C545.0 132.1 546.1 131.7 545.4 130.0 C544.7 128.4 543.3 127.7 542.0 124.4 C540.7 121.1 538.2 113.2 537.5 110.2 C536.7 107.2 536.9 107.9 537.5 106.3 Z" fill="#fff" stroke="#111" stroke-width="1.28" />
<path d="M553.3 90.4 C553.7 91.5 554.3 95.1 555.6 97.2 C556.9 99.3 559.2 101.7 561.3 102.9 C563.4 104.0 566.6 102.9 568.1 104.0 C569.6 105.1 569.4 107.4 570.4 109.7 C571.3 112.0 572.4 115.4 573.8 117.6 C575.1 119.9 577.3 121.4 578.3 123.3 C579.2 125.2 579.2 128.0 579.4 129.0" fill="none" stroke="#111" stroke-width="1.41" />
<path d="M557.9 89.3 C558.3 90.4 559.0 94.2 560.1 96.1 C561.3 98.0 563.0 99.7 564.7 100.6 C566.4 101.6 568.8 102.1 570.4 101.7 C571.9 101.4 573.2 98.9 573.8 98.3" fill="none" stroke="#111" stroke-width="1.15" />
<path d="M546.5 94.4 C547.3 94.1 549.9 92.0 551.1 92.7 C552.2 93.3 553.3 97.0 553.3 98.3 C553.3 99.7 551.5 100.2 551.1 100.6" fill="none" stroke="#111" stroke-width="1.15" />
<path d="M574.9 105.1 C575.5 103.8 577.7 103.8 579.4 104.0 C581.1 104.2 583.9 105.0 585.1 106.3 C586.3 107.6 587.0 110.1 586.8 112.0 C586.6 113.8 585.2 116.7 584.0 117.6 C582.7 118.6 580.7 118.6 579.4 117.6 C578.1 116.7 576.8 114.0 576.0 112.0 C575.3 109.9 574.3 106.5 574.9 105.1 Z" fill="none" stroke="#111" stroke-width="1.54" />
<path d="M578.3 107.4 L582.8 107.4 L584.0 113.1 L580.6 115.4" fill="none" stroke="#111" stroke-width="1.02" />
<path d="M576.0 121.5 C577.0 121.2 579.6 119.1 581.7 119.3 C583.8 119.5 586.8 121.4 588.5 122.7 C590.2 124.0 591.7 126.1 591.9 127.2 C592.1 128.3 590.9 129.3 589.6 129.5 C588.3 129.7 585.7 128.7 584.0 128.3 C582.3 128.0 580.2 127.4 579.4 127.2" fill="none" stroke="#111" stroke-width="1.28" />
<path d="M579.4 132.9 L584.0 129.5 L593.0 128.3 L596.4 132.9 L588.5 137.4 L584.0 137.4 Z" fill="none" stroke="#111" stroke-width="1.15" />
<path d="M579.4 138.5 L586.2 136.3 L594.2 139.7 L588.5 145.4 L582.8 143.1 Z" fill="none" stroke="#111" stroke-width="1.28" />
<path d="M570.9 149.9 L581.7 144.8 L585.1 146.5 L573.8 152.2 Z" fill="none" stroke="#111" stroke-width="1.28" />
<line x1="576.0204081632653" y1="147.61904761904762" x2="577.1541950113378" y2="150.45351473922904" stroke="#111" stroke-width="0.90" />
<line x1="579.421768707483" y1="145.91836734693877" x2="580.5555555555555" y2="148.9795918367347" stroke="#111" stroke-width="0.90" />
<path d="M578.3 137.4 C578.9 138.0 580.6 140.4 581.7 140.8 C582.8 141.2 584.9 140.4 585.1 139.7 C585.3 138.9 583.2 136.8 582.8 136.3" fill="none" stroke="#111" stroke-width="2.05" />
<path d="M578.3 126.3 C579.2 126.7 582.2 128.4 584.0 128.6 C585.8 128.8 588.2 127.6 589.1 127.4" fill="none" stroke="#111" stroke-width="1.92" />
<path d="M586.8 138.0 L589.1 142.9 L593.6 140.4" fill="none" stroke="#111" stroke-width="1.79" />
<path d="M544.7 102.6 L545.8 102.2 L547.0 101.9 L548.3 101.8 L549.7 101.9 L551.2 102.1 L552.6 102.5 L554.1 103.1 L555.7 103.8 L557.2 104.7 L558.6 105.7 L560.1 106.8 L561.5 108.0 L562.8 109.4 L564.0 110.8 L565.1 112.3 L566.1 113.8 L567.0 115.4 L567.8 117.0 L568.4 118.6 L568.9 120.2 L569.2 121.7 L569.3 123.2 L569.3 124.7 L569.2 126.0 L568.9 127.3 L568.4 128.4 L567.8 129.4 L567.0 130.3 L566.1 131.0 L565.1 131.6 L564.0 132.0 L562.8 132.3 L561.5 132.4 L560.1 132.3 L558.6 132.1 L557.2 131.7 L555.7 131.1 L554.1 130.4 L552.6 129.5 L551.2 128.5" fill="none" stroke="#111" stroke-width="1.28" />
<path d="M564.3 131.9 L563.2 132.3 L562.0 132.6 L560.7 132.7 L559.3 132.6 L557.8 132.4 L556.4 132.0 L554.9 131.4 L553.3 130.7 L551.8 129.8 L550.4 128.8 L548.9 127.7 L547.5 126.5 L546.2 125.1 L545.0 123.7 L543.9 122.2 L542.9 120.7 L542.0 119.1 L541.2 117.5 L540.6 115.9 L540.1 114.3 L539.8 112.8 L539.7 111.3 L539.7 109.8 L539.8 108.5 L540.1 107.2 L540.6 106.1 L541.2 105.1 L542.0 104.2 L542.9 103.5 L543.9 102.9 L545.0 102.5 L546.2 102.2 L547.5 102.1 L548.9 102.2 L550.4 102.4 L551.8 102.8 L553.3 103.4 L554.9 104.1 L556.4 105.0 L557.8 106.0 L559.3 107.1 L560.7 108.3 L562.0 109.7 L563.2 111.1 L564.3 112.6 L565.3 114.1 L566.2 115.7 L567.0 117.3 L567.6 118.9 L568.1 120.5 L568.4 122.0 L568.5 123.5 L568.5 125.0 L568.4 126.3 L568.1 127.6 L567.6 128.7 L567.0 129.7 L566.2 130.6 L565.3 131.3 L564.3 131.9 Z" fill="#fff" stroke="#111" stroke-width="0.90" />
<path d="M563.5 132.3 L562.4 132.7 L561.2 133.0 L559.9 133.1 L558.5 133.0 L557.0 132.8 L555.6 132.4 L554.1 131.8 L552.5 131.1 L551.0 130.2 L549.6 129.2 L548.1 128.1 L546.7 126.9 L545.4 125.5 L544.2 124.1 L543.1 122.6 L542.1 121.1 L541.2 119.5 L540.4 117.9 L539.8 116.3 L539.3 114.7 L539.0 113.2 L538.9 111.7 L538.9 110.2 L539.0 108.9 L539.3 107.6 L539.8 106.5 L540.4 105.5 L541.2 104.6 L542.1 103.9 L543.1 103.3 L544.2 102.9 L545.4 102.6 L546.7 102.5 L548.1 102.6 L549.6 102.8 L551.0 103.2 L552.5 103.8 L554.1 104.5 L555.6 105.4 L557.0 106.4 L558.5 107.5 L559.9 108.7 L561.2 110.1 L562.4 111.5 L563.5 113.0 L564.5 114.5 L565.4 116.1 L566.2 117.7 L566.8 119.3 L567.3 120.9 L567.6 122.4 L567.7 123.9 L567.7 125.4 L567.6 126.7 L567.3 128.0 L566.8 129.1 L566.2 130.1 L565.4 131.0 L564.5 131.7 L563.5 132.3 Z" fill="#fff" stroke="#111" stroke-width="1.28" />
<path d="M555.4 106.2 L556.7 107.1 L558.1 108.1 L559.3 109.2 L560.6 110.3 L561.7 111.6 L562.8 112.9 L563.7 114.3 L564.6 115.8 L565.3 117.2 L565.9 118.7 L566.4 120.1 L566.7 121.5 L566.9 122.9 L566.9 124.2 L566.8 125.5 L566.6 126.7 L566.2 127.7 L565.7 128.7 L565.1 129.5 L564.3 130.2 L563.4 130.8 L562.4 131.3 L561.3 131.5 L560.2 131.7 L558.9 131.7 L557.6 131.5 L556.3 131.2 L554.9 130.7" fill="none" stroke="#111" stroke-width="1.92" />
<path d="M560.7 129.8 L559.8 130.1 L558.8 130.3 L557.7 130.4 L556.6 130.3 L555.5 130.2 L554.3 129.8 L553.1 129.4 L551.9 128.8 L550.7 128.1 L549.5 127.3 L548.4 126.4 L547.3 125.4 L546.2 124.4 L545.2 123.2 L544.4 122.1 L543.5 120.8 L542.8 119.6 L542.2 118.3 L541.7 117.0 L541.4 115.8 L541.1 114.5 L541.0 113.3 L541.0 112.2 L541.1 111.1 L541.4 110.1 L541.7 109.2 L542.2 108.4 L542.8 107.7 L543.5 107.1 L544.3 106.6 L545.2 106.3 L546.2 106.1 L547.3 106.0 L548.4 106.1 L549.5 106.2 L550.7 106.6 L551.9 107.0 L553.1 107.6 L554.3 108.3 L555.5 109.1 L556.6 110.0 L557.7 111.0 L558.8 112.0 L559.8 113.2 L560.6 114.3 L561.5 115.6 L562.2 116.8 L562.8 118.1 L563.3 119.4 L563.6 120.6 L563.9 121.9 L564.0 123.1 L564.0 124.2 L563.9 125.3 L563.6 126.3 L563.3 127.2 L562.8 128.0 L562.2 128.7 L561.5 129.3 L560.7 129.8 Z" fill="none" stroke="#111" stroke-width="1.02" />
<path d="M558.8 129.7 L554.9 125.8 L555.0 129.5" fill="#777" stroke="#111" stroke-width="1.02" />
<path d="M550.6 127.5 L549.7 123.7 L546.7 124.2" fill="none" stroke="#111" stroke-width="1.02" />
<path d="M543.5 119.9 L545.7 118.7 L541.8 115.5" fill="#777" stroke="#111" stroke-width="1.02" />
<path d="M541.7 111.3 L545.3 113.5 L543.2 108.3" fill="none" stroke="#111" stroke-width="1.02" />
<path d="M546.2 106.7 L548.7 111.4 L550.0 106.9" fill="#777" stroke="#111" stroke-width="1.02" />
<path d="M554.4 108.9 L553.9 113.5 L558.3 112.2" fill="none" stroke="#111" stroke-width="1.02" />
<path d="M561.5 116.5 L557.9 118.5 L563.2 120.9" fill="#777" stroke="#111" stroke-width="1.02" />
<path d="M563.3 125.1 L558.3 123.7 L561.8 128.1" fill="none" stroke="#111" stroke-width="1.02" />
<path d="M552.1 126.6 L551.6 126.7 L551.1 126.9 L550.5 126.9 L549.9 126.9 L549.3 126.8 L548.7 126.6 L548.0 126.3 L547.4 126.0 L546.7 125.7 L546.1 125.2 L545.5 124.8 L544.9 124.2 L544.3 123.6 L543.8 123.0 L543.3 122.4 L542.9 121.7 L542.5 121.0 L542.1 120.3 L541.9 119.7 L541.7 119.0 L541.5 118.3 L541.5 117.7 L541.5 117.0 L541.5 116.5 L541.7 115.9 L541.9 115.4 L542.1 115.0 L542.5 114.6 L542.9 114.3 L543.3 114.0 L547.1 112.2 L547.6 112.1 L548.1 111.9 L548.7 111.9 L549.3 111.9 L549.9 112.0 L550.5 112.2 L551.2 112.5 L551.8 112.8 L552.5 113.1 L553.1 113.6 L553.7 114.1 L554.3 114.6 L554.9 115.2 L555.4 115.8 L555.9 116.4 L556.3 117.1 L556.7 117.8 L557.1 118.5 L557.3 119.1 L557.5 119.8 L557.7 120.5 L557.7 121.1 L557.7 121.8 L557.7 122.3 L557.5 122.9 L557.3 123.4 L557.1 123.8 L556.7 124.2 L556.3 124.5 L555.9 124.8 Z" fill="#fff" stroke="#111" stroke-width="1.28" />
<path d="M552.1 126.6 L551.6 126.7 L551.1 126.9 L550.5 126.9 L549.9 126.9 L549.3 126.8 L548.7 126.6 L548.0 126.3 L547.4 126.0 L546.7 125.7 L546.1 125.2 L545.5 124.8 L544.9 124.2 L544.3 123.6 L543.8 123.0 L543.3 122.4 L542.9 121.7 L542.5 121.0 L542.1 120.3 L541.9 119.7 L541.7 119.0 L541.5 118.3 L541.5 117.7 L541.5 117.0 L541.5 116.5 L541.7 115.9 L541.9 115.4 L542.1 115.0 L542.5 114.6 L542.9 114.3 L543.3 114.0 L543.8 113.9 L544.3 113.7 L544.9 113.7 L545.5 113.7 L546.1 113.8 L546.7 114.0 L547.4 114.3 L548.0 114.6 L548.7 114.9 L549.3 115.4 L549.9 115.8 L550.5 116.4 L551.1 117.0 L551.6 117.6 L552.1 118.2 L552.5 118.9 L552.9 119.6 L553.3 120.3 L553.5 120.9 L553.7 121.6 L553.9 122.3 L553.9 122.9 L553.9 123.6 L553.9 124.1 L553.7 124.7 L553.5 125.2 L553.3 125.6 L552.9 126.0 L552.5 126.3 L552.1 126.6 Z" fill="#fff" stroke="#111" stroke-width="1.28" />
<path d="M550.6 124.5 L550.3 124.6 L550.0 124.7 L549.6 124.7 L549.2 124.7 L548.8 124.6 L548.4 124.5 L547.9 124.3 L547.5 124.1 L547.1 123.9 L546.6 123.6 L546.2 123.3 L545.8 122.9 L545.4 122.5 L545.1 122.1 L544.8 121.7 L544.5 121.2 L544.2 120.8 L544.0 120.3 L543.8 119.9 L543.7 119.4 L543.6 119.0 L543.5 118.5 L543.5 118.1 L543.6 117.7 L543.7 117.4 L543.8 117.1 L544.0 116.8 L544.2 116.5 L544.5 116.3 L544.8 116.1 L545.1 116.0 L545.4 115.9 L545.8 115.9 L546.2 115.9 L546.6 116.0 L547.0 116.1 L547.5 116.3 L547.9 116.5 L548.3 116.7 L548.8 117.0 L549.2 117.3 L549.6 117.7 L550.0 118.1 L550.3 118.5 L550.6 118.9 L550.9 119.4 L551.2 119.8 L551.4 120.3 L551.6 120.7 L551.7 121.2 L551.8 121.6 L551.9 122.1 L551.9 122.5 L551.8 122.9 L551.7 123.2 L551.6 123.5 L551.4 123.8 L551.2 124.1 L550.9 124.3 L550.6 124.5 Z" fill="none" stroke="#111" stroke-width="1.15" />
<path d="M543.7 119.9 L549.4 121.6" fill="none" stroke="#111" stroke-width="1.28" />
<path d="M544.8 118.2 L548.2 123.3" fill="none" stroke="#111" stroke-width="1.02" />
<line x1="534" y1="126.8" x2="546" y2="121" stroke="#333" stroke-width="0.90" />
<line x1="585.0907029478458" y1="111.25714285714287" x2="634.0136054421769" y2="121.74467120181407" stroke="#111" stroke-width="0.90" />
<line x1="585.0907029478458" y1="112.95714285714286" x2="634.0136054421769" y2="123.44467120181406" stroke="#111" stroke-width="0.58" />
<line x1="585.0907029478458" y1="114.55714285714286" x2="634.0136054421769" y2="125.04467120181407" stroke="#111" stroke-width="0.90" />
<line x1="582.8231292517007" y1="111.9501133786848" x2="586.7913832199547" y2="113.08390022675736" stroke="#222" stroke-width="2.56" />
<line x1="611.3378684807257" y1="114.34195011337867" x2="611.8378684807257" y2="119.14195011337867" stroke="#111" stroke-width="1.28" />
<line x1="620.9750566893424" y1="116.75124716553287" x2="621.4750566893424" y2="121.55124716553287" stroke="#111" stroke-width="1.28" />
<path d="M632.9 124.7 L637.4 121.6 L645.4 118.2 L652.2 119.4 L659.0 122.8 L659.2 132.4 L657.3 134.9 L648.2 137.9 L639.1 134.1 L634.0 131.8 Z" fill="#fff" stroke="#111" stroke-width="1.28" />
<path d="M632.9 124.7 L636.8 123.0 L637.8 133.0 L634.0 131.8 Z" fill="#555" stroke="#111" stroke-width="1.02" />
<path d="M645.4 122.8 L658.4 123.3 L657.6 134.7 L648.2 137.5 Z" fill="#fff" stroke="#111" stroke-width="1.54" />
<line x1="648.1859410430839" y1="124.25170068027211" x2="648.5260770975057" y2="135.24943310657596" stroke="#222" stroke-width="2.18" />
<line x1="651.0204081632653" y1="124.25170068027211" x2="651.3605442176871" y2="135.24943310657596" stroke="#222" stroke-width="2.18" />
<line x1="653.8548752834467" y1="124.25170068027211" x2="654.1950113378684" y2="135.24943310657596" stroke="#222" stroke-width="2.18" />
<line x1="656.3492063492064" y1="124.25170068027211" x2="656.6893424036281" y2="135.24943310657596" stroke="#222" stroke-width="2.18" />
<path d="M637.4 122.0 L645.4 122.8" fill="none" stroke="#111" stroke-width="1.02" />
<path d="M639.1 134.1 L638.5 123.3" fill="none" stroke="#111" stroke-width="0.90" />
<path d="M659.0 122.0 C659.7 120.9 662.0 121.2 663.5 121.3 C665.0 121.4 666.6 121.9 668.0 122.4 C669.4 123.0 671.4 123.7 672.0 124.7 C672.6 125.7 672.1 127.3 671.4 128.4 C670.8 129.6 669.1 131.0 668.0 131.8 C666.9 132.7 666.1 133.9 664.9 133.8 C663.6 133.6 661.6 132.0 660.7 131.1 C659.7 130.1 659.2 129.4 659.0 127.9 C658.7 126.4 658.2 123.1 659.0 122.0 Z" fill="#fff" stroke="#111" stroke-width="2.43" />
<path d="M663.5 124.7 C664.2 123.9 665.9 124.0 666.9 124.3 C667.9 124.5 669.2 125.4 669.4 126.2 C669.6 127.0 668.7 128.2 668.0 129.0 C667.3 129.8 666.0 131.1 665.2 131.1 C664.3 131.1 663.2 130.1 662.9 129.0 C662.6 128.0 662.8 125.5 663.5 124.7 Z" fill="none" stroke="#111" stroke-width="1.66" />
<path d="M605.1 74.5 L605.0 74.5 L604.9 74.5 L604.8 74.5 L604.6 74.5 L604.5 74.5 L604.4 74.5 L604.2 74.4 L604.1 74.4 L604.0 74.3 L603.8 74.2 L603.7 74.1 L603.6 74.0 L603.5 73.8 L603.3 73.7 L603.2 73.6 L603.1 73.4 L603.1 73.3 L603.0 73.2 L602.9 73.0 L602.9 72.9 L602.9 72.7 L602.9 72.6 L602.9 72.4 L602.9 72.3 L602.9 72.2 L602.9 72.1 L603.0 72.0 L603.1 71.9 L603.1 71.9 L603.2 71.8 L608.0 68.6 L608.1 68.5 L608.3 68.5 L608.5 68.4 L608.7 68.5 L608.9 68.5 L609.1 68.5 L609.3 68.6 L609.6 68.7 L609.8 68.9 L610.0 69.0 L610.2 69.2 L610.4 69.3 L610.6 69.5 L610.8 69.7 L610.9 70.0 L611.1 70.2 L611.2 70.4 L611.3 70.6 L611.4 70.9 L611.5 71.1 L611.5 71.3 L611.5 71.5 L611.5 71.7 L611.5 71.9 L611.5 72.1 L611.4 72.3 L611.3 72.4 L611.2 72.5 L611.1 72.6 L610.9 72.7 Z" fill="#fff" stroke="#111" stroke-width="1.02" />
<path d="M605.1 74.5 L605.0 74.5 L604.9 74.5 L604.8 74.5 L604.6 74.5 L604.5 74.5 L604.4 74.5 L604.2 74.4 L604.1 74.4 L604.0 74.3 L603.8 74.2 L603.7 74.1 L603.6 74.0 L603.5 73.8 L603.3 73.7 L603.2 73.6 L603.1 73.4 L603.1 73.3 L603.0 73.2 L602.9 73.0 L602.9 72.9 L602.9 72.7 L602.9 72.6 L602.9 72.4 L602.9 72.3 L602.9 72.2 L602.9 72.1 L603.0 72.0 L603.1 71.9 L603.1 71.9 L603.2 71.8 L603.3 71.8 L603.5 71.7 L603.6 71.7 L603.7 71.7 L603.8 71.8 L604.0 71.8 L604.1 71.9 L604.2 71.9 L604.4 72.0 L604.5 72.1 L604.6 72.2 L604.8 72.3 L604.9 72.4 L605.0 72.6 L605.1 72.7 L605.2 72.8 L605.3 73.0 L605.4 73.1 L605.4 73.3 L605.4 73.4 L605.5 73.6 L605.5 73.7 L605.5 73.8 L605.5 74.0 L605.4 74.1 L605.4 74.2 L605.4 74.3 L605.3 74.3 L605.2 74.4 L605.1 74.5 Z" fill="#fff" stroke="#111" stroke-width="1.15" />
<path d="M611.4 73.5 L611.2 73.6 L611.0 73.6 L610.7 73.6 L610.5 73.6 L610.2 73.6 L609.9 73.5 L609.6 73.4 L609.3 73.3 L609.0 73.1 L608.7 72.9 L608.4 72.7 L608.2 72.4 L607.9 72.2 L607.7 71.9 L607.4 71.6 L607.2 71.3 L607.1 71.0 L606.9 70.7 L606.8 70.4 L606.7 70.0 L606.6 69.7 L606.6 69.4 L606.6 69.2 L606.6 68.9 L606.7 68.7 L606.8 68.4 L606.9 68.2 L607.1 68.1 L607.2 67.9 L607.4 67.8 L612.7 65.3 L612.9 65.2 L613.2 65.2 L613.4 65.2 L613.7 65.2 L614.0 65.2 L614.3 65.3 L614.6 65.4 L614.9 65.5 L615.2 65.7 L615.4 65.9 L615.7 66.1 L616.0 66.4 L616.3 66.6 L616.5 66.9 L616.7 67.2 L616.9 67.5 L617.1 67.8 L617.2 68.1 L617.4 68.4 L617.5 68.8 L617.5 69.1 L617.5 69.4 L617.5 69.6 L617.5 69.9 L617.5 70.1 L617.4 70.4 L617.2 70.6 L617.1 70.7 L616.9 70.9 L616.7 71.0 Z" fill="#fff" stroke="#111" stroke-width="1.02" />
<path d="M612.2 72.6 L612.1 72.9 L612.0 73.1 L611.8 73.2 L611.6 73.4 L611.4 73.5 L611.2 73.6 L611.0 73.6 L610.7 73.6 L610.4 73.6 L610.2 73.6 L609.9 73.5 L609.6 73.4 L609.3 73.2 L609.0 73.1 L608.7 72.9 L608.4 72.6 L608.1 72.4 L607.9 72.1 L607.6 71.8 L607.4 71.5 L607.2 71.2 L607.0 70.9 L606.9 70.6 L606.8 70.3 L606.7 70.0 L606.6 69.7 L606.6 69.4 L606.6 69.1 L606.7 68.8 L606.7 68.6 L606.8 68.4 L607.0 68.2 L607.1 68.0 L607.3 67.9 L607.5 67.8 L607.7 67.7 L608.0 67.7 L608.2 67.6" fill="none" stroke="#444" stroke-width="0.90" />
<path d="M611.8 65.8 L612.0 65.8 L612.3 65.8 L612.6 65.8 L612.9 65.9 L613.2 66.0 L613.5 66.1 L613.8 66.3 L614.1 66.5 L614.4 66.7 L614.7 67.0 L614.9 67.2 L615.2 67.5 L615.4 67.8 L615.6 68.1 L615.8 68.4 L616.0 68.8 L616.1 69.1 L616.2 69.4 L616.2 69.7 L616.2 70.0 L616.2 70.3 L616.2 70.6 L616.1 70.8 L616.0 71.0 L615.9 71.2 L615.7 71.4" fill="none" stroke="#333" stroke-width="1.02" />
<path d="M614.7 88.6 L614.6 88.7 L614.5 88.7 L614.4 88.7 L614.3 88.7 L614.2 88.7 L614.0 88.6 L613.9 88.6 L613.7 88.5 L613.6 88.5 L613.5 88.4 L613.3 88.3 L613.2 88.1 L613.1 88.0 L613.0 87.9 L612.9 87.8 L612.8 87.6 L612.7 87.5 L612.6 87.3 L612.6 87.2 L612.5 87.0 L612.5 86.9 L612.5 86.8 L612.5 86.6 L612.5 86.5 L612.5 86.4 L612.6 86.3 L612.6 86.2 L612.7 86.1 L612.8 86.0 L612.9 86.0 L617.9 82.6 L618.1 82.5 L618.2 82.5 L618.4 82.5 L618.6 82.5 L618.8 82.5 L619.0 82.6 L619.3 82.7 L619.5 82.8 L619.7 82.9 L619.9 83.0 L620.1 83.2 L620.3 83.4 L620.5 83.6 L620.7 83.8 L620.8 84.0 L621.0 84.2 L621.1 84.4 L621.2 84.7 L621.3 84.9 L621.4 85.1 L621.4 85.3 L621.4 85.6 L621.4 85.8 L621.4 86.0 L621.4 86.1 L621.3 86.3 L621.2 86.5 L621.1 86.6 L621.0 86.7 L620.8 86.8 Z" fill="#fff" stroke="#111" stroke-width="1.02" />
<path d="M614.7 88.6 L614.6 88.7 L614.5 88.7 L614.4 88.7 L614.3 88.7 L614.2 88.7 L614.0 88.6 L613.9 88.6 L613.7 88.5 L613.6 88.5 L613.5 88.4 L613.3 88.3 L613.2 88.1 L613.1 88.0 L613.0 87.9 L612.9 87.8 L612.8 87.6 L612.7 87.5 L612.6 87.3 L612.6 87.2 L612.5 87.0 L612.5 86.9 L612.5 86.8 L612.5 86.6 L612.5 86.5 L612.5 86.4 L612.6 86.3 L612.6 86.2 L612.7 86.1 L612.8 86.0 L612.9 86.0 L613.0 85.9 L613.1 85.9 L613.2 85.9 L613.3 85.9 L613.5 85.9 L613.6 86.0 L613.7 86.0 L613.9 86.1 L614.0 86.2 L614.2 86.3 L614.3 86.4 L614.4 86.5 L614.5 86.6 L614.6 86.7 L614.7 86.9 L614.8 87.0 L614.9 87.2 L615.0 87.3 L615.0 87.4 L615.1 87.6 L615.1 87.7 L615.1 87.9 L615.1 88.0 L615.1 88.1 L615.1 88.2 L615.0 88.3 L615.0 88.4 L614.9 88.5 L614.8 88.6 L614.7 88.6 Z" fill="#fff" stroke="#111" stroke-width="1.15" />
<path d="M621.4 87.5 L621.1 87.6 L620.9 87.7 L620.7 87.7 L620.4 87.7 L620.1 87.6 L619.8 87.5 L619.5 87.4 L619.2 87.3 L618.9 87.1 L618.6 86.9 L618.4 86.7 L618.1 86.5 L617.8 86.2 L617.6 85.9 L617.4 85.6 L617.2 85.3 L617.0 85.0 L616.8 84.7 L616.7 84.4 L616.6 84.1 L616.6 83.8 L616.5 83.5 L616.5 83.2 L616.6 82.9 L616.6 82.7 L616.7 82.5 L616.8 82.3 L617.0 82.1 L617.2 82.0 L617.4 81.8 L622.9 79.2 L623.1 79.1 L623.4 79.1 L623.6 79.1 L623.9 79.1 L624.2 79.1 L624.5 79.2 L624.8 79.3 L625.1 79.4 L625.4 79.6 L625.7 79.8 L625.9 80.0 L626.2 80.3 L626.5 80.5 L626.7 80.8 L626.9 81.1 L627.1 81.4 L627.3 81.7 L627.4 82.0 L627.6 82.3 L627.7 82.7 L627.7 83.0 L627.8 83.3 L627.8 83.5 L627.7 83.8 L627.7 84.0 L627.6 84.3 L627.4 84.5 L627.3 84.6 L627.1 84.8 L626.9 84.9 Z" fill="#fff" stroke="#111" stroke-width="1.02" />
<path d="M622.1 86.7 L622.0 86.9 L621.9 87.1 L621.7 87.3 L621.6 87.4 L621.4 87.5 L621.1 87.6 L620.9 87.7 L620.6 87.7 L620.4 87.7 L620.1 87.6 L619.8 87.5 L619.5 87.4 L619.2 87.3 L618.9 87.1 L618.6 86.9 L618.3 86.7 L618.0 86.4 L617.8 86.2 L617.5 85.9 L617.3 85.6 L617.1 85.3 L617.0 85.0 L616.8 84.6 L616.7 84.3 L616.6 84.0 L616.6 83.7 L616.5 83.4 L616.5 83.1 L616.6 82.9 L616.6 82.6 L616.7 82.4 L616.9 82.2 L617.0 82.1 L617.2 81.9 L617.4 81.8 L617.7 81.7 L617.9 81.7 L618.2 81.7" fill="none" stroke="#444" stroke-width="0.90" />
<path d="M622.0 79.7 L622.3 79.7 L622.5 79.7 L622.8 79.7 L623.1 79.8 L623.4 79.9 L623.7 80.0 L624.0 80.2 L624.3 80.4 L624.6 80.6 L624.9 80.9 L625.2 81.1 L625.4 81.4 L625.6 81.7 L625.8 82.0 L626.0 82.4 L626.2 82.7 L626.3 83.0 L626.4 83.3 L626.4 83.6 L626.5 83.9 L626.4 84.2 L626.4 84.5 L626.3 84.7 L626.2 84.9 L626.1 85.1 L625.9 85.3" fill="none" stroke="#333" stroke-width="1.02" />
<path d="M645.4 111.9 L645.3 111.9 L645.1 111.9 L645.0 112.0 L644.9 111.9 L644.8 111.9 L644.6 111.9 L644.5 111.8 L644.4 111.8 L644.2 111.7 L644.1 111.6 L643.9 111.5 L643.8 111.4 L643.7 111.3 L643.6 111.1 L643.5 111.0 L643.4 110.9 L643.3 110.7 L643.2 110.6 L643.2 110.4 L643.1 110.3 L643.1 110.1 L643.1 110.0 L643.1 109.9 L643.1 109.7 L643.1 109.6 L643.2 109.5 L643.2 109.4 L643.3 109.3 L643.4 109.3 L643.5 109.2 L648.3 105.9 L648.5 105.9 L648.7 105.8 L648.9 105.8 L649.1 105.8 L649.3 105.9 L649.5 105.9 L649.7 106.0 L649.9 106.1 L650.1 106.2 L650.3 106.4 L650.6 106.5 L650.8 106.7 L650.9 106.9 L651.1 107.1 L651.3 107.3 L651.4 107.5 L651.5 107.8 L651.7 108.0 L651.7 108.2 L651.8 108.4 L651.9 108.7 L651.9 108.9 L651.9 109.1 L651.9 109.3 L651.8 109.5 L651.7 109.6 L651.7 109.8 L651.6 109.9 L651.4 110.0 L651.3 110.1 Z" fill="#fff" stroke="#111" stroke-width="1.02" />
<path d="M645.4 111.9 L645.3 111.9 L645.1 111.9 L645.0 112.0 L644.9 111.9 L644.8 111.9 L644.6 111.9 L644.5 111.8 L644.4 111.8 L644.2 111.7 L644.1 111.6 L643.9 111.5 L643.8 111.4 L643.7 111.3 L643.6 111.1 L643.5 111.0 L643.4 110.9 L643.3 110.7 L643.2 110.6 L643.2 110.4 L643.1 110.3 L643.1 110.1 L643.1 110.0 L643.1 109.9 L643.1 109.7 L643.1 109.6 L643.2 109.5 L643.2 109.4 L643.3 109.3 L643.4 109.3 L643.5 109.2 L643.6 109.2 L643.7 109.2 L643.8 109.2 L643.9 109.2 L644.1 109.2 L644.2 109.2 L644.4 109.3 L644.5 109.3 L644.6 109.4 L644.8 109.5 L644.9 109.6 L645.0 109.7 L645.1 109.8 L645.3 110.0 L645.4 110.1 L645.4 110.3 L645.5 110.4 L645.6 110.5 L645.7 110.7 L645.7 110.8 L645.7 111.0 L645.7 111.1 L645.7 111.2 L645.7 111.4 L645.7 111.5 L645.7 111.6 L645.6 111.7 L645.5 111.8 L645.4 111.8 L645.4 111.9 Z" fill="#fff" stroke="#111" stroke-width="1.15" />
<path d="M651.8 110.9 L651.6 110.9 L651.4 111.0 L651.1 111.0 L650.8 111.0 L650.5 110.9 L650.3 110.9 L650.0 110.8 L649.7 110.6 L649.4 110.4 L649.1 110.3 L648.8 110.0 L648.5 109.8 L648.3 109.5 L648.0 109.2 L647.8 109.0 L647.6 108.7 L647.4 108.3 L647.3 108.0 L647.2 107.7 L647.1 107.4 L647.0 107.1 L647.0 106.8 L647.0 106.5 L647.0 106.3 L647.1 106.0 L647.2 105.8 L647.3 105.6 L647.4 105.4 L647.6 105.3 L647.8 105.2 L653.2 102.6 L653.4 102.5 L653.6 102.5 L653.9 102.5 L654.2 102.5 L654.5 102.5 L654.7 102.6 L655.0 102.7 L655.3 102.9 L655.6 103.0 L655.9 103.2 L656.2 103.4 L656.5 103.7 L656.7 103.9 L657.0 104.2 L657.2 104.5 L657.4 104.8 L657.6 105.1 L657.7 105.4 L657.8 105.8 L657.9 106.1 L658.0 106.4 L658.0 106.7 L658.0 106.9 L658.0 107.2 L657.9 107.5 L657.8 107.7 L657.7 107.9 L657.6 108.0 L657.4 108.2 L657.2 108.3 Z" fill="#fff" stroke="#111" stroke-width="1.02" />
<path d="M652.5 110.0 L652.5 110.2 L652.3 110.4 L652.2 110.6 L652.0 110.7 L651.8 110.9 L651.6 110.9 L651.3 111.0 L651.1 111.0 L650.8 111.0 L650.5 110.9 L650.2 110.9 L649.9 110.7 L649.6 110.6 L649.3 110.4 L649.0 110.2 L648.8 110.0 L648.5 109.8 L648.2 109.5 L648.0 109.2 L647.8 108.9 L647.6 108.6 L647.4 108.3 L647.3 108.0 L647.1 107.7 L647.1 107.3 L647.0 107.0 L647.0 106.7 L647.0 106.5 L647.0 106.2 L647.1 106.0 L647.2 105.7 L647.3 105.5 L647.5 105.4 L647.7 105.2 L647.9 105.1 L648.1 105.1 L648.3 105.0 L648.6 105.0" fill="none" stroke="#444" stroke-width="0.90" />
<path d="M652.3 103.1 L652.5 103.1 L652.8 103.1 L653.1 103.1 L653.4 103.2 L653.7 103.3 L654.0 103.4 L654.3 103.6 L654.6 103.8 L654.9 104.0 L655.2 104.3 L655.4 104.5 L655.7 104.8 L655.9 105.1 L656.1 105.4 L656.3 105.8 L656.4 106.1 L656.5 106.4 L656.6 106.7 L656.7 107.0 L656.7 107.3 L656.7 107.6 L656.7 107.9 L656.6 108.1 L656.5 108.3 L656.4 108.5 L656.2 108.7" fill="none" stroke="#333" stroke-width="1.02" />
<line x1="468.6" y1="28" x2="468.6" y2="37.2" stroke="#333" stroke-width="0.90" />
<ellipse cx="468.6" cy="26" rx="2.6" ry="2.7" fill="#fff" stroke="#111" stroke-width="1.15" stroke-linecap="butt" />
<path d="M466.20000000000005 25.2 Q468.6 22.6 471.0 25.2 Q468.6 26.6 466.20000000000005 25.2" fill="#333" stroke="#111" stroke-width="0.77" />
<rect x="467.1" y="37.2" width="3" height="26.299999999999997" fill="#999" stroke="#333" stroke-width="0.7"/>
<rect x="468.1" y="39.2" width="1" height="2" fill="#fff"/>
<rect x="468.1" y="44.275000000000006" width="1" height="2" fill="#fff"/>
<rect x="468.1" y="49.35" width="1" height="2" fill="#fff"/>
<rect x="468.1" y="54.425" width="1" height="2" fill="#fff"/>
<rect x="468.1" y="59.5" width="1" height="2" fill="#fff"/>
<line x1="482.9" y1="36" x2="482.9" y2="45" stroke="#333" stroke-width="0.90" />
<ellipse cx="482.9" cy="34.1" rx="2.6" ry="2.7" fill="#fff" stroke="#111" stroke-width="1.15" stroke-linecap="butt" />
<path d="M480.5 33.300000000000004 Q482.9 30.700000000000003 485.29999999999995 33.300000000000004 Q482.9 34.7 480.5 33.300000000000004" fill="#333" stroke="#111" stroke-width="0.77" />
<rect x="481.4" y="45" width="3" height="26.299999999999997" fill="#999" stroke="#333" stroke-width="0.7"/>
<rect x="482.4" y="47.0" width="1" height="2" fill="#fff"/>
<rect x="482.4" y="52.075" width="1" height="2" fill="#fff"/>
<rect x="482.4" y="57.15" width="1" height="2" fill="#fff"/>
<rect x="482.4" y="62.224999999999994" width="1" height="2" fill="#fff"/>
<rect x="482.4" y="67.3" width="1" height="2" fill="#fff"/>
<line x1="468.6" y1="63.5" x2="468.6" y2="69" stroke="#333" stroke-width="0.90" />
<path d="M468.6 69 L453.5 75.6" fill="none" stroke="#333" stroke-width="0.90" stroke-dasharray="3 2 1 2 1 2 20 0"/>
<line x1="453.5" y1="75.6" x2="430.8" y2="65" stroke="#333" stroke-width="0.90" />
<circle cx="424.4" cy="62.3" r="0.45" fill="#333"/>
<circle cx="418" cy="59.4" r="0.45" fill="#333"/>
<line x1="410.8" y1="56.3" x2="388" y2="45.3" stroke="#333" stroke-width="0.90" />
<path d="M388 45.3 L366.3 54.6" fill="none" stroke="#333" stroke-width="0.90" stroke-dasharray="7 2.5 1 2.5 1 2.5 30 0"/>
<path d="M366.3 54.6 L366.3 63" fill="none" stroke="#333" stroke-width="0.90" stroke-dasharray="3 1.5 1 1.5"/>
<line x1="482.9" y1="71.3" x2="482.9" y2="75.6" stroke="#333" stroke-width="0.90" />
<path d="M482.9 75.6 L461.6 85.2" fill="none" stroke="#333" stroke-width="0.90" stroke-dasharray="6 2 1 2 1 2 30 0"/>
<line x1="461.6" y1="85.2" x2="434.4" y2="73.6" stroke="#333" stroke-width="0.90" />
<circle cx="429" cy="70.9" r="0.45" fill="#333"/>
<circle cx="421.7" cy="67.6" r="0.45" fill="#333"/>
<line x1="415.4" y1="64.5" x2="388.4" y2="51.4" stroke="#333" stroke-width="0.90" />
<line x1="388.4" y1="51.4" x2="381" y2="54.6" stroke="#333" stroke-width="0.90" />
<line x1="406.3" y1="81.7" x2="437" y2="95.2" stroke="#333" stroke-width="0.90" />
<circle cx="443" cy="97.8" r="0.45" fill="#333"/>
<circle cx="449" cy="100.4" r="0.45" fill="#333"/>
<line x1="455" y1="103" x2="483.4" y2="115.4" stroke="#333" stroke-width="0.90" />
<path d="M483.4 115.4 L425.7 142.4" fill="none" stroke="#333" stroke-width="0.90" stroke-dasharray="16 3 1.2 3 1.2 3 14 0 40 0"/>
<line x1="425.7" y1="142.4" x2="465.2" y2="161.3" stroke="#333" stroke-width="0.90" />
<line x1="406.3" y1="81.7" x2="399" y2="85" stroke="#333" stroke-width="0.90" />
<line x1="249.7278911564626" y1="70.38548752834467" x2="266.1678004535147" y2="70.83900226757369" stroke="#333" stroke-width="0.90" />
<line x1="274" y1="71.7" x2="288" y2="72.6" stroke="#333" stroke-width="0.90" />
<path d="M288 72.6 L288 92.6" fill="none" stroke="#333" stroke-width="0.90" stroke-dasharray="5 1.5 1 1.5 1 1.5 20 0"/>
<line x1="288" y1="92.6" x2="302.5" y2="93.5" stroke="#333" stroke-width="0.90" />
<path d="M236.7 66.6 L240.1 67.8 L249.4 67.8 L249.7 73.1 L240.1 73.1 L236.7 74.0 Z" fill="#fff" stroke="#111" stroke-width="1.02" />
<line x1="241.79138321995464" y1="67.89115646258503" x2="241.79138321995464" y2="72.99319727891157" stroke="#111" stroke-width="0.90" />
<line x1="244.05895691609976" y1="67.89115646258503" x2="244.05895691609976" y2="72.99319727891157" stroke="#111" stroke-width="0.90" />
<line x1="246.89342403628117" y1="67.89115646258503" x2="246.89342403628117" y2="72.99319727891157" stroke="#111" stroke-width="0.90" />
<ellipse cx="234.42176870748298" cy="68.57142857142857" rx="2.9" ry="8.843537414965986" fill="#222" stroke="#111" stroke-width="1.02" stroke-linecap="butt" />
<ellipse cx="232.52176870748298" cy="68.37142857142857" rx="3.0" ry="8.443537414965986" fill="#fff" stroke="#444" stroke-width="0.51" stroke-linecap="butt" />
<ellipse cx="229.31972789115645" cy="68.45804988662131" rx="2.9" ry="8.616780045351474" fill="#222" stroke="#111" stroke-width="1.02" stroke-linecap="butt" />
<ellipse cx="227.41972789115644" cy="68.25804988662131" rx="3.0" ry="8.216780045351474" fill="#fff" stroke="#444" stroke-width="0.51" stroke-linecap="butt" />
<ellipse cx="224.21768707482994" cy="68.2312925170068" rx="2.9" ry="8.390022675736962" fill="#222" stroke="#111" stroke-width="1.02" stroke-linecap="butt" />
<ellipse cx="222.31768707482993" cy="68.0312925170068" rx="3.0" ry="7.990022675736961" fill="#fff" stroke="#444" stroke-width="0.51" stroke-linecap="butt" />
<ellipse cx="219.1156462585034" cy="68.00453514739229" rx="2.9" ry="8.276643990929704" fill="#222" stroke="#111" stroke-width="1.02" stroke-linecap="butt" />
<ellipse cx="217.2156462585034" cy="67.80453514739229" rx="3.0" ry="7.876643990929704" fill="#fff" stroke="#444" stroke-width="0.51" stroke-linecap="butt" />
<ellipse cx="214.01360544217687" cy="67.77777777777777" rx="2.9" ry="8.049886621315192" fill="#222" stroke="#111" stroke-width="1.02" stroke-linecap="butt" />
<ellipse cx="212.11360544217686" cy="67.57777777777777" rx="3.0" ry="7.649886621315192" fill="#fff" stroke="#444" stroke-width="0.51" stroke-linecap="butt" />
<ellipse cx="208.34467120181407" cy="67.55102040816327" rx="2.9" ry="7.936507936507936" fill="#222" stroke="#111" stroke-width="1.02" stroke-linecap="butt" />
<ellipse cx="206.44467120181406" cy="67.35102040816327" rx="3.0" ry="7.5365079365079355" fill="#fff" stroke="#444" stroke-width="0.51" stroke-linecap="butt" />
<ellipse cx="203.24263038548753" cy="67.32426303854875" rx="2.9" ry="7.709750566893423" fill="#222" stroke="#111" stroke-width="1.02" stroke-linecap="butt" />
<ellipse cx="201.34263038548752" cy="67.12426303854875" rx="3.0" ry="7.309750566893423" fill="#fff" stroke="#444" stroke-width="0.51" stroke-linecap="butt" />
<ellipse cx="198.140589569161" cy="67.09750566893425" rx="2.9" ry="7.596371882086167" fill="#222" stroke="#111" stroke-width="1.02" stroke-linecap="butt" />
<ellipse cx="196.240589569161" cy="66.89750566893424" rx="3.0" ry="7.196371882086167" fill="#fff" stroke="#444" stroke-width="0.51" stroke-linecap="butt" />
<ellipse cx="193.37868480725623" cy="66.87074829931973" rx="2.9" ry="7.256235827664399" fill="#222" stroke="#111" stroke-width="1.02" stroke-linecap="butt" />
<ellipse cx="191.47868480725623" cy="66.67074829931973" rx="3.0" ry="6.856235827664398" fill="#fff" stroke="#444" stroke-width="0.51" stroke-linecap="butt" />
<ellipse cx="190.04353741496598" cy="66.30385487528345" rx="3.6" ry="6.2" fill="#fff" stroke="#111" stroke-width="1.15" stroke-linecap="butt" />
<ellipse cx="188.843537414966" cy="66.30385487528345" rx="3.3" ry="5.8" fill="#fff" stroke="#111" stroke-width="1.15" stroke-linecap="butt" />
<ellipse cx="188.54353741496598" cy="66.30385487528345" rx="2.2" ry="4.4" fill="none" stroke="#555" stroke-width="0.77" stroke-linecap="butt" />
<path d="M265.6 68.9 L269.6 68.1 L273.5 69.7 L273.2 72.9 L269.6 74.2 L265.8 73.1 Z" fill="#fff" stroke="#111" stroke-width="1.15" />
<path d="M266.2 65.5 L270.7 65.5 L273.0 67.8 L272.1 69.7 L268.4 68.9 Z" fill="#333" stroke="#111" stroke-width="1.02" />
<ellipse cx="268.20861678004536" cy="71.29251700680271" rx="1.6" ry="2.2" fill="none" stroke="#111" stroke-width="1.02" stroke-linecap="butt" />
<path d="M361.8 296.2 L392 282" fill="none" stroke="#333" stroke-width="0.90" stroke-dasharray="1.2 2.5 12 2.5"/>
<path d="M401 277.6 L437 260.6" fill="none" stroke="#333" stroke-width="0.90" stroke-dasharray="8 2.5 1.2 2.5"/>
<path d="M452 253.8 L469 246.2" fill="none" stroke="#333" stroke-width="0.90" stroke-dasharray="9 2.5 1.2 2.5"/>
<path d="M372.3 281.7 C372.6 281.0 374.1 279.9 376.3 279.3 C378.5 278.7 382.5 278.6 385.4 278.1 C388.3 277.6 391.3 276.3 393.6 276.3 C395.8 276.2 397.8 276.6 399.0 277.5 C400.2 278.4 399.9 280.6 400.8 281.7 C401.7 282.8 402.5 284.4 404.4 284.4 C406.4 284.4 410.0 283.1 412.6 281.7 C415.2 280.3 418.5 276.9 419.9 276.3 C421.2 275.7 421.7 276.7 420.8 278.1 C419.9 279.4 416.8 282.8 414.4 284.4 C412.0 286.1 408.5 287.3 406.3 288.0 C404.0 288.8 402.3 288.0 400.8 289.0 C399.3 289.9 398.5 292.9 397.2 293.5 C395.9 294.1 393.3 293.5 393.0 292.6 C392.7 291.7 394.7 289.4 395.4 288.0 C396.1 286.7 397.2 285.5 397.2 284.4 C397.2 283.4 396.7 282.3 395.4 281.7 C394.0 281.1 391.3 280.8 389.0 280.8 C386.8 280.8 384.2 281.2 381.8 281.7 C379.3 282.2 376.1 283.7 374.5 283.7 C372.9 283.7 372.0 282.4 372.3 281.7 Z" fill="#fff" stroke="#111" stroke-width="1.28" />
<path d="M373.6 282.6 C375.0 282.2 379.0 281.0 381.8 280.4 C384.5 279.9 387.5 279.3 389.9 279.3 C392.4 279.3 394.9 279.6 396.3 280.4 C397.7 281.3 398.3 283.0 398.5 284.4 C398.6 285.8 397.9 287.6 397.2 289.0 C396.5 290.3 394.9 292.0 394.5 292.6" fill="none" stroke="#111" stroke-width="0.90" />
<path d="M396.3 273.5 L403.5 269.0 L407.5 270.8 L400.8 276.3 Z" fill="#fff" stroke="#111" stroke-width="1.28" />
<path d="M398.1 274.4 L404.4 270.3" fill="none" stroke="#111" stroke-width="0.90" />
<path d="M400.3 275.7 L406.3 271.4" fill="none" stroke="#111" stroke-width="0.90" />
<path d="M409.9 279.0 L416.6 275.0 L420.2 276.8 L414.1 281.7 Z" fill="#fff" stroke="#111" stroke-width="1.28" />
<path d="M411.7 279.9 L417.7 275.7" fill="none" stroke="#111" stroke-width="0.90" />
<path d="M426.8 249.6 L434.4 246.0 L450.7 253.2 L450.7 262.7 L445.3 267.2 L439.8 265.4 L439.8 260.8 L432.6 259.9 L426.8 257.2 Z" fill="#fff" stroke="#111" stroke-width="1.28" />
<path d="M426.8 249.6 L432.6 252.7 L432.6 259.9" fill="none" stroke="#111" stroke-width="1.02" />
<path d="M432.6 252.7 L439.8 255.4 L439.8 260.8" fill="none" stroke="#111" stroke-width="1.02" />
<path d="M439.8 255.4 L445.3 253.2 L450.7 255.4" fill="none" stroke="#111" stroke-width="1.02" />
<path d="M445.3 253.2 L445.3 267.2" fill="none" stroke="#111" stroke-width="1.02" />
<ellipse cx="429.8412698412698" cy="255.3968253968254" rx="2.6" ry="3.2" fill="none" stroke="#111" stroke-width="0.90" stroke-linecap="butt" />
<ellipse cx="443.08390022675735" cy="259.0249433106576" rx="2.6" ry="3.4" fill="none" stroke="#111" stroke-width="1.41" stroke-linecap="butt" />
<path d="M427.5 257.2 L432.2 259.4" fill="none" stroke="#111" stroke-width="1.79" />
<path d="M469.2 241.2 L472.8 239.1 L483.4 244.1 L483.4 248.1 L479.7 250.3 L469.2 245.6 Z" fill="#fff" stroke="#111" stroke-width="1.28" />
<path d="M469.2 241.2 L479.7 246.3 L479.7 250.3" fill="none" stroke="#111" stroke-width="1.02" />
<path d="M479.7 246.3 L483.4 244.1" fill="none" stroke="#111" stroke-width="1.02" />
<ellipse cx="471.5646258503401" cy="244.14965986394557" rx="1.2" ry="1.6" fill="none" stroke="#111" stroke-width="0.90" stroke-linecap="butt" />
<path d="M274.5569160997733 484.41950113378687 V491.41950113378687 A4.4 2.2 0 0 0 283.35691609977323 491.41950113378687 V484.41950113378687" fill="#fff" stroke="#111" stroke-width="1.02" />
<ellipse cx="278.95691609977325" cy="484.41950113378687" rx="4.4" ry="2.2" fill="#fff" stroke="#111" stroke-width="1.02" stroke-linecap="butt" />
<path d="M278.41269841269843 494.3968253968254 L278.41269841269843 508.00226757369614" fill="none" stroke="#333" stroke-width="0.90" stroke-dasharray="6 2 1 2"/>
<path d="M278.41269841269843 508.00226757369614 L321.58730158730157 495.30385487528343" fill="none" stroke="#333" stroke-width="0.90" stroke-dasharray="10 2.5 1.2 2.5"/>
<path d="M286.21315192743765 521.6077097505669 L321.58730158730157 501.6530612244898" fill="none" stroke="#333" stroke-width="0.90" stroke-dasharray="10 2.5 1.2 2.5"/>
<path d="M331.9274376417234 506.18820861678006 L331.9274376417234 514.3514739229025" fill="none" stroke="#333" stroke-width="0.90" stroke-dasharray="5 1.5 1 1.5"/>
<path d="M331.9274376417234 514.3514739229025 L319.4104308390023 520.156462585034 L319.4104308390023 523.421768707483" fill="none" stroke="#333" stroke-width="0.90" stroke-dasharray="5 1.5 1 1.5"/>
<ellipse cx="281.6780045351474" cy="526.1428571428571" rx="5.6" ry="3.6" fill="#fff" stroke="#111" stroke-width="1.66" stroke-linecap="butt" transform="rotate(25 281.6780045351474 526.1428571428571)" />
<ellipse cx="281.6780045351474" cy="526.1428571428571" rx="3.6" ry="2.2" fill="none" stroke="#111" stroke-width="0.90" stroke-linecap="butt" transform="rotate(25 281.6780045351474 526.1428571428571)" />
<ellipse cx="274.05895691609976" cy="538.0272108843537" rx="6.6" ry="4.6" fill="#fff" stroke="#111" stroke-width="2.05" stroke-linecap="butt" transform="rotate(20 274.05895691609976 538.0272108843537)" />
<ellipse cx="274.05895691609976" cy="536.5272108843537" rx="5.6" ry="3.6" fill="#fff" stroke="#111" stroke-width="1.02" stroke-linecap="butt" transform="rotate(20 274.05895691609976 536.5272108843537)" />
<ellipse cx="274.85895691609977" cy="535.4272108843537" rx="3.0" ry="2.2" fill="#fff" stroke="#111" stroke-width="1.15" stroke-linecap="butt" />
<ellipse cx="275.05895691609976" cy="535.2272108843538" rx="1.2" ry="0.9" fill="none" stroke="#111" stroke-width="1.02" stroke-linecap="butt" />
<ellipse cx="318.86621315192747" cy="525.235827664399" rx="5.2" ry="2.4" fill="#fff" stroke="#111" stroke-width="1.54" stroke-linecap="butt" />
<ellipse cx="318.86621315192747" cy="525.235827664399" rx="2.8" ry="1.2" fill="none" stroke="#111" stroke-width="1.02" stroke-linecap="butt" />
<line x1="318.86621315192747" y1="528.235827664399" x2="318.86621315192747" y2="532.235827664399" stroke="#333" stroke-width="0.90" />
<path d="M317.4104308390023 529.9342403628118 V535.9342403628118 H321.4104308390023 V529.9342403628118 Z" fill="#fff" stroke="#111" stroke-width="1.02" />
<ellipse cx="319.4104308390023" cy="539.1342403628119" rx="5" ry="2.6" fill="#fff" stroke="#111" stroke-width="1.15" stroke-linecap="butt" />
<path d="M315.81043083900227 535.5342403628118 L315.2104308390023 538.5342403628118 L317.6104308390023 540.5342403628118 H321.2104308390023 L323.6104308390023 538.5342403628118 L323.0104308390023 535.5342403628118 L321.0104308390023 534.5342403628118 H317.81043083900227 Z" fill="#fff" stroke="#111" stroke-width="1.15" />
<line x1="317.6104308390023" y1="534.7342403628118" x2="317.6104308390023" y2="540.3342403628118" stroke="#111" stroke-width="0.77" />
<line x1="321.2104308390023" y1="534.7342403628118" x2="321.2104308390023" y2="540.3342403628118" stroke="#111" stroke-width="0.77" />
<ellipse cx="347.6" cy="541.6" rx="14" ry="7" fill="#fff" stroke="#111" stroke-width="1.02" stroke-linecap="butt" />
<ellipse cx="347.6" cy="540.2" rx="14" ry="7" fill="#fff" stroke="#555" stroke-width="0.77" stroke-linecap="butt" />
<ellipse cx="347.6" cy="538.6" rx="14" ry="7" fill="#fff" stroke="#111" stroke-width="1.28" stroke-linecap="butt" />
<ellipse cx="347.6" cy="538.6" rx="12" ry="5.8" fill="none" stroke="#555" stroke-width="0.77" stroke-linecap="butt" />
<ellipse cx="347.6" cy="538.8000000000001" rx="9.6" ry="4.4" fill="none" stroke="#111" stroke-width="1.28" stroke-linecap="butt" />
<ellipse cx="347.6" cy="539.4" rx="8" ry="3.4" fill="none" stroke="#111" stroke-width="2.18" stroke-linecap="butt" />
<path d="M392.6 489.9 L413 497.2" fill="none" stroke="#333" stroke-width="0.90" stroke-dasharray="5 2 1 2"/>
<ellipse cx="417.0975056689342" cy="498.0249433106576" rx="3.0" ry="3.4" fill="#fff" stroke="#111" stroke-width="1.79" stroke-linecap="butt" transform="rotate(20 417.0975056689342 498.0249433106576)" />
<ellipse cx="417.0975056689342" cy="498.0249433106576" rx="1.4" ry="1.7" fill="none" stroke="#111" stroke-width="1.02" stroke-linecap="butt" transform="rotate(20 417.0975056689342 498.0249433106576)" />
<path d="M421 499.6 L431 502.8" fill="none" stroke="#333" stroke-width="0.90" stroke-dasharray="4 1.5 1 1.5"/>
<path d="M430.7 501.7 L435.8 503.1 L435.1 506.0 L430.3 504.6 Z" fill="#fff" stroke="#111" stroke-width="1.15" />
<ellipse cx="439.4104308390023" cy="505.281179138322" rx="3.8" ry="4.6" fill="#fff" stroke="#111" stroke-width="1.41" stroke-linecap="butt" transform="rotate(15 439.4104308390023 505.281179138322)" />
<ellipse cx="440.2104308390023" cy="505.281179138322" rx="2.6" ry="3.4" fill="#fff" stroke="#111" stroke-width="1.28" stroke-linecap="butt" transform="rotate(15 440.2104308390023 505.281179138322)" />
<ellipse cx="440.6104308390023" cy="505.281179138322" rx="1.3" ry="1.8" fill="none" stroke="#111" stroke-width="0.90" stroke-linecap="butt" />
<line x1="347.6" y1="15.3" x2="347.6" y2="33.4" stroke="#333" stroke-width="0.90" />
<line x1="347.6" y1="52.7" x2="347.6" y2="76.5" stroke="#333" stroke-width="0.90" />
<line x1="347.6" y1="88.5" x2="347.6" y2="117.7" stroke="#333" stroke-width="0.90" />
<line x1="347.6" y1="125.6" x2="347.6" y2="159.6" stroke="#333" stroke-width="0.90" />
<line x1="347.6" y1="155" x2="347.6" y2="160.9" stroke="#333" stroke-width="0.90" />
<line x1="347.6" y1="180.4" x2="347.6" y2="210.4" stroke="#333" stroke-width="0.90" />
<line x1="347.6" y1="222.7" x2="347.6" y2="245.8" stroke="#333" stroke-width="0.90" />
<line x1="347.6" y1="265.4" x2="347.6" y2="285.4" stroke="#333" stroke-width="0.90" />
<line x1="347.6" y1="307.2" x2="347.6" y2="330.7" stroke="#333" stroke-width="0.90" />
<line x1="347.6" y1="350.8" x2="347.6" y2="371.7" stroke="#333" stroke-width="0.90" />
<line x1="347.6" y1="389.5" x2="347.6" y2="416.2" stroke="#333" stroke-width="0.90" />
<line x1="347.6" y1="420.8" x2="347.6" y2="422.6" stroke="#333" stroke-width="0.90" />
<line x1="347.6" y1="436" x2="347.6" y2="459" stroke="#333" stroke-width="0.90" />
<line x1="347.6" y1="478" x2="347.6" y2="492.6" stroke="#333" stroke-width="0.90" />
<line x1="347.6" y1="496" x2="347.6" y2="506" stroke="#333" stroke-width="0.90" />
<line x1="347.6" y1="511.8" x2="347.6" y2="513.4" stroke="#333" stroke-width="0.90" />
<line x1="347.6" y1="520.7" x2="347.6" y2="538.9" stroke="#333" stroke-width="0.90" />
<circle cx="347.6" cy="39.7" r="0.45" fill="#333"/>
<circle cx="347.6" cy="46.5" r="0.45" fill="#333"/>
<circle cx="347.6" cy="166.8" r="0.45" fill="#333"/>
<circle cx="347.6" cy="174" r="0.45" fill="#333"/>
<circle cx="347.6" cy="216.3" r="0.45" fill="#333"/>
<circle cx="347.6" cy="252.5" r="0.45" fill="#333"/>
<circle cx="347.6" cy="258.1" r="0.45" fill="#333"/>
<circle cx="347.6" cy="294.4" r="0.45" fill="#333"/>
<circle cx="347.6" cy="301.7" r="0.45" fill="#333"/>
<circle cx="347.6" cy="337.2" r="0.45" fill="#333"/>
<circle cx="347.6" cy="343.6" r="0.45" fill="#333"/>
<circle cx="347.6" cy="379.5" r="0.45" fill="#333"/>
<circle cx="347.6" cy="428.9" r="0.45" fill="#333"/>
<circle cx="347.6" cy="464.5" r="0.45" fill="#333"/>
<circle cx="347.6" cy="507.5" r="0.45" fill="#333"/>
<line x1="307.81" y1="7.04" x2="333.9" y2="14.7" stroke="#666" stroke-width="0.90" />
<circle cx="333.9" cy="14.7" r="1.15" fill="#111"/>
<line x1="219.81" y1="41.68" x2="234.4" y2="62.6" stroke="#666" stroke-width="0.90" />
<circle cx="234.4" cy="62.6" r="1.15" fill="#111"/>
<line x1="251.76" y1="41.56" x2="267.1" y2="65.3" stroke="#666" stroke-width="0.90" />
<circle cx="267.1" cy="65.3" r="1.15" fill="#111"/>
<line x1="430.71" y1="15.28" x2="401.8" y2="27.6" stroke="#666" stroke-width="0.90" />
<circle cx="401.8" cy="27.6" r="1.15" fill="#111"/>
<line x1="440.71000000000004" y1="37.57" x2="467.5" y2="51.7" stroke="#666" stroke-width="0.90" />
<circle cx="467.5" cy="51.7" r="1.15" fill="#111"/>
<line x1="518.92" y1="20.990000000000002" x2="485.3" y2="33.9" stroke="#666" stroke-width="0.90" />
<circle cx="485.3" cy="33.9" r="1.15" fill="#111"/>
<line x1="518.71" y1="47.38" x2="484.4" y2="58.6" stroke="#666" stroke-width="0.90" />
<circle cx="484.4" cy="58.6" r="1.15" fill="#111"/>
<line x1="284.26" y1="109.82" x2="312.6" y2="114.5" stroke="#666" stroke-width="0.90" />
<circle cx="312.6" cy="114.5" r="1.15" fill="#111"/>
<line x1="284.26" y1="164.26000000000002" x2="320.8" y2="173.1" stroke="#666" stroke-width="0.90" />
<circle cx="320.8" cy="173.1" r="1.15" fill="#111"/>
<line x1="284.73" y1="187.35000000000002" x2="327.7" y2="197.8" stroke="#666" stroke-width="0.90" />
<circle cx="327.7" cy="197.8" r="1.15" fill="#111"/>
<line x1="284.73" y1="208.46" x2="329" y2="220.4" stroke="#666" stroke-width="0.90" />
<circle cx="329" cy="220.4" r="1.15" fill="#111"/>
<line x1="285.13" y1="228.06" x2="335.3" y2="241.3" stroke="#666" stroke-width="0.90" />
<circle cx="335.3" cy="241.3" r="1.15" fill="#111"/>
<line x1="284.73" y1="262.05" x2="337" y2="273.4" stroke="#666" stroke-width="0.90" />
<circle cx="337" cy="273.4" r="1.15" fill="#111"/>
<line x1="284.73" y1="289.93" x2="333.1" y2="301.3" stroke="#666" stroke-width="0.90" />
<circle cx="333.1" cy="301.3" r="1.15" fill="#111"/>
<line x1="284.73" y1="321.65999999999997" x2="337.1" y2="333.5" stroke="#666" stroke-width="0.90" />
<circle cx="337.1" cy="333.5" r="1.15" fill="#111"/>
<line x1="284.96" y1="390.84" x2="303.7" y2="393" stroke="#666" stroke-width="0.90" />
<circle cx="303.7" cy="393" r="1.15" fill="#111"/>
<line x1="284.63" y1="422.96" x2="328.8" y2="430.2" stroke="#666" stroke-width="0.90" />
<circle cx="328.8" cy="430.2" r="1.15" fill="#111"/>
<line x1="241.53" y1="480.43" x2="274.4" y2="488" stroke="#666" stroke-width="0.90" />
<circle cx="274.4" cy="488" r="1.15" fill="#111"/>
<line x1="241.53" y1="509.8" x2="277.2" y2="523.4" stroke="#666" stroke-width="0.90" />
<circle cx="277.2" cy="523.4" r="1.15" fill="#111"/>
<line x1="241.25" y1="527.97" x2="268.6" y2="538" stroke="#666" stroke-width="0.90" />
<circle cx="268.6" cy="538" r="1.15" fill="#111"/>
<line x1="301.46" y1="531.63" x2="314.4" y2="525.6" stroke="#666" stroke-width="0.90" />
<circle cx="314.4" cy="525.6" r="1.15" fill="#111"/>
<line x1="302.36" y1="548.39" x2="315.3" y2="539.8" stroke="#666" stroke-width="0.90" />
<circle cx="315.3" cy="539.8" r="1.15" fill="#111"/>
<line x1="394.88" y1="510.64000000000004" x2="413.5" y2="500.8" stroke="#666" stroke-width="0.90" />
<circle cx="413.5" cy="500.8" r="1.15" fill="#111"/>
<line x1="394.88" y1="530.11" x2="434.3" y2="506.2" stroke="#666" stroke-width="0.90" />
<circle cx="434.3" cy="506.2" r="1.15" fill="#111"/>
<line x1="386.75" y1="549.53" x2="359" y2="542.5" stroke="#666" stroke-width="0.90" />
<circle cx="359" cy="542.5" r="1.15" fill="#111"/>
<line x1="448.02000000000004" y1="487.04" x2="416.2" y2="471.7" stroke="#666" stroke-width="0.90" />
<circle cx="416.2" cy="471.7" r="1.15" fill="#111"/>
<line x1="475.33" y1="473.46" x2="429" y2="452.2" stroke="#666" stroke-width="0.90" />
<circle cx="429" cy="452.2" r="1.15" fill="#111"/>
<line x1="506.16" y1="458.9" x2="464.4" y2="439.5" stroke="#666" stroke-width="0.90" />
<circle cx="464.4" cy="439.5" r="1.15" fill="#111"/>
<line x1="538.79" y1="443.44" x2="500.3" y2="424.5" stroke="#666" stroke-width="0.90" />
<circle cx="500.3" cy="424.5" r="1.15" fill="#111"/>
<line x1="566.78" y1="430.34000000000003" x2="535.4" y2="416.3" stroke="#666" stroke-width="0.90" />
<circle cx="535.4" cy="416.3" r="1.15" fill="#111"/>
<line x1="594.09" y1="417.61" x2="557.2" y2="398.1" stroke="#666" stroke-width="0.90" />
<circle cx="557.2" cy="398.1" r="1.15" fill="#111"/>
<line x1="621.75" y1="404.41" x2="591.7" y2="388.5" stroke="#666" stroke-width="0.90" />
<circle cx="591.7" cy="388.5" r="1.15" fill="#111"/>
<line x1="652.31" y1="389.84000000000003" x2="622.5" y2="375.1" stroke="#666" stroke-width="0.90" />
<circle cx="622.5" cy="375.1" r="1.15" fill="#111"/>
<line x1="684.8" y1="374.43" x2="645.8" y2="355.8" stroke="#666" stroke-width="0.90" />
<circle cx="645.8" cy="355.8" r="1.15" fill="#111"/>
<line x1="728.54" y1="353.5" x2="690.8" y2="334.5" stroke="#666" stroke-width="0.90" />
<circle cx="690.8" cy="334.5" r="1.15" fill="#111"/>
<line x1="761.14" y1="338.13" x2="719.9" y2="316.3" stroke="#666" stroke-width="0.90" />
<circle cx="719.9" cy="316.3" r="1.15" fill="#111"/>
<line x1="780.5999999999999" y1="329.03000000000003" x2="736.2" y2="303.1" stroke="#666" stroke-width="0.90" />
<circle cx="736.2" cy="303.1" r="1.15" fill="#111"/>
<line x1="504.69" y1="257.11" x2="483.4" y2="248.1" stroke="#666" stroke-width="0.90" />
<circle cx="483.4" cy="248.1" r="1.15" fill="#111"/>
<line x1="470.22" y1="272.33" x2="450.7" y2="261.8" stroke="#666" stroke-width="0.90" />
<circle cx="450.7" cy="261.8" r="1.15" fill="#111"/>
<line x1="438.09" y1="287.47" x2="419.9" y2="278.1" stroke="#666" stroke-width="0.90" />
<circle cx="419.9" cy="278.1" r="1.15" fill="#111"/>
<line x1="710.25" y1="135.36" x2="650.8" y2="110.8" stroke="#666" stroke-width="0.90" />
<circle cx="650.8" cy="110.8" r="1.15" fill="#111"/>
<line x1="623.79" y1="166.69" x2="588.5" y2="147.2" stroke="#666" stroke-width="0.90" />
<circle cx="588.5" cy="147.2" r="1.15" fill="#111"/>
<line x1="575.05" y1="183.56" x2="523" y2="152.6" stroke="#666" stroke-width="0.90" />
<circle cx="523" cy="152.6" r="1.15" fill="#111"/>
<ellipse cx="302.7" cy="6.2" rx="7.45" ry="6.2" fill="#fff" stroke="#6a6a6a" stroke-width="0.85" stroke-linecap="butt"/>
<text transform="translate(302.7 8.95) scale(1.17 1)" x="0" y="0" text-anchor="middle" class="t">32</text>
<ellipse cx="217.5" cy="37.2" rx="7.45" ry="6.2" fill="#fff" stroke="#6a6a6a" stroke-width="0.85" stroke-linecap="butt"/>
<text transform="translate(217.5 39.95) scale(1.17 1)" x="0" y="0" text-anchor="middle" class="t">34</text>
<ellipse cx="249.8" cy="36.8" rx="7.45" ry="6.2" fill="#fff" stroke="#6a6a6a" stroke-width="0.85" stroke-linecap="butt"/>
<text transform="translate(249.8 39.55) scale(1.17 1)" x="0" y="0" text-anchor="middle" class="t">33</text>
<ellipse cx="435.4" cy="13.6" rx="7.45" ry="6.2" fill="#fff" stroke="#6a6a6a" stroke-width="0.85" stroke-linecap="butt"/>
<text transform="translate(435.4 16.35) scale(1.17 1)" x="0" y="0" text-anchor="middle" class="t">40</text>
<ellipse cx="436.3" cy="35.4" rx="7.45" ry="6.2" fill="#fff" stroke="#6a6a6a" stroke-width="0.85" stroke-linecap="butt"/>
<text transform="translate(436.3 38.15) scale(1.17 1)" x="0" y="0" text-anchor="middle" class="t">30</text>
<ellipse cx="523.4" cy="19.1" rx="7.45" ry="6.2" fill="#fff" stroke="#6a6a6a" stroke-width="0.85" stroke-linecap="butt"/>
<text transform="translate(523.4 21.85) scale(1.17 1)" x="0" y="0" text-anchor="middle" class="t">31</text>
<ellipse cx="523.4" cy="45.7" rx="7.45" ry="6.2" fill="#fff" stroke="#6a6a6a" stroke-width="0.85" stroke-linecap="butt"/>
<text transform="translate(523.4 48.45) scale(1.17 1)" x="0" y="0" text-anchor="middle" class="t">29</text>
<ellipse cx="279.5" cy="108.7" rx="7.45" ry="6.2" fill="#fff" stroke="#6a6a6a" stroke-width="0.85" stroke-linecap="butt"/>
<text transform="translate(279.5 111.45) scale(1.17 1)" x="0" y="0" text-anchor="middle" class="t">03</text>
<ellipse cx="279.5" cy="163" rx="7.45" ry="6.2" fill="#fff" stroke="#6a6a6a" stroke-width="0.85" stroke-linecap="butt"/>
<text transform="translate(279.5 165.75) scale(1.17 1)" x="0" y="0" text-anchor="middle" class="t">26</text>
<ellipse cx="279.9" cy="186.3" rx="7.45" ry="6.2" fill="#fff" stroke="#6a6a6a" stroke-width="0.85" stroke-linecap="butt"/>
<text transform="translate(279.9 189.05) scale(1.17 1)" x="0" y="0" text-anchor="middle" class="t">25</text>
<ellipse cx="279.9" cy="207.2" rx="7.45" ry="6.2" fill="#fff" stroke="#6a6a6a" stroke-width="0.85" stroke-linecap="butt"/>
<text transform="translate(279.9 209.95) scale(1.17 1)" x="0" y="0" text-anchor="middle" class="t">24</text>
<ellipse cx="280.3" cy="226.8" rx="7.45" ry="6.2" fill="#fff" stroke="#6a6a6a" stroke-width="0.85" stroke-linecap="butt"/>
<text transform="translate(280.3 229.55) scale(1.17 1)" x="0" y="0" text-anchor="middle" class="t">23</text>
<ellipse cx="279.9" cy="261" rx="7.45" ry="6.2" fill="#fff" stroke="#6a6a6a" stroke-width="0.85" stroke-linecap="butt"/>
<text transform="translate(279.9 263.75) scale(1.17 1)" x="0" y="0" text-anchor="middle" class="t">22</text>
<ellipse cx="279.9" cy="288.6" rx="7.45" ry="6.2" fill="#fff" stroke="#6a6a6a" stroke-width="0.85" stroke-linecap="butt"/>
<text transform="translate(279.9 291.35) scale(1.17 1)" x="0" y="0" text-anchor="middle" class="t">18</text>
<ellipse cx="279.9" cy="320.4" rx="7.45" ry="6.2" fill="#fff" stroke="#6a6a6a" stroke-width="0.85" stroke-linecap="butt"/>
<text transform="translate(279.9 323.15) scale(1.17 1)" x="0" y="0" text-anchor="middle" class="t">17</text>
<ellipse cx="280.2" cy="390" rx="7.45" ry="6.2" fill="#fff" stroke="#6a6a6a" stroke-width="0.85" stroke-linecap="butt"/>
<text transform="translate(280.2 392.75) scale(1.17 1)" x="0" y="0" text-anchor="middle" class="t">02</text>
<ellipse cx="279.8" cy="421.7" rx="7.45" ry="6.2" fill="#fff" stroke="#6a6a6a" stroke-width="0.85" stroke-linecap="butt"/>
<text transform="translate(279.8 424.45) scale(1.17 1)" x="0" y="0" text-anchor="middle" class="t">16</text>
<ellipse cx="236.7" cy="478.4" rx="7.45" ry="6.2" fill="#fff" stroke="#6a6a6a" stroke-width="0.85" stroke-linecap="butt"/>
<text transform="translate(236.7 481.15) scale(1.17 1)" x="0" y="0" text-anchor="middle" class="t">39</text>
<ellipse cx="236.7" cy="507.7" rx="7.45" ry="6.2" fill="#fff" stroke="#6a6a6a" stroke-width="0.85" stroke-linecap="butt"/>
<text transform="translate(236.7 510.45) scale(1.17 1)" x="0" y="0" text-anchor="middle" class="t">37</text>
<ellipse cx="236.7" cy="525.8" rx="7.45" ry="6.2" fill="#fff" stroke="#6a6a6a" stroke-width="0.85" stroke-linecap="butt"/>
<text transform="translate(236.7 528.55) scale(1.17 1)" x="0" y="0" text-anchor="middle" class="t">38</text>
<ellipse cx="296.7" cy="533.8" rx="7.45" ry="6.2" fill="#fff" stroke="#6a6a6a" stroke-width="0.85" stroke-linecap="butt"/>
<text transform="translate(296.7 536.55) scale(1.17 1)" x="0" y="0" text-anchor="middle" class="t">35</text>
<ellipse cx="297.6" cy="550.7" rx="7.45" ry="6.2" fill="#fff" stroke="#6a6a6a" stroke-width="0.85" stroke-linecap="butt"/>
<text transform="translate(297.6 553.45) scale(1.17 1)" x="0" y="0" text-anchor="middle" class="t">36</text>
<ellipse cx="390.4" cy="512.6" rx="7.45" ry="6.2" fill="#fff" stroke="#6a6a6a" stroke-width="0.85" stroke-linecap="butt"/>
<text transform="translate(390.4 515.35) scale(1.17 1)" x="0" y="0" text-anchor="middle" class="t">35</text>
<ellipse cx="390.4" cy="532" rx="7.45" ry="6.2" fill="#fff" stroke="#6a6a6a" stroke-width="0.85" stroke-linecap="butt"/>
<text transform="translate(390.4 534.75) scale(1.17 1)" x="0" y="0" text-anchor="middle" class="t">36</text>
<ellipse cx="391.3" cy="551" rx="7.45" ry="6.2" fill="#fff" stroke="#6a6a6a" stroke-width="0.85" stroke-linecap="butt"/>
<text transform="translate(391.3 553.75) scale(1.17 1)" x="0" y="0" text-anchor="middle" class="t">32</text>
<ellipse cx="452.5" cy="489" rx="7.45" ry="6.2" fill="#fff" stroke="#6a6a6a" stroke-width="0.85" stroke-linecap="butt"/>
<text transform="translate(452.5 491.75) scale(1.17 1)" x="0" y="0" text-anchor="middle" class="t">04</text>
<ellipse cx="479.6" cy="475.7" rx="7.45" ry="6.2" fill="#fff" stroke="#6a6a6a" stroke-width="0.85" stroke-linecap="butt"/>
<text transform="translate(479.6 478.45) scale(1.17 1)" x="0" y="0" text-anchor="middle" class="t">05</text>
<ellipse cx="510.5" cy="461" rx="7.45" ry="6.2" fill="#fff" stroke="#6a6a6a" stroke-width="0.85" stroke-linecap="butt"/>
<text transform="translate(510.5 463.75) scale(1.17 1)" x="0" y="0" text-anchor="middle" class="t">06</text>
<ellipse cx="543.2" cy="445.4" rx="7.45" ry="6.2" fill="#fff" stroke="#6a6a6a" stroke-width="0.85" stroke-linecap="butt"/>
<text transform="translate(543.2 448.15) scale(1.17 1)" x="0" y="0" text-anchor="middle" class="t">07</text>
<ellipse cx="571.4" cy="432.3" rx="7.45" ry="6.2" fill="#fff" stroke="#6a6a6a" stroke-width="0.85" stroke-linecap="butt"/>
<text transform="translate(571.4 435.05) scale(1.17 1)" x="0" y="0" text-anchor="middle" class="t">08</text>
<ellipse cx="598.5" cy="419.5" rx="7.45" ry="6.2" fill="#fff" stroke="#6a6a6a" stroke-width="0.85" stroke-linecap="butt"/>
<text transform="translate(598.5 422.25) scale(1.17 1)" x="0" y="0" text-anchor="middle" class="t">09</text>
<ellipse cx="626.3" cy="406.3" rx="7.45" ry="6.2" fill="#fff" stroke="#6a6a6a" stroke-width="0.85" stroke-linecap="butt"/>
<text transform="translate(626.3 409.05) scale(1.17 1)" x="0" y="0" text-anchor="middle" class="t">10</text>
<ellipse cx="657" cy="391.8" rx="7.45" ry="6.2" fill="#fff" stroke="#6a6a6a" stroke-width="0.85" stroke-linecap="butt"/>
<text transform="translate(657 394.55) scale(1.17 1)" x="0" y="0" text-anchor="middle" class="t">11</text>
<ellipse cx="689" cy="376.6" rx="7.45" ry="6.2" fill="#fff" stroke="#6a6a6a" stroke-width="0.85" stroke-linecap="butt"/>
<text transform="translate(689 379.35) scale(1.17 1)" x="0" y="0" text-anchor="middle" class="t">12</text>
<ellipse cx="732.6" cy="355.6" rx="7.45" ry="6.2" fill="#fff" stroke="#6a6a6a" stroke-width="0.85" stroke-linecap="butt"/>
<text transform="translate(732.6 358.35) scale(1.17 1)" x="0" y="0" text-anchor="middle" class="t">13</text>
<ellipse cx="765.2" cy="340.3" rx="7.45" ry="6.2" fill="#fff" stroke="#6a6a6a" stroke-width="0.85" stroke-linecap="butt"/>
<text transform="translate(765.2 343.05) scale(1.17 1)" x="0" y="0" text-anchor="middle" class="t">14</text>
<ellipse cx="784.8" cy="331.2" rx="7.45" ry="6.2" fill="#fff" stroke="#6a6a6a" stroke-width="0.85" stroke-linecap="butt"/>
<text transform="translate(784.8 333.95) scale(1.17 1)" x="0" y="0" text-anchor="middle" class="t">15</text>
<ellipse cx="509.1" cy="259" rx="7.45" ry="6.2" fill="#fff" stroke="#6a6a6a" stroke-width="0.85" stroke-linecap="butt"/>
<text transform="translate(509.1 261.75) scale(1.17 1)" x="0" y="0" text-anchor="middle" class="t">21</text>
<ellipse cx="474.7" cy="274.5" rx="7.45" ry="6.2" fill="#fff" stroke="#6a6a6a" stroke-width="0.85" stroke-linecap="butt"/>
<text transform="translate(474.7 277.25) scale(1.17 1)" x="0" y="0" text-anchor="middle" class="t">20</text>
<ellipse cx="442.5" cy="289.5" rx="7.45" ry="6.2" fill="#fff" stroke="#6a6a6a" stroke-width="0.85" stroke-linecap="butt"/>
<text transform="translate(442.5 292.25) scale(1.17 1)" x="0" y="0" text-anchor="middle" class="t">19</text>
<ellipse cx="714.8" cy="137.6" rx="7.45" ry="6.2" fill="#fff" stroke="#6a6a6a" stroke-width="0.85" stroke-linecap="butt"/>
<text transform="translate(714.8 140.35) scale(1.17 1)" x="0" y="0" text-anchor="middle" class="t">28</text>
<ellipse cx="628.2" cy="169" rx="7.45" ry="6.2" fill="#fff" stroke="#6a6a6a" stroke-width="0.85" stroke-linecap="butt"/>
<text transform="translate(628.2 171.75) scale(1.17 1)" x="0" y="0" text-anchor="middle" class="t">01</text>
<ellipse cx="578.9" cy="185.8" rx="7.45" ry="6.2" fill="#fff" stroke="#6a6a6a" stroke-width="0.85" stroke-linecap="butt"/>
<text transform="translate(578.9 188.55) scale(1.17 1)" x="0" y="0" text-anchor="middle" class="t">27</text>
</svg>
</body></html>
